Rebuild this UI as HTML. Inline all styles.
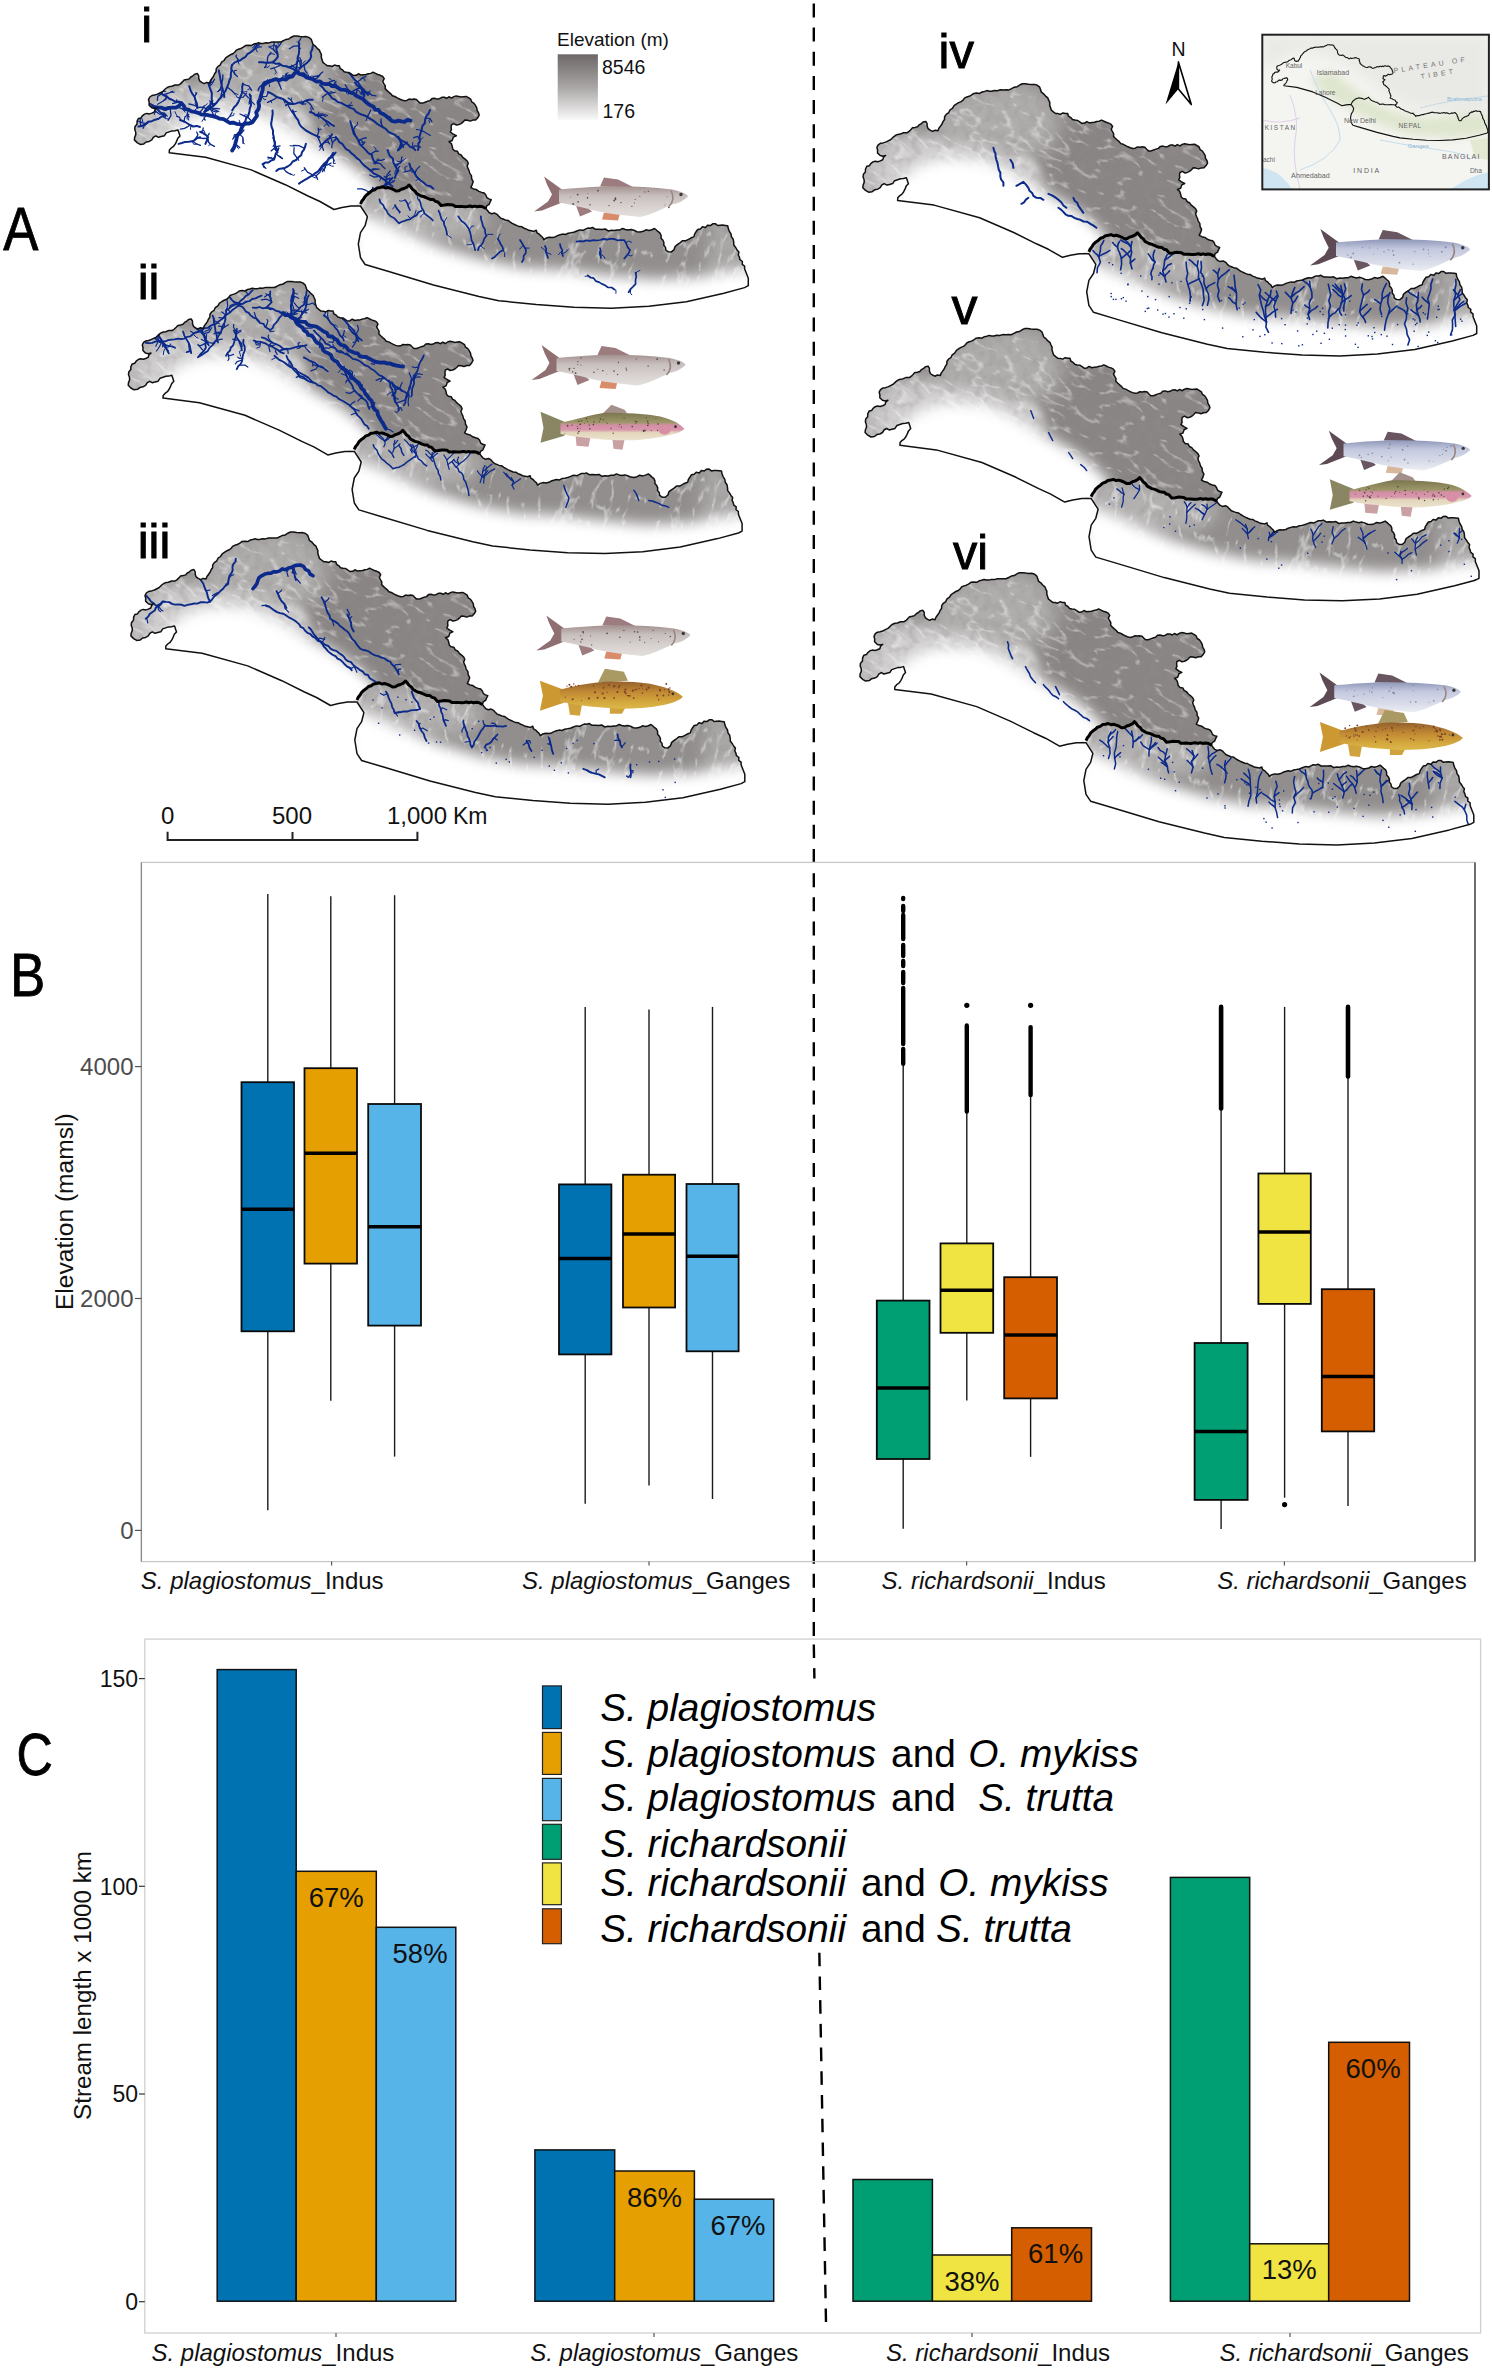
<!DOCTYPE html><html><head><meta charset="utf-8"><style>html,body{margin:0;padding:0;background:#fff;}svg{display:block;} text{font-family:"Liberation Sans",sans-serif;}</style></head><body>
<svg width="1492" height="2368" viewBox="0 0 1492 2368">
<defs>
<clipPath id="clipInd"><path d="M169.2,152.7 L169.4,150.0 L171.2,148.0 L173.6,146.3 L175.3,143.9 L176.6,141.3 L177.8,138.3 L180.0,135.9 L179.0,132.9 L178.0,129.9 L175.1,130.7 L172.1,130.9 L169.2,131.9 L166.2,132.9 L164.3,135.8 L161.2,136.6 L158.4,137.3 L155.8,135.9 L153.3,137.4 L151.8,139.9 L149.2,141.4 L146.2,142.0 L143.8,143.9 L140.2,144.4 L137.1,142.6 L134.4,139.9 L134.7,137.2 L135.8,134.6 L135.7,131.9 L134.7,129.3 L135.0,126.5 L137.0,124.2 L137.1,121.2 L138.4,118.5 L140.9,117.9 L142.4,115.8 L144.5,114.1 L146.8,113.4 L149.5,113.9 L151.8,113.1 L154.3,112.0 L155.2,109.3 L157.2,107.7 L154.5,108.4 L151.8,107.7 L149.1,105.1 L149.2,102.4 L148.5,99.6 L149.8,97.0 L152.0,95.5 L154.7,95.1 L157.2,94.3 L159.8,93.0 L162.5,91.7 L165.2,89.0 L167.2,87.5 L169.4,86.6 L171.9,86.3 L175.1,85.0 L178.6,85.0 L180.6,83.6 L182.4,81.9 L184.1,80.0 L186.7,79.6 L189.1,78.9 L190.8,77.0 L192.9,75.8 L194.7,74.2 L197.4,73.6 L198.7,75.8 L198.7,78.3 L199.7,80.9 L201.7,82.4 L204.1,83.6 L206.7,82.4 L209.5,83.0 L210.5,80.5 L212.1,78.3 L213.6,76.2 L214.6,73.8 L216.1,71.7 L216.2,68.9 L217.8,66.6 L220.3,64.9 L221.5,62.2 L224.0,60.5 L225.7,57.8 L228.2,56.1 L230.3,54.8 L232.8,53.8 L234.7,52.2 L236.3,50.1 L238.5,49.2 L240.8,48.5 L243.0,47.4 L245.4,45.6 L248.2,45.2 L251.2,45.6 L253.7,44.1 L256.1,43.6 L258.5,42.8 L261.0,43.4 L263.4,43.4 L265.8,42.7 L268.9,42.9 L272.0,42.0 L275.1,42.1 L277.8,42.0 L280.5,42.1 L283.2,40.8 L285.9,39.4 L288.8,38.9 L291.3,37.2 L293.9,36.0 L297.1,36.0 L300.2,36.4 L303.3,36.7 L306.3,36.6 L309.0,37.5 L311.3,39.4 L312.2,41.9 L313.0,44.4 L315.3,46.1 L317.2,48.3 L319.4,50.1 L320.3,52.4 L321.4,54.6 L321.3,57.2 L322.0,59.5 L322.9,62.3 L325.0,64.0 L327.2,65.7 L329.6,65.8 L332.0,66.5 L334.5,65.1 L336.9,65.7 L339.3,65.7 L340.1,68.4 L342.4,69.8 L344.1,71.7 L346.5,72.3 L349.1,72.6 L351.3,74.0 L353.5,75.6 L356.2,75.3 L358.4,73.8 L361.1,75.1 L363.6,74.7 L366.0,74.5 L368.4,73.7 L370.8,73.4 L373.1,72.3 L375.5,73.4 L377.8,74.5 L380.4,75.3 L382.7,76.5 L384.2,78.7 L382.8,81.5 L384.0,83.8 L385.3,86.0 L385.1,88.6 L386.9,90.4 L388.8,92.2 L390.8,93.8 L392.4,95.8 L394.9,96.5 L397.2,97.8 L399.5,99.0 L401.9,100.0 L404.4,100.7 L406.8,100.4 L409.1,99.1 L411.6,99.4 L414.0,99.0 L416.5,99.5 L418.2,101.4 L420.1,103.1 L422.8,103.1 L425.1,102.2 L427.6,101.3 L430.0,100.6 L432.0,98.6 L434.6,98.3 L437.0,99.1 L439.4,98.7 L441.9,97.3 L444.3,97.2 L446.7,98.3 L448.9,96.8 L451.6,98.1 L453.8,96.6 L456.2,95.9 L458.7,96.4 L461.1,97.0 L463.6,96.7 L466.1,96.4 L468.4,97.7 L470.7,99.2 L471.7,101.8 L474.0,103.3 L475.5,105.5 L476.8,107.9 L477.1,110.5 L478.5,112.7 L479.2,115.1 L477.7,117.8 L475.6,120.0 L472.9,120.1 L470.2,121.1 L467.5,120.3 L464.8,120.0 L463.1,121.9 L461.1,123.6 L458.8,124.6 L456.4,125.1 L453.8,123.6 L451.5,124.8 L451.1,127.2 L451.4,129.7 L450.3,132.0 L453.2,134.1 L456.3,135.7 L453.4,137.1 L452.2,140.5 L449.1,141.7 L451.3,143.6 L452.2,146.1 L452.7,148.9 L454.5,150.8 L457.4,151.3 L458.7,153.9 L461.1,155.0 L462.8,157.3 L465.1,159.1 L467.2,161.0 L468.3,163.3 L467.1,166.1 L468.0,168.4 L469.1,170.7 L469.6,173.1 L471.4,175.6 L471.7,178.8 L473.2,181.5 L472.2,184.6 L470.8,187.5 L473.5,188.9 L476.4,189.6 L478.9,191.4 L481.7,192.4 L484.2,193.0 L485.8,194.9 L486.8,197.6 L488.9,198.9 L491.3,199.6 L490.1,202.0 L489.1,204.4 L486.7,205.9 L486.0,208.5 L482.0,206.5 L479.6,206.3 L477.2,206.7 L474.8,206.1 L472.4,206.7 L470.0,206.0 L467.6,206.4 L465.2,206.7 L462.8,206.6 L460.4,206.4 L458.0,206.5 L455.4,206.5 L453.1,204.9 L450.6,204.7 L448.0,204.5 L444.5,205.1 L441.0,205.5 L438.0,202.0 L435.5,201.4 L433.4,199.6 L430.7,199.5 L428.3,198.7 L426.0,197.5 L423.6,196.5 L421.1,196.0 L418.8,194.7 L416.5,193.5 L415.0,191.1 L412.6,189.4 L410.9,187.1 L409.0,185.0 L406.8,187.1 L404.0,188.5 L401.3,189.3 L398.9,190.8 L396.0,191.0 L393.5,189.5 L390.8,188.4 L388.0,187.5 L385.3,188.0 L382.7,186.8 L380.0,187.5 L377.1,187.9 L374.7,189.7 L372.0,190.5 L369.8,192.6 L367.2,194.4 L365.0,196.5 L363.6,199.0 L361.7,201.3 L360.5,204.0 L351.0,206.0 L342.0,207.5 L334.0,209.5 L320.0,201.5 L308.0,196.0 L285.3,184.7 L251.2,169.9 L205.6,157.3 L169.2,152.7Z"/></clipPath>
<clipPath id="clipGan"><path d="M360.5,204.0 L361.7,201.3 L363.6,199.0 L365.0,196.5 L367.2,194.4 L369.8,192.6 L372.0,190.5 L374.7,189.7 L377.1,187.9 L380.0,187.5 L382.7,186.8 L385.3,188.0 L388.0,187.5 L390.8,188.4 L393.5,189.5 L396.0,191.0 L398.9,190.8 L401.3,189.3 L404.0,188.5 L406.8,187.1 L409.0,185.0 L410.9,187.1 L412.6,189.4 L415.0,191.1 L416.5,193.5 L418.8,194.7 L421.1,196.0 L423.6,196.5 L426.0,197.5 L428.3,198.7 L430.7,199.5 L433.4,199.6 L435.5,201.4 L438.0,202.0 L441.0,205.5 L444.5,205.1 L448.0,204.5 L450.6,204.7 L453.1,204.9 L455.4,206.5 L458.0,206.5 L460.4,206.4 L462.8,206.6 L465.2,206.7 L467.6,206.4 L470.0,206.0 L472.4,206.7 L474.8,206.1 L477.2,206.7 L479.6,206.3 L482.0,206.5 L486.0,208.5 L487.5,210.6 L489.3,212.7 L491.6,213.8 L494.7,213.1 L497.0,214.3 L498.8,216.3 L500.7,218.1 L503.0,219.0 L505.3,220.0 L508.0,220.4 L510.0,221.9 L512.2,223.3 L514.6,224.5 L517.0,225.6 L519.4,226.6 L522.0,226.8 L524.2,228.3 L526.5,229.1 L528.8,230.3 L531.3,230.8 L533.8,231.4 L536.3,230.3 L537.0,232.8 L539.2,234.1 L540.9,235.9 L542.7,237.5 L543.8,239.7 L546.4,238.0 L549.2,237.2 L552.3,237.5 L555.1,236.9 L557.5,235.6 L560.0,234.8 L562.6,234.1 L565.6,234.5 L568.2,233.2 L571.0,232.8 L573.8,232.2 L576.8,231.0 L579.8,229.9 L583.2,230.3 L585.4,229.2 L587.7,228.1 L590.3,228.2 L592.6,227.5 L595.5,229.3 L598.8,229.2 L602.0,229.4 L605.2,229.0 L608.2,230.9 L611.4,230.3 L614.3,230.5 L617.1,229.9 L619.9,229.9 L622.6,228.5 L625.3,229.5 L628.1,230.1 L631.1,229.5 L633.9,230.3 L636.9,231.7 L640.1,232.0 L643.3,231.3 L645.9,229.8 L649.0,230.5 L651.8,229.7 L654.5,228.5 L656.4,230.0 L658.2,231.7 L660.1,233.2 L661.1,235.5 L661.1,238.2 L662.9,240.2 L663.9,242.5 L663.8,245.2 L665.5,247.4 L665.8,250.0 L668.3,251.8 L671.4,251.9 L674.1,249.6 L675.2,246.3 L677.6,244.4 L680.3,242.7 L682.7,240.7 L685.8,240.7 L688.5,239.3 L691.1,237.8 L693.9,236.9 L694.6,234.1 L696.1,231.7 L697.7,229.4 L700.4,228.9 L702.4,226.8 L705.5,227.5 L707.5,225.2 L710.5,225.6 L712.7,223.8 L715.3,223.7 L717.6,225.5 L720.1,225.2 L722.7,225.1 L725.2,225.4 L727.7,225.7 L728.3,228.6 L729.4,231.4 L731.0,234.0 L731.5,236.9 L733.2,239.3 L733.7,242.2 L733.9,245.2 L735.7,247.5 L737.1,250.0 L738.9,252.0 L738.3,255.0 L739.4,257.2 L740.0,259.7 L742.4,261.5 L742.2,264.3 L744.6,266.1 L744.6,268.8 L748.3,278.2 L748.3,285.7 L744.6,287.6 L723.9,293.2 L686.4,301.7 L648.9,306.3 L611.4,308.2 L573.8,307.3 L536.3,304.5 L498.8,300.7 L479.0,296.4 L433.5,285.0 L387.9,271.3 L365.1,264.5 L360.5,257.6 L358.3,244.0 L360.5,232.6 L365.1,225.7 L367.4,216.6 L360.5,206.0Z"/></clipPath>
<linearGradient id="gInd" gradientUnits="userSpaceOnUse" x1="240" y1="150" x2="330" y2="60"><stop offset="0" stop-color="#d8d6d6"/><stop offset="0.55" stop-color="#9a9696"/><stop offset="1" stop-color="#8b8787"/></linearGradient>
<linearGradient id="gLeg" x1="0" y1="0" x2="0" y2="1"><stop offset="0" stop-color="#6d6767"/><stop offset="0.5" stop-color="#aaa6a6"/><stop offset="1" stop-color="#fafafa"/></linearGradient>
<filter id="blur5" x="-50%" y="-50%" width="200%" height="200%"><feGaussianBlur stdDeviation="4"/></filter>
<filter id="blur8" x="-50%" y="-50%" width="200%" height="200%"><feGaussianBlur stdDeviation="7"/></filter>
<filter id="blur10" x="-50%" y="-50%" width="200%" height="200%"><feGaussianBlur stdDeviation="9"/></filter>
<filter id="blur12" x="-50%" y="-50%" width="200%" height="200%"><feGaussianBlur stdDeviation="10"/></filter>
<filter id="tex" filterUnits="userSpaceOnUse" x="0" y="-200" width="900" height="700"><feTurbulence type="turbulence" baseFrequency="0.028 0.06" numOctaves="3" seed="7" result="t"/><feColorMatrix in="t" type="matrix" values="0 0 0 0 1  0 0 0 0 1  0 0 0 0 1  -6 0 0 0 1.15"/></filter>
<filter id="tex2" filterUnits="userSpaceOnUse" x="100" y="20" width="680" height="310"><feTurbulence type="fractalNoise" baseFrequency="0.12" numOctaves="2" seed="3" result="t"/><feColorMatrix in="t" type="matrix" values="0 0 0 0 0.3  0 0 0 0 0.28  0 0 0 0 0.28  1.6 0 0 0 -0.7"/></filter>
<linearGradient id="gSnow" x1="0" y1="0" x2="0" y2="1"><stop offset="0" stop-color="#a3918f"/><stop offset="0.3" stop-color="#c7bfbd"/><stop offset="0.7" stop-color="#d9d3d1"/><stop offset="1" stop-color="#e4dfdd"/></linearGradient>
<linearGradient id="gRich" x1="0" y1="0" x2="0" y2="1"><stop offset="0" stop-color="#8f97b8"/><stop offset="0.3" stop-color="#c3c8de"/><stop offset="0.7" stop-color="#d8dbe8"/><stop offset="1" stop-color="#eceef3"/></linearGradient>
<linearGradient id="gRain" x1="0" y1="0" x2="0" y2="1"><stop offset="0" stop-color="#7c7650"/><stop offset="0.35" stop-color="#9c9668"/><stop offset="0.45" stop-color="#d48ea6"/><stop offset="0.62" stop-color="#d896ab"/><stop offset="0.72" stop-color="#e2d6bc"/><stop offset="1" stop-color="#ece2cc"/></linearGradient>
<linearGradient id="gBrown" x1="0" y1="0" x2="0" y2="1"><stop offset="0" stop-color="#94602c"/><stop offset="0.4" stop-color="#c28a34"/><stop offset="0.75" stop-color="#d4a83e"/><stop offset="1" stop-color="#dcb84a"/></linearGradient>
</defs>
<rect width="1492" height="2368" fill="#fff"/>
<g transform="translate(0,0)"><g clip-path="url(#clipInd)"><rect x="120" y="30" width="380" height="200" fill="#8a8585"/><polygon points="195.0,70.0 230.0,45.0 290.0,32.0 320.0,45.0 335.0,75.0 320.0,105.0 290.0,115.0 250.0,100.0 215.0,95.0" fill="#b0adad" filter="url(#blur12)"/><polygon points="128.0,150.0 130.0,110.0 150.0,92.0 175.0,84.0 200.0,84.0 220.0,96.0 215.0,115.0 195.0,135.0 165.0,160.0" fill="#bdbbbb" filter="url(#blur8)"/><polygon points="140.0,140.0 150.0,110.0 175.0,98.0 205.0,92.0 240.0,92.0 270.0,100.0 295.0,115.0 320.0,135.0 300.0,150.0 240.0,140.0 180.0,150.0" fill="#cfcdcd" filter="url(#blur8)"/><ellipse cx="298" cy="118" rx="15" ry="8" transform="rotate(35 298 118)" fill="#d6d4d4" filter="url(#blur5)"/><rect x="100" y="20" width="680" height="310" filter="url(#tex2)" opacity="0.5"/><g transform="rotate(28 400 150)"><rect x="0" y="-200" width="900" height="700" filter="url(#tex)" opacity="0.42"/></g><polygon points="160.0,162.0 166.0,136.0 180.0,124.0 198.0,114.0 222.0,110.0 250.0,112.0 276.0,121.0 301.0,135.0 329.0,150.0 354.0,166.0 370.0,180.0 380.0,192.0 372.0,220.0 330.0,230.0 250.0,200.0 160.0,175.0" fill="#ffffff" filter="url(#blur8)"/><polyline points="153.8,107.1 157.6,107.5 161.5,107.7 165.2,109.1 168.7,107.9 172.3,107.6 175.9,107.7 179.0,105.9 181.3,103.1 183.8,105.8 185.3,109.1 188.5,109.7 191.4,111.3 194.7,111.8 198.2,112.8 201.6,114.6 205.4,114.5 209.0,115.3 212.6,116.1 216.2,117.1 219.7,118.7 223.6,119.2 226.9,121.2 229.8,123.0 233.2,122.6 236.3,123.8 239.7,124.2 243.0,125.2" fill="none" stroke="#0b2a8a" stroke-width="3.8" stroke-linecap="round" stroke-linejoin="round"/><polyline points="297.9,71.6 294.7,73.2 292.4,76.3 288.7,77.3 285.9,79.6 282.5,78.9 279.2,80.3 275.8,79.1 272.5,80.3 268.4,81.6 264.4,83.0 262.9,86.2 262.7,89.7 261.7,93.0 260.8,96.2 260.0,99.4 258.4,102.4 259.2,105.9 258.4,109.2 256.2,112.3 257.0,115.8 254.6,119.1 252.3,122.5 249.2,123.5 245.8,123.4 243.0,125.2 241.4,128.5 240.3,131.9 237.3,135.4 236.3,139.9 235.3,143.6 234.2,147.3 232.2,150.6" fill="none" stroke="#0b2a8a" stroke-width="3.8" stroke-linecap="round" stroke-linejoin="round"/><polyline points="296.6,71.6 299.5,74.2 303.7,74.2 306.3,77.3 310.0,78.3 313.3,79.6 316.3,81.5 320.0,81.4 322.6,83.6 325.9,84.2 329.4,84.0 332.0,86.2 335.4,86.0 338.1,87.9 340.9,89.6 344.1,89.8 347.6,90.4 350.2,92.6 353.6,93.4 356.2,95.8 359.4,97.4 362.7,98.7 365.1,101.3 367.8,103.6 370.7,105.5 373.5,106.7 375.1,109.7 378.5,110.0 380.3,112.7 383.7,114.3 386.7,116.5 389.5,118.9 392.4,121.2 395.4,121.7 398.4,120.6 401.5,121.4 404.5,121.8 407.5,119.8 410.5,120.6" fill="none" stroke="#0b2a8a" stroke-width="3.8" stroke-linecap="round" stroke-linejoin="round"/><polyline points="232.2,64.9 231.3,67.8 231.4,70.9 230.8,73.9 230.9,76.9 229.4,80.4 228.4,84.1 226.9,87.6 225.4,91.0 223.4,94.0 221.3,97.0 218.8,99.7 216.5,102.8 213.9,105.5 210.8,107.7 207.7,110.2 204.1,111.8" fill="none" stroke="#0b2a8a" stroke-width="2.0" stroke-linecap="round" stroke-linejoin="round"/><polyline points="259.0,62.2 262.4,62.3 265.8,62.7 269.1,62.7 272.5,62.2 275.7,63.8 279.4,63.6 282.4,65.7 285.9,66.2 289.7,67.5 293.4,69.2 296.6,71.6" fill="none" stroke="#0b2a8a" stroke-width="2.0" stroke-linecap="round" stroke-linejoin="round"/><polyline points="320.0,85.0 322.7,87.4 324.7,90.4 327.8,92.5 330.0,95.3 332.0,98.3 335.1,99.7 337.8,102.0 341.2,102.9 344.2,104.6 347.3,106.1 350.2,107.9 353.5,108.9 355.9,111.7 358.9,113.4 362.1,114.7 365.4,115.8 368.3,117.6 371.2,119.4 374.2,121.2 376.8,123.6 379.7,125.5 382.7,127.2 385.8,128.9 388.1,131.6 391.2,133.3 394.6,134.6 397.2,136.9 399.5,139.2 402.2,140.9 405.2,142.2 407.7,144.2 409.9,146.7 413.1,147.6 415.3,150.1" fill="none" stroke="#0b2a8a" stroke-width="2.0" stroke-linecap="round" stroke-linejoin="round"/><polyline points="350.2,121.2 351.5,125.4 352.6,129.6 353.7,133.6 356.2,136.9 358.4,140.3 359.8,144.1 362.8,147.1 365.8,150.1 368.4,153.1 371.9,155.0 372.5,158.1 373.8,160.8 375.5,163.4" fill="none" stroke="#0b2a8a" stroke-width="2.0" stroke-linecap="round" stroke-linejoin="round"/><polyline points="335.7,136.9 337.8,139.3 339.4,142.2 342.3,143.8 344.1,146.5 346.1,149.1 349.1,150.6 351.2,153.1 353.8,155.0 356.5,157.9 359.7,160.3 362.2,163.4 364.8,166.0 367.8,168.3 370.7,170.6 373.5,173.3 376.9,174.9 380.3,176.7 382.8,178.6 385.3,180.5 387.6,182.7 392.4,186.3" fill="none" stroke="#0b2a8a" stroke-width="2.0" stroke-linecap="round" stroke-linejoin="round"/><polyline points="409.3,163.4 410.5,167.3 412.9,170.6 414.9,173.5 416.5,176.7 418.8,178.9 421.2,181.0 423.8,182.7 426.6,185.4 430.5,186.3 433.4,188.7" fill="none" stroke="#0b2a8a" stroke-width="2.0" stroke-linecap="round" stroke-linejoin="round"/><polyline points="392.4,177.9 390.2,180.1 388.8,183.1 386.4,185.1 383.4,186.5 380.6,188.1 377.9,190.0 374.6,190.4 371.3,191.0 368.3,192.4" fill="none" stroke="#0b2a8a" stroke-width="2.0" stroke-linecap="round" stroke-linejoin="round"/><polyline points="262.6,164.2 265.3,162.6 268.5,162.5 271.1,160.5 274.0,159.6 275.0,156.7 275.6,153.7 277.4,151.1 278.5,148.2" fill="none" stroke="#0b2a8a" stroke-width="2.0" stroke-linecap="round" stroke-linejoin="round"/><polyline points="276.2,171.0 278.7,169.1 281.8,168.5 284.9,167.9 287.6,166.5 290.6,164.5 292.7,161.5 296.1,160.0 298.5,157.3 301.3,155.1 302.0,152.1 304.0,149.6 305.1,146.7 305.9,143.7" fill="none" stroke="#0b2a8a" stroke-width="2.0" stroke-linecap="round" stroke-linejoin="round"/><polyline points="299.0,183.6 301.6,181.8 304.4,180.2 307.1,178.6 309.8,176.9 312.6,175.4 315.0,173.3 318.1,171.4 320.4,168.4 323.0,165.8 326.4,164.2 327.5,161.0 329.5,158.3 331.6,155.7 333.2,152.8" fill="none" stroke="#0b2a8a" stroke-width="2.0" stroke-linecap="round" stroke-linejoin="round"/><polyline points="259.0,44.7 256.2,46.1 254.6,48.8 252.4,50.9 250.0,52.7 247.3,54.2 245.6,56.8 242.8,58.3 240.4,60.3 237.3,61.3 234.4,62.6 232.2,64.9" fill="none" stroke="#0b2a8a" stroke-width="2.0" stroke-linecap="round" stroke-linejoin="round"/><polyline points="276.5,46.1 276.4,49.7 277.5,53.2 277.8,56.8 275.5,59.9 272.5,62.2" fill="none" stroke="#0b2a8a" stroke-width="2.0" stroke-linecap="round" stroke-linejoin="round"/><polyline points="299.3,43.4 299.0,46.8 299.2,50.2 298.9,53.5 297.9,56.8 297.7,60.2 296.7,63.4 296.6,66.8 296.6,70.2" fill="none" stroke="#0b2a8a" stroke-width="2.0" stroke-linecap="round" stroke-linejoin="round"/><polyline points="312.7,46.1 312.2,49.5 310.6,52.6 311.2,56.3 310.0,59.5 307.6,62.2 304.9,64.5 301.9,66.5 299.3,68.9" fill="none" stroke="#0b2a8a" stroke-width="2.0" stroke-linecap="round" stroke-linejoin="round"/><polyline points="161.2,93.0 163.5,95.2 166.7,96.2 168.9,98.5 171.9,99.7 174.8,101.3 178.2,101.5 181.3,102.4" fill="none" stroke="#0b2a8a" stroke-width="2.0" stroke-linecap="round" stroke-linejoin="round"/><polyline points="189.3,86.3 190.5,90.2 192.3,93.7 194.7,97.0 195.6,100.6 197.0,104.0 197.4,107.7" fill="none" stroke="#0b2a8a" stroke-width="2.0" stroke-linecap="round" stroke-linejoin="round"/><polyline points="205.4,76.9 207.4,80.0 208.5,83.4 209.5,86.9 210.8,90.3 211.9,93.2 211.7,96.3 211.8,99.4 212.1,102.4 210.1,105.2 207.3,107.5 205.4,110.4" fill="none" stroke="#0b2a8a" stroke-width="2.0" stroke-linecap="round" stroke-linejoin="round"/><polyline points="218.8,70.2 219.4,73.6 220.1,76.9 220.6,80.3 221.5,83.6 222.0,87.0 223.0,90.3 224.1,93.5 224.2,97.0" fill="none" stroke="#0b2a8a" stroke-width="2.0" stroke-linecap="round" stroke-linejoin="round"/><polyline points="243.0,83.6 242.2,86.9 242.4,90.5 241.7,93.8 240.3,97.0 239.2,99.8 238.0,102.6 236.3,105.1 233.9,107.5 232.2,110.4" fill="none" stroke="#0b2a8a" stroke-width="2.0" stroke-linecap="round" stroke-linejoin="round"/><polyline points="249.7,94.3 250.7,97.8 250.7,101.5 251.0,105.1 249.8,108.6 249.3,112.3 248.3,115.8 246.1,118.2 245.3,121.5 243.0,123.8" fill="none" stroke="#0b2a8a" stroke-width="2.0" stroke-linecap="round" stroke-linejoin="round"/><polyline points="272.5,110.4 272.7,113.8 272.2,117.1 271.7,120.5 271.1,123.8 271.7,127.2 273.0,130.4 273.0,133.9 273.8,137.2 274.1,140.6 274.9,144.0 275.3,147.4 276.5,150.6" fill="none" stroke="#0b2a8a" stroke-width="2.0" stroke-linecap="round" stroke-linejoin="round"/><polyline points="285.9,105.1 289.1,103.7 292.7,104.0 296.0,103.4 299.3,102.4 302.8,102.3 305.9,100.5 309.2,99.7 312.7,99.7" fill="none" stroke="#0b2a8a" stroke-width="2.0" stroke-linecap="round" stroke-linejoin="round"/><polyline points="292.6,110.4 293.9,113.9 295.7,117.2 298.1,120.2 299.3,123.8 301.1,126.5 303.5,128.5 306.0,130.5 309.3,132.3 312.5,134.2 316.0,135.7 319.4,137.2" fill="none" stroke="#0b2a8a" stroke-width="2.0" stroke-linecap="round" stroke-linejoin="round"/><polyline points="178.6,143.9 181.9,143.0 185.2,141.9 188.6,141.7 192.0,141.3 194.8,140.1 197.2,138.1 200.1,137.2" fill="none" stroke="#0b2a8a" stroke-width="2.0" stroke-linecap="round" stroke-linejoin="round"/><polyline points="200.1,131.9 203.1,133.2 205.8,134.9 208.1,137.2 206.8,140.6 205.4,143.9" fill="none" stroke="#0b2a8a" stroke-width="2.0" stroke-linecap="round" stroke-linejoin="round"/><polyline points="138.4,126.5 142.0,125.9 145.2,124.2 148.1,121.8 151.8,121.2 155.1,119.7 158.6,118.8 161.6,116.5 165.2,115.8" fill="none" stroke="#0b2a8a" stroke-width="2.0" stroke-linecap="round" stroke-linejoin="round"/><polyline points="355.0,82.6 357.0,85.4 360.1,87.1 362.2,89.8 363.5,92.8 364.6,95.8" fill="none" stroke="#0b2a8a" stroke-width="2.0" stroke-linecap="round" stroke-linejoin="round"/><polyline points="387.6,150.1 388.7,153.3 390.1,156.3 392.9,158.6 393.3,162.1 394.7,165.0 396.3,167.9 398.4,170.6 396.2,174.0 394.8,177.9" fill="none" stroke="#0b2a8a" stroke-width="2.0" stroke-linecap="round" stroke-linejoin="round"/><polyline points="398.4,136.9 399.8,140.0 401.1,143.2 402.0,146.5 398.4,150.1" fill="none" stroke="#0b2a8a" stroke-width="2.0" stroke-linecap="round" stroke-linejoin="round"/><polyline points="332.0,134.4 329.6,138.0 326.0,140.5 323.1,143.6 320.0,146.5" fill="none" stroke="#0b2a8a" stroke-width="2.0" stroke-linecap="round" stroke-linejoin="round"/><polyline points="335.7,152.5 333.8,154.9 331.9,157.2 328.8,158.3 327.2,161.0 324.3,163.4 322.0,166.3 320.0,169.4" fill="none" stroke="#0b2a8a" stroke-width="2.0" stroke-linecap="round" stroke-linejoin="round"/><polyline points="345.0,70.0 347.7,72.3 350.5,74.5 352.6,77.4 355.0,80.0 357.7,82.0 359.5,84.8 361.4,87.6 363.9,89.8 366.0,92.3 368.0,95.0" fill="none" stroke="#0b2a8a" stroke-width="2.0" stroke-linecap="round" stroke-linejoin="round"/><polyline points="430.0,110.0 428.6,113.5 426.2,116.4 425.0,120.0 424.8,123.3 422.5,125.8 421.8,128.9 420.9,132.0 420.0,135.0 419.3,138.0 420.0,141.1 418.2,143.9 418.8,147.0 418.0,150.0" fill="none" stroke="#0b2a8a" stroke-width="2.0" stroke-linecap="round" stroke-linejoin="round"/><polyline points="268.0,92.0 271.1,93.3 274.0,95.0 276.7,97.1 280.0,98.0 283.2,99.1 286.0,101.0 288.6,103.2 292.0,104.0" fill="none" stroke="#0b2a8a" stroke-width="2.0" stroke-linecap="round" stroke-linejoin="round"/><polyline points="310.0,112.0 313.2,113.1 315.9,115.2 319.3,116.0 322.0,118.0 324.9,120.1 328.1,121.9 330.9,124.1 334.0,126.0" fill="none" stroke="#0b2a8a" stroke-width="2.0" stroke-linecap="round" stroke-linejoin="round"/><polyline points="150.0,104.0 153.1,105.4 155.6,107.6 158.0,110.0 161.1,113.1 165.0,115.0" fill="none" stroke="#0b2a8a" stroke-width="2.0" stroke-linecap="round" stroke-linejoin="round"/><polyline points="180.0,120.0 183.6,121.2 186.8,123.0 190.0,125.0 193.2,126.5 196.7,125.9 200.0,127.0" fill="none" stroke="#0b2a8a" stroke-width="2.0" stroke-linecap="round" stroke-linejoin="round"/><polyline points="225.5,120.6 228.5,118.0 230.3,115.3 232.0,112.5" fill="none" stroke="#0b2a8a" stroke-width="1.3" stroke-linecap="round" stroke-linejoin="round"/><polyline points="182.0,104.2 178.5,102.2 172.7,103.5" fill="none" stroke="#0b2a8a" stroke-width="1.3" stroke-linecap="round" stroke-linejoin="round"/><polyline points="186.6,109.5 181.7,108.5 178.7,107.7 175.7,106.8" fill="none" stroke="#0b2a8a" stroke-width="1.3" stroke-linecap="round" stroke-linejoin="round"/><polyline points="215.8,117.0 213.3,114.5 211.8,111.2 210.5,109.3" fill="none" stroke="#0b2a8a" stroke-width="1.3" stroke-linecap="round" stroke-linejoin="round"/><polyline points="227.5,121.4 230.3,122.7 233.3,123.7 238.4,123.8" fill="none" stroke="#0b2a8a" stroke-width="1.3" stroke-linecap="round" stroke-linejoin="round"/><polyline points="199.4,113.0 202.3,109.4 204.2,105.8" fill="none" stroke="#0b2a8a" stroke-width="1.3" stroke-linecap="round" stroke-linejoin="round"/><polyline points="170.1,108.5 170.6,112.1 171.0,115.7 168.0,120.3" fill="none" stroke="#0b2a8a" stroke-width="1.3" stroke-linecap="round" stroke-linejoin="round"/><polyline points="188.3,110.0 187.0,114.5 189.2,116.9" fill="none" stroke="#0b2a8a" stroke-width="1.3" stroke-linecap="round" stroke-linejoin="round"/><polyline points="206.6,114.8 203.9,118.2 205.2,120.1" fill="none" stroke="#0b2a8a" stroke-width="1.3" stroke-linecap="round" stroke-linejoin="round"/><polyline points="263.8,85.1 266.8,84.3 269.3,82.5 270.8,80.7" fill="none" stroke="#0b2a8a" stroke-width="1.3" stroke-linecap="round" stroke-linejoin="round"/><polyline points="278.3,80.0 279.2,83.9 281.4,89.2" fill="none" stroke="#0b2a8a" stroke-width="1.3" stroke-linecap="round" stroke-linejoin="round"/><polyline points="286.3,79.3 285.5,74.8 286.6,73.5" fill="none" stroke="#0b2a8a" stroke-width="1.3" stroke-linecap="round" stroke-linejoin="round"/><polyline points="292.3,75.3 289.2,74.9 286.2,75.8 282.6,76.1" fill="none" stroke="#0b2a8a" stroke-width="1.3" stroke-linecap="round" stroke-linejoin="round"/><polyline points="269.1,81.4 268.2,82.0 266.1,84.7 263.3,86.6" fill="none" stroke="#0b2a8a" stroke-width="1.3" stroke-linecap="round" stroke-linejoin="round"/><polyline points="239.1,134.3 241.1,133.6 243.9,130.0" fill="none" stroke="#0b2a8a" stroke-width="1.3" stroke-linecap="round" stroke-linejoin="round"/><polyline points="233.9,146.1 236.6,144.9 239.7,147.6" fill="none" stroke="#0b2a8a" stroke-width="1.3" stroke-linecap="round" stroke-linejoin="round"/><polyline points="239.0,134.5 236.6,137.5 237.4,139.8" fill="none" stroke="#0b2a8a" stroke-width="1.3" stroke-linecap="round" stroke-linejoin="round"/><polyline points="264.4,83.2 262.0,85.0 259.7,86.9 258.0,90.0" fill="none" stroke="#0b2a8a" stroke-width="1.3" stroke-linecap="round" stroke-linejoin="round"/><polyline points="239.8,133.0 235.5,135.0 232.7,139.1" fill="none" stroke="#0b2a8a" stroke-width="1.3" stroke-linecap="round" stroke-linejoin="round"/><polyline points="239.3,133.9 242.9,137.4 243.1,143.4" fill="none" stroke="#0b2a8a" stroke-width="1.3" stroke-linecap="round" stroke-linejoin="round"/><polyline points="252.9,121.7 250.3,119.7 248.1,117.5 246.5,116.9" fill="none" stroke="#0b2a8a" stroke-width="1.3" stroke-linecap="round" stroke-linejoin="round"/><polyline points="347.0,91.2 347.3,88.4 345.1,84.7" fill="none" stroke="#0b2a8a" stroke-width="1.3" stroke-linecap="round" stroke-linejoin="round"/><polyline points="350.4,92.9 354.2,90.3 357.5,88.6 361.1,87.8" fill="none" stroke="#0b2a8a" stroke-width="1.3" stroke-linecap="round" stroke-linejoin="round"/><polyline points="312.8,79.2 313.7,76.7 318.4,76.0" fill="none" stroke="#0b2a8a" stroke-width="1.3" stroke-linecap="round" stroke-linejoin="round"/><polyline points="383.3,114.8 386.8,117.7 390.0,116.8" fill="none" stroke="#0b2a8a" stroke-width="1.3" stroke-linecap="round" stroke-linejoin="round"/><polyline points="313.6,79.4 316.5,78.4 318.8,76.4 320.4,73.8 322.8,71.9" fill="none" stroke="#0b2a8a" stroke-width="1.3" stroke-linecap="round" stroke-linejoin="round"/><polyline points="327.1,84.2 330.2,81.6 334.5,80.4" fill="none" stroke="#0b2a8a" stroke-width="1.3" stroke-linecap="round" stroke-linejoin="round"/><polyline points="296.9,71.7 295.1,67.9 291.4,65.4" fill="none" stroke="#0b2a8a" stroke-width="1.3" stroke-linecap="round" stroke-linejoin="round"/><polyline points="310.8,78.5 307.5,78.0 304.3,76.8 301.0,75.6" fill="none" stroke="#0b2a8a" stroke-width="1.3" stroke-linecap="round" stroke-linejoin="round"/><polyline points="329.5,85.2 333.5,84.9 335.9,81.4" fill="none" stroke="#0b2a8a" stroke-width="1.3" stroke-linecap="round" stroke-linejoin="round"/><polyline points="211.2,107.3 213.5,108.7 216.5,108.4 219.6,108.9" fill="none" stroke="#0b2a8a" stroke-width="1.3" stroke-linecap="round" stroke-linejoin="round"/><polyline points="214.1,104.4 212.5,104.6 209.8,100.8" fill="none" stroke="#0b2a8a" stroke-width="1.3" stroke-linecap="round" stroke-linejoin="round"/><polyline points="213.0,105.5 209.4,108.6 205.2,112.1" fill="none" stroke="#0b2a8a" stroke-width="1.3" stroke-linecap="round" stroke-linejoin="round"/><polyline points="210.2,108.0 210.6,105.4 210.2,102.8" fill="none" stroke="#0b2a8a" stroke-width="1.3" stroke-linecap="round" stroke-linejoin="round"/><polyline points="227.1,87.1 231.7,90.5 235.0,94.0" fill="none" stroke="#0b2a8a" stroke-width="1.3" stroke-linecap="round" stroke-linejoin="round"/><polyline points="231.7,69.3 234.7,74.0 237.5,76.6" fill="none" stroke="#0b2a8a" stroke-width="1.3" stroke-linecap="round" stroke-linejoin="round"/><polyline points="281.3,64.8 278.3,66.1 275.4,67.5 270.8,68.9" fill="none" stroke="#0b2a8a" stroke-width="1.3" stroke-linecap="round" stroke-linejoin="round"/><polyline points="267.6,62.2 267.4,59.2 268.1,56.2 271.0,52.5" fill="none" stroke="#0b2a8a" stroke-width="1.3" stroke-linecap="round" stroke-linejoin="round"/><polyline points="266.9,62.2 265.7,66.3 264.5,67.6" fill="none" stroke="#0b2a8a" stroke-width="1.3" stroke-linecap="round" stroke-linejoin="round"/><polyline points="328.5,94.5 330.5,93.2 335.1,92.3" fill="none" stroke="#0b2a8a" stroke-width="1.3" stroke-linecap="round" stroke-linejoin="round"/><polyline points="367.0,116.9 368.9,114.2 370.7,110.2" fill="none" stroke="#0b2a8a" stroke-width="1.3" stroke-linecap="round" stroke-linejoin="round"/><polyline points="412.4,148.0 414.7,145.6 420.5,147.1" fill="none" stroke="#0b2a8a" stroke-width="1.3" stroke-linecap="round" stroke-linejoin="round"/><polyline points="383.3,127.6 381.4,124.4 381.0,118.9" fill="none" stroke="#0b2a8a" stroke-width="1.3" stroke-linecap="round" stroke-linejoin="round"/><polyline points="327.7,93.5 326.1,94.4 322.5,97.1" fill="none" stroke="#0b2a8a" stroke-width="1.3" stroke-linecap="round" stroke-linejoin="round"/><polyline points="346.5,105.9 347.8,105.8 352.3,105.4" fill="none" stroke="#0b2a8a" stroke-width="1.3" stroke-linecap="round" stroke-linejoin="round"/><polyline points="374.8,161.8 378.3,160.4 381.4,160.3 384.3,159.3" fill="none" stroke="#0b2a8a" stroke-width="1.3" stroke-linecap="round" stroke-linejoin="round"/><polyline points="355.2,134.8 353.5,129.3 355.4,126.1" fill="none" stroke="#0b2a8a" stroke-width="1.3" stroke-linecap="round" stroke-linejoin="round"/><polyline points="358.1,140.8 361.1,139.3 364.1,138.0 366.2,138.0" fill="none" stroke="#0b2a8a" stroke-width="1.3" stroke-linecap="round" stroke-linejoin="round"/><polyline points="375.2,162.6 378.2,163.0 381.0,164.1 382.7,166.6 385.0,168.6" fill="none" stroke="#0b2a8a" stroke-width="1.3" stroke-linecap="round" stroke-linejoin="round"/><polyline points="361.0,145.3 363.1,144.3 364.8,142.0" fill="none" stroke="#0b2a8a" stroke-width="1.3" stroke-linecap="round" stroke-linejoin="round"/><polyline points="370.7,154.0 375.1,151.4 378.4,151.2" fill="none" stroke="#0b2a8a" stroke-width="1.3" stroke-linecap="round" stroke-linejoin="round"/><polyline points="386.6,181.9 386.2,178.6 386.8,175.4 390.1,171.0" fill="none" stroke="#0b2a8a" stroke-width="1.3" stroke-linecap="round" stroke-linejoin="round"/><polyline points="370.5,170.5 376.0,169.1 379.2,169.2" fill="none" stroke="#0b2a8a" stroke-width="1.3" stroke-linecap="round" stroke-linejoin="round"/><polyline points="386.5,181.8 384.7,184.3 383.3,186.4" fill="none" stroke="#0b2a8a" stroke-width="1.3" stroke-linecap="round" stroke-linejoin="round"/><polyline points="388.9,183.7 393.2,181.8 394.6,180.5" fill="none" stroke="#0b2a8a" stroke-width="1.3" stroke-linecap="round" stroke-linejoin="round"/><polyline points="337.2,138.6 333.0,141.7 332.1,144.6 331.8,147.6" fill="none" stroke="#0b2a8a" stroke-width="1.3" stroke-linecap="round" stroke-linejoin="round"/><polyline points="379.3,176.1 374.3,177.1 369.7,175.0" fill="none" stroke="#0b2a8a" stroke-width="1.3" stroke-linecap="round" stroke-linejoin="round"/><polyline points="412.0,168.9 409.2,170.8 403.8,172.2" fill="none" stroke="#0b2a8a" stroke-width="1.3" stroke-linecap="round" stroke-linejoin="round"/><polyline points="414.8,173.8 416.5,169.6 419.7,166.4" fill="none" stroke="#0b2a8a" stroke-width="1.3" stroke-linecap="round" stroke-linejoin="round"/><polyline points="414.0,172.5 415.9,175.9 419.6,179.3" fill="none" stroke="#0b2a8a" stroke-width="1.3" stroke-linecap="round" stroke-linejoin="round"/><polyline points="381.8,187.7 378.7,188.9 375.3,189.5 372.6,187.5" fill="none" stroke="#0b2a8a" stroke-width="1.3" stroke-linecap="round" stroke-linejoin="round"/><polyline points="369.1,192.2 365.7,190.2 361.8,188.9 357.6,188.9" fill="none" stroke="#0b2a8a" stroke-width="1.3" stroke-linecap="round" stroke-linejoin="round"/><polyline points="392.0,178.4 390.0,179.1 387.0,178.1 384.3,176.5" fill="none" stroke="#0b2a8a" stroke-width="1.3" stroke-linecap="round" stroke-linejoin="round"/><polyline points="275.1,156.8 273.0,158.7 267.7,157.1" fill="none" stroke="#0b2a8a" stroke-width="1.3" stroke-linecap="round" stroke-linejoin="round"/><polyline points="276.4,153.6 277.6,155.2 279.9,157.1 282.5,158.6" fill="none" stroke="#0b2a8a" stroke-width="1.3" stroke-linecap="round" stroke-linejoin="round"/><polyline points="263.0,164.0 263.6,167.0 265.8,168.2" fill="none" stroke="#0b2a8a" stroke-width="1.3" stroke-linecap="round" stroke-linejoin="round"/><polyline points="283.3,168.2 285.8,171.4 288.4,173.1 291.3,174.4" fill="none" stroke="#0b2a8a" stroke-width="1.3" stroke-linecap="round" stroke-linejoin="round"/><polyline points="297.4,158.3 293.8,153.5 294.1,147.7" fill="none" stroke="#0b2a8a" stroke-width="1.3" stroke-linecap="round" stroke-linejoin="round"/><polyline points="304.1,148.1 298.9,145.6 293.4,145.5" fill="none" stroke="#0b2a8a" stroke-width="1.3" stroke-linecap="round" stroke-linejoin="round"/><polyline points="312.6,174.8 307.4,172.2 304.2,167.7" fill="none" stroke="#0b2a8a" stroke-width="1.3" stroke-linecap="round" stroke-linejoin="round"/><polyline points="325.3,165.1 325.5,167.3 322.4,171.7" fill="none" stroke="#0b2a8a" stroke-width="1.3" stroke-linecap="round" stroke-linejoin="round"/><polyline points="313.2,174.5 316.3,176.0 317.6,179.4" fill="none" stroke="#0b2a8a" stroke-width="1.3" stroke-linecap="round" stroke-linejoin="round"/><polyline points="253.2,50.0 258.1,47.2 261.4,46.8" fill="none" stroke="#0b2a8a" stroke-width="1.3" stroke-linecap="round" stroke-linejoin="round"/><polyline points="257.7,45.9 255.6,43.7 250.9,42.7" fill="none" stroke="#0b2a8a" stroke-width="1.3" stroke-linecap="round" stroke-linejoin="round"/><polyline points="238.9,60.9 235.9,56.4 236.4,55.1" fill="none" stroke="#0b2a8a" stroke-width="1.3" stroke-linecap="round" stroke-linejoin="round"/><polyline points="277.5,54.3 275.3,51.8 273.1,49.3 268.9,46.8" fill="none" stroke="#0b2a8a" stroke-width="1.3" stroke-linecap="round" stroke-linejoin="round"/><polyline points="276.8,48.3 279.6,45.3 281.7,41.6 283.2,38.2" fill="none" stroke="#0b2a8a" stroke-width="1.3" stroke-linecap="round" stroke-linejoin="round"/><polyline points="276.7,47.5 273.9,44.6 274.3,42.5" fill="none" stroke="#0b2a8a" stroke-width="1.3" stroke-linecap="round" stroke-linejoin="round"/><polyline points="297.2,63.7 294.1,65.0 291.1,66.5 288.9,67.6" fill="none" stroke="#0b2a8a" stroke-width="1.3" stroke-linecap="round" stroke-linejoin="round"/><polyline points="299.0,45.8 293.8,46.1 289.3,48.7" fill="none" stroke="#0b2a8a" stroke-width="1.3" stroke-linecap="round" stroke-linejoin="round"/><polyline points="299.2,44.7 298.5,42.5 301.1,37.7" fill="none" stroke="#0b2a8a" stroke-width="1.3" stroke-linecap="round" stroke-linejoin="round"/><polyline points="303.9,64.9 304.9,70.1 307.2,73.3" fill="none" stroke="#0b2a8a" stroke-width="1.3" stroke-linecap="round" stroke-linejoin="round"/><polyline points="300.2,68.1 301.3,62.5 299.9,57.6" fill="none" stroke="#0b2a8a" stroke-width="1.3" stroke-linecap="round" stroke-linejoin="round"/><polyline points="300.6,67.8 299.9,62.5 297.1,58.0" fill="none" stroke="#0b2a8a" stroke-width="1.3" stroke-linecap="round" stroke-linejoin="round"/><polyline points="162.0,93.5 157.7,96.4 157.4,100.4" fill="none" stroke="#0b2a8a" stroke-width="1.3" stroke-linecap="round" stroke-linejoin="round"/><polyline points="163.7,94.6 167.6,93.5 172.8,91.3" fill="none" stroke="#0b2a8a" stroke-width="1.3" stroke-linecap="round" stroke-linejoin="round"/><polyline points="166.9,96.6 165.2,99.1 162.9,101.2 160.3,102.7 157.7,104.2" fill="none" stroke="#0b2a8a" stroke-width="1.3" stroke-linecap="round" stroke-linejoin="round"/><polyline points="197.3,107.5 202.9,107.2 206.6,108.8" fill="none" stroke="#0b2a8a" stroke-width="1.3" stroke-linecap="round" stroke-linejoin="round"/><polyline points="196.1,102.4 194.4,96.7 196.7,92.9" fill="none" stroke="#0b2a8a" stroke-width="1.3" stroke-linecap="round" stroke-linejoin="round"/><polyline points="197.1,106.7 194.9,105.6 192.0,104.6 189.0,104.0" fill="none" stroke="#0b2a8a" stroke-width="1.3" stroke-linecap="round" stroke-linejoin="round"/><polyline points="208.8,85.4 210.2,83.9 210.9,80.3" fill="none" stroke="#0b2a8a" stroke-width="1.3" stroke-linecap="round" stroke-linejoin="round"/><polyline points="207.5,82.1 212.9,82.1 214.6,79.2" fill="none" stroke="#0b2a8a" stroke-width="1.3" stroke-linecap="round" stroke-linejoin="round"/><polyline points="208.0,107.3 213.1,109.5 216.0,110.4 218.8,111.5" fill="none" stroke="#0b2a8a" stroke-width="1.3" stroke-linecap="round" stroke-linejoin="round"/><polyline points="222.5,88.5 221.7,92.3 220.4,97.8" fill="none" stroke="#0b2a8a" stroke-width="1.3" stroke-linecap="round" stroke-linejoin="round"/><polyline points="221.6,84.0 222.7,79.1 222.9,74.9" fill="none" stroke="#0b2a8a" stroke-width="1.3" stroke-linecap="round" stroke-linejoin="round"/><polyline points="221.6,84.3 220.4,88.8 218.5,91.4" fill="none" stroke="#0b2a8a" stroke-width="1.3" stroke-linecap="round" stroke-linejoin="round"/><polyline points="240.0,97.6 243.2,97.2 246.6,93.1" fill="none" stroke="#0b2a8a" stroke-width="1.3" stroke-linecap="round" stroke-linejoin="round"/><polyline points="242.9,84.2 245.9,85.1 248.9,85.9 251.6,90.4" fill="none" stroke="#0b2a8a" stroke-width="1.3" stroke-linecap="round" stroke-linejoin="round"/><polyline points="241.4,91.7 244.7,93.6 248.4,97.9" fill="none" stroke="#0b2a8a" stroke-width="1.3" stroke-linecap="round" stroke-linejoin="round"/><polyline points="250.2,98.2 250.8,100.9 254.4,104.4" fill="none" stroke="#0b2a8a" stroke-width="1.3" stroke-linecap="round" stroke-linejoin="round"/><polyline points="246.9,117.9 244.6,116.1 240.0,114.0" fill="none" stroke="#0b2a8a" stroke-width="1.3" stroke-linecap="round" stroke-linejoin="round"/><polyline points="250.9,104.6 249.1,102.8 250.3,98.0" fill="none" stroke="#0b2a8a" stroke-width="1.3" stroke-linecap="round" stroke-linejoin="round"/><polyline points="275.5,145.6 274.0,148.5 271.1,150.9" fill="none" stroke="#0b2a8a" stroke-width="1.3" stroke-linecap="round" stroke-linejoin="round"/><polyline points="274.3,139.7 275.5,143.0 273.1,146.3" fill="none" stroke="#0b2a8a" stroke-width="1.3" stroke-linecap="round" stroke-linejoin="round"/><polyline points="276.3,149.5 276.4,146.7 280.1,145.8" fill="none" stroke="#0b2a8a" stroke-width="1.3" stroke-linecap="round" stroke-linejoin="round"/><polyline points="299.7,102.3 302.0,104.1 306.0,103.9" fill="none" stroke="#0b2a8a" stroke-width="1.3" stroke-linecap="round" stroke-linejoin="round"/><polyline points="293.3,103.6 290.6,99.7 288.1,98.0" fill="none" stroke="#0b2a8a" stroke-width="1.3" stroke-linecap="round" stroke-linejoin="round"/><polyline points="305.9,101.1 308.7,102.6 310.8,105.0 313.3,109.3" fill="none" stroke="#0b2a8a" stroke-width="1.3" stroke-linecap="round" stroke-linejoin="round"/><polyline points="317.2,136.1 318.7,131.6 318.2,128.1" fill="none" stroke="#0b2a8a" stroke-width="1.3" stroke-linecap="round" stroke-linejoin="round"/><polyline points="295.1,115.3 292.8,113.2 291.0,110.6 288.3,105.5" fill="none" stroke="#0b2a8a" stroke-width="1.3" stroke-linecap="round" stroke-linejoin="round"/><polyline points="317.1,136.0 319.3,140.3 320.9,144.8" fill="none" stroke="#0b2a8a" stroke-width="1.3" stroke-linecap="round" stroke-linejoin="round"/><polyline points="192.6,141.0 196.5,143.9 200.4,145.4" fill="none" stroke="#0b2a8a" stroke-width="1.3" stroke-linecap="round" stroke-linejoin="round"/><polyline points="198.7,137.9 203.9,138.5 205.8,138.3" fill="none" stroke="#0b2a8a" stroke-width="1.3" stroke-linecap="round" stroke-linejoin="round"/><polyline points="196.0,139.3 197.9,134.5 196.7,132.0" fill="none" stroke="#0b2a8a" stroke-width="1.3" stroke-linecap="round" stroke-linejoin="round"/><polyline points="207.1,139.7 208.8,142.4 211.1,144.7 214.5,146.4" fill="none" stroke="#0b2a8a" stroke-width="1.3" stroke-linecap="round" stroke-linejoin="round"/><polyline points="206.9,140.1 207.4,136.4 209.3,133.4" fill="none" stroke="#0b2a8a" stroke-width="1.3" stroke-linecap="round" stroke-linejoin="round"/><polyline points="200.8,132.3 202.7,130.4 203.2,127.8" fill="none" stroke="#0b2a8a" stroke-width="1.3" stroke-linecap="round" stroke-linejoin="round"/><polyline points="148.3,122.6 144.3,125.8 143.1,128.3" fill="none" stroke="#0b2a8a" stroke-width="1.3" stroke-linecap="round" stroke-linejoin="round"/><polyline points="140.8,125.6 140.3,121.8 140.2,118.1 141.4,114.4" fill="none" stroke="#0b2a8a" stroke-width="1.3" stroke-linecap="round" stroke-linejoin="round"/><polyline points="145.7,123.6 140.9,122.4 137.7,121.0 135.0,118.8" fill="none" stroke="#0b2a8a" stroke-width="1.3" stroke-linecap="round" stroke-linejoin="round"/><polyline points="359.2,86.8 357.0,90.0 356.2,95.1" fill="none" stroke="#0b2a8a" stroke-width="1.3" stroke-linecap="round" stroke-linejoin="round"/><polyline points="361.5,89.1 364.1,92.5 369.6,93.9" fill="none" stroke="#0b2a8a" stroke-width="1.3" stroke-linecap="round" stroke-linejoin="round"/><polyline points="362.8,91.3 362.9,94.4 363.8,97.4 364.7,101.5" fill="none" stroke="#0b2a8a" stroke-width="1.3" stroke-linecap="round" stroke-linejoin="round"/><polyline points="397.1,173.2 397.0,169.7 399.7,166.3" fill="none" stroke="#0b2a8a" stroke-width="1.3" stroke-linecap="round" stroke-linejoin="round"/><polyline points="395.2,164.6 399.9,163.3 402.0,160.6" fill="none" stroke="#0b2a8a" stroke-width="1.3" stroke-linecap="round" stroke-linejoin="round"/><polyline points="396.3,166.6 398.2,164.0 401.0,162.3 401.9,156.9" fill="none" stroke="#0b2a8a" stroke-width="1.3" stroke-linecap="round" stroke-linejoin="round"/><polyline points="399.4,149.1 400.4,143.9 402.0,141.5" fill="none" stroke="#0b2a8a" stroke-width="1.3" stroke-linecap="round" stroke-linejoin="round"/><polyline points="402.0,146.4 398.6,148.3 397.6,150.8" fill="none" stroke="#0b2a8a" stroke-width="1.3" stroke-linecap="round" stroke-linejoin="round"/><polyline points="401.0,147.5 405.1,144.0 407.3,142.0" fill="none" stroke="#0b2a8a" stroke-width="1.3" stroke-linecap="round" stroke-linejoin="round"/><polyline points="327.3,139.1 328.3,141.9 329.7,144.0" fill="none" stroke="#0b2a8a" stroke-width="1.3" stroke-linecap="round" stroke-linejoin="round"/><polyline points="330.1,136.3 331.7,140.3 332.6,143.4" fill="none" stroke="#0b2a8a" stroke-width="1.3" stroke-linecap="round" stroke-linejoin="round"/><polyline points="322.4,144.1 322.1,145.9 323.5,150.3" fill="none" stroke="#0b2a8a" stroke-width="1.3" stroke-linecap="round" stroke-linejoin="round"/><polyline points="322.7,166.3 328.2,164.6 331.0,163.1" fill="none" stroke="#0b2a8a" stroke-width="1.3" stroke-linecap="round" stroke-linejoin="round"/><polyline points="320.6,168.7 320.0,172.3 315.8,176.1" fill="none" stroke="#0b2a8a" stroke-width="1.3" stroke-linecap="round" stroke-linejoin="round"/><polyline points="332.3,155.9 334.1,160.7 333.5,161.7" fill="none" stroke="#0b2a8a" stroke-width="1.3" stroke-linecap="round" stroke-linejoin="round"/><polyline points="365.2,91.8 369.0,93.0 372.2,95.4 376.0,95.9" fill="none" stroke="#0b2a8a" stroke-width="1.3" stroke-linecap="round" stroke-linejoin="round"/><polyline points="360.9,86.8 362.4,90.4 361.0,94.7" fill="none" stroke="#0b2a8a" stroke-width="1.3" stroke-linecap="round" stroke-linejoin="round"/><polyline points="356.9,82.2 359.9,80.2 362.5,77.8 365.8,76.3" fill="none" stroke="#0b2a8a" stroke-width="1.3" stroke-linecap="round" stroke-linejoin="round"/><polyline points="419.5,139.0 417.6,136.4 413.6,137.7" fill="none" stroke="#0b2a8a" stroke-width="1.3" stroke-linecap="round" stroke-linejoin="round"/><polyline points="425.9,118.2 429.7,118.3 431.9,121.6" fill="none" stroke="#0b2a8a" stroke-width="1.3" stroke-linecap="round" stroke-linejoin="round"/><polyline points="421.5,130.4 426.1,133.0 430.4,135.5" fill="none" stroke="#0b2a8a" stroke-width="1.3" stroke-linecap="round" stroke-linejoin="round"/><polyline points="277.5,96.7 274.4,99.2 270.9,100.9 267.6,102.4" fill="none" stroke="#0b2a8a" stroke-width="1.3" stroke-linecap="round" stroke-linejoin="round"/><polyline points="268.4,92.2 266.6,96.3 261.2,96.6" fill="none" stroke="#0b2a8a" stroke-width="1.3" stroke-linecap="round" stroke-linejoin="round"/><polyline points="283.7,99.9 286.8,102.4 290.1,103.1" fill="none" stroke="#0b2a8a" stroke-width="1.3" stroke-linecap="round" stroke-linejoin="round"/><polyline points="322.9,118.6 325.3,120.6 326.7,123.3 329.0,126.1" fill="none" stroke="#0b2a8a" stroke-width="1.3" stroke-linecap="round" stroke-linejoin="round"/><polyline points="317.8,115.9 322.5,115.2 325.5,116.5" fill="none" stroke="#0b2a8a" stroke-width="1.3" stroke-linecap="round" stroke-linejoin="round"/><polyline points="315.5,114.7 319.0,114.1 322.7,114.0 327.4,115.5" fill="none" stroke="#0b2a8a" stroke-width="1.3" stroke-linecap="round" stroke-linejoin="round"/><polyline points="152.3,105.7 148.4,108.2 146.1,111.9" fill="none" stroke="#0b2a8a" stroke-width="1.3" stroke-linecap="round" stroke-linejoin="round"/><polyline points="161.9,112.8 164.1,112.9 167.3,116.1" fill="none" stroke="#0b2a8a" stroke-width="1.3" stroke-linecap="round" stroke-linejoin="round"/><polyline points="164.6,114.7 159.3,114.1 155.3,110.9" fill="none" stroke="#0b2a8a" stroke-width="1.3" stroke-linecap="round" stroke-linejoin="round"/><polyline points="181.0,120.5 179.4,117.2 176.7,116.4" fill="none" stroke="#0b2a8a" stroke-width="1.3" stroke-linecap="round" stroke-linejoin="round"/><polyline points="184.0,122.0 184.8,117.0 188.8,114.2" fill="none" stroke="#0b2a8a" stroke-width="1.3" stroke-linecap="round" stroke-linejoin="round"/><polyline points="189.9,124.9 187.3,126.9 184.5,128.3 180.4,129.1" fill="none" stroke="#0b2a8a" stroke-width="1.3" stroke-linecap="round" stroke-linejoin="round"/><polyline points="229.5,116.4 233.4,115.5 234.1,113.5" fill="none" stroke="#0b2a8a" stroke-width="1.0" stroke-linecap="round" stroke-linejoin="round"/><polyline points="179.0,102.5 176.1,102.5 176.7,99.7" fill="none" stroke="#0b2a8a" stroke-width="1.0" stroke-linecap="round" stroke-linejoin="round"/><polyline points="181.5,108.5 185.3,112.2 185.1,112.1" fill="none" stroke="#0b2a8a" stroke-width="1.0" stroke-linecap="round" stroke-linejoin="round"/><polyline points="215.5,116.5 215.3,113.6 217.0,111.1" fill="none" stroke="#0b2a8a" stroke-width="1.0" stroke-linecap="round" stroke-linejoin="round"/><polyline points="238.1,123.8 240.0,122.0 239.1,120.2" fill="none" stroke="#0b2a8a" stroke-width="1.0" stroke-linecap="round" stroke-linejoin="round"/><polyline points="203.6,107.0 206.1,104.8 207.3,103.8" fill="none" stroke="#0b2a8a" stroke-width="1.0" stroke-linecap="round" stroke-linejoin="round"/><polyline points="168.9,118.9 165.0,118.7 164.0,117.1" fill="none" stroke="#0b2a8a" stroke-width="1.0" stroke-linecap="round" stroke-linejoin="round"/><polyline points="188.2,115.8 187.1,117.0 187.2,119.2" fill="none" stroke="#0b2a8a" stroke-width="1.0" stroke-linecap="round" stroke-linejoin="round"/><polyline points="204.7,119.3 203.3,119.3 202.0,121.4" fill="none" stroke="#0b2a8a" stroke-width="1.0" stroke-linecap="round" stroke-linejoin="round"/><polyline points="268.6,82.8 267.9,81.7 267.6,79.5" fill="none" stroke="#0b2a8a" stroke-width="1.0" stroke-linecap="round" stroke-linejoin="round"/><polyline points="280.1,85.9 277.7,81.7 278.9,80.3" fill="none" stroke="#0b2a8a" stroke-width="1.0" stroke-linecap="round" stroke-linejoin="round"/><polyline points="286.2,74.0 288.8,77.3 288.5,77.5" fill="none" stroke="#0b2a8a" stroke-width="1.0" stroke-linecap="round" stroke-linejoin="round"/><polyline points="285.5,75.8 287.6,72.7 288.0,72.6" fill="none" stroke="#0b2a8a" stroke-width="1.0" stroke-linecap="round" stroke-linejoin="round"/><polyline points="268.4,81.9 269.3,84.6 269.6,86.6" fill="none" stroke="#0b2a8a" stroke-width="1.0" stroke-linecap="round" stroke-linejoin="round"/><polyline points="242.7,131.5 239.9,131.9 239.5,130.0" fill="none" stroke="#0b2a8a" stroke-width="1.0" stroke-linecap="round" stroke-linejoin="round"/><polyline points="236.3,145.0 237.8,148.1 238.5,148.7" fill="none" stroke="#0b2a8a" stroke-width="1.0" stroke-linecap="round" stroke-linejoin="round"/><polyline points="236.6,137.4 237.9,133.7 238.9,133.0" fill="none" stroke="#0b2a8a" stroke-width="1.0" stroke-linecap="round" stroke-linejoin="round"/><polyline points="259.5,87.3 259.3,87.4 258.3,90.9" fill="none" stroke="#0b2a8a" stroke-width="1.0" stroke-linecap="round" stroke-linejoin="round"/><polyline points="234.0,137.2 234.2,134.5 235.9,134.7" fill="none" stroke="#0b2a8a" stroke-width="1.0" stroke-linecap="round" stroke-linejoin="round"/><polyline points="243.0,138.7 243.2,142.2 244.4,143.9" fill="none" stroke="#0b2a8a" stroke-width="1.0" stroke-linecap="round" stroke-linejoin="round"/><polyline points="249.3,118.6 250.6,120.1 249.1,123.6" fill="none" stroke="#0b2a8a" stroke-width="1.0" stroke-linecap="round" stroke-linejoin="round"/><polyline points="347.1,90.2 346.0,91.5 347.2,94.1" fill="none" stroke="#0b2a8a" stroke-width="1.0" stroke-linecap="round" stroke-linejoin="round"/><polyline points="351.6,92.1 348.2,94.2 348.5,92.9" fill="none" stroke="#0b2a8a" stroke-width="1.0" stroke-linecap="round" stroke-linejoin="round"/><polyline points="314.6,76.5 311.6,76.0 309.9,77.1" fill="none" stroke="#0b2a8a" stroke-width="1.0" stroke-linecap="round" stroke-linejoin="round"/><polyline points="389.8,116.9 390.3,116.8 391.7,119.4" fill="none" stroke="#0b2a8a" stroke-width="1.0" stroke-linecap="round" stroke-linejoin="round"/><polyline points="320.0,75.1 317.4,75.5 317.7,77.1" fill="none" stroke="#0b2a8a" stroke-width="1.0" stroke-linecap="round" stroke-linejoin="round"/><polyline points="332.7,80.9 330.2,79.0 329.0,78.7" fill="none" stroke="#0b2a8a" stroke-width="1.0" stroke-linecap="round" stroke-linejoin="round"/><polyline points="296.3,70.5 296.6,67.1 299.9,67.6" fill="none" stroke="#0b2a8a" stroke-width="1.0" stroke-linecap="round" stroke-linejoin="round"/><polyline points="307.8,78.1 308.8,74.9 306.4,75.1" fill="none" stroke="#0b2a8a" stroke-width="1.0" stroke-linecap="round" stroke-linejoin="round"/><polyline points="335.5,82.1 336.7,86.4 336.6,87.1" fill="none" stroke="#0b2a8a" stroke-width="1.0" stroke-linecap="round" stroke-linejoin="round"/><polyline points="214.7,108.7 213.6,107.9 212.2,110.7" fill="none" stroke="#0b2a8a" stroke-width="1.0" stroke-linecap="round" stroke-linejoin="round"/><polyline points="212.6,104.6 212.3,101.1 212.9,100.5" fill="none" stroke="#0b2a8a" stroke-width="1.0" stroke-linecap="round" stroke-linejoin="round"/><polyline points="208.3,109.5 205.0,109.6 204.3,113.6" fill="none" stroke="#0b2a8a" stroke-width="1.0" stroke-linecap="round" stroke-linejoin="round"/><polyline points="210.3,103.2 212.7,103.7 215.7,103.2" fill="none" stroke="#0b2a8a" stroke-width="1.0" stroke-linecap="round" stroke-linejoin="round"/><polyline points="234.7,93.7 235.9,93.6 237.9,94.5" fill="none" stroke="#0b2a8a" stroke-width="1.0" stroke-linecap="round" stroke-linejoin="round"/><polyline points="235.4,74.7 233.9,70.7 236.4,70.4" fill="none" stroke="#0b2a8a" stroke-width="1.0" stroke-linecap="round" stroke-linejoin="round"/><polyline points="274.1,67.9 276.4,72.6 275.0,73.8" fill="none" stroke="#0b2a8a" stroke-width="1.0" stroke-linecap="round" stroke-linejoin="round"/><polyline points="269.3,54.7 271.8,53.6 274.6,54.4" fill="none" stroke="#0b2a8a" stroke-width="1.0" stroke-linecap="round" stroke-linejoin="round"/><polyline points="265.0,67.1 268.1,67.3 269.2,65.9" fill="none" stroke="#0b2a8a" stroke-width="1.0" stroke-linecap="round" stroke-linejoin="round"/><polyline points="328.6,94.4 330.4,91.7 332.3,91.9" fill="none" stroke="#0b2a8a" stroke-width="1.0" stroke-linecap="round" stroke-linejoin="round"/><polyline points="368.1,115.3 367.1,118.0 366.1,120.6" fill="none" stroke="#0b2a8a" stroke-width="1.0" stroke-linecap="round" stroke-linejoin="round"/><polyline points="412.9,147.5 412.5,146.8 412.7,142.5" fill="none" stroke="#0b2a8a" stroke-width="1.0" stroke-linecap="round" stroke-linejoin="round"/><polyline points="381.8,125.1 381.5,124.0 380.2,121.6" fill="none" stroke="#0b2a8a" stroke-width="1.0" stroke-linecap="round" stroke-linejoin="round"/><polyline points="322.7,96.9 323.1,98.1 322.5,101.3" fill="none" stroke="#0b2a8a" stroke-width="1.0" stroke-linecap="round" stroke-linejoin="round"/><polyline points="347.3,105.9 350.1,104.5 351.7,102.3" fill="none" stroke="#0b2a8a" stroke-width="1.0" stroke-linecap="round" stroke-linejoin="round"/><polyline points="379.7,160.1 377.7,158.6 376.7,160.0" fill="none" stroke="#0b2a8a" stroke-width="1.0" stroke-linecap="round" stroke-linejoin="round"/><polyline points="355.1,126.7 357.2,125.1 357.5,122.3" fill="none" stroke="#0b2a8a" stroke-width="1.0" stroke-linecap="round" stroke-linejoin="round"/><polyline points="359.7,140.1 361.8,140.2 363.1,143.9" fill="none" stroke="#0b2a8a" stroke-width="1.0" stroke-linecap="round" stroke-linejoin="round"/><polyline points="378.7,163.5 377.6,162.9 373.4,163.2" fill="none" stroke="#0b2a8a" stroke-width="1.0" stroke-linecap="round" stroke-linejoin="round"/><polyline points="364.5,142.4 364.3,142.4 361.3,142.2" fill="none" stroke="#0b2a8a" stroke-width="1.0" stroke-linecap="round" stroke-linejoin="round"/><polyline points="376.2,151.3 375.6,148.3 373.6,146.3" fill="none" stroke="#0b2a8a" stroke-width="1.0" stroke-linecap="round" stroke-linejoin="round"/><polyline points="386.8,176.9 390.3,174.2 390.3,175.3" fill="none" stroke="#0b2a8a" stroke-width="1.0" stroke-linecap="round" stroke-linejoin="round"/><polyline points="377.3,169.2 372.7,168.5 371.6,169.8" fill="none" stroke="#0b2a8a" stroke-width="1.0" stroke-linecap="round" stroke-linejoin="round"/><polyline points="386.3,182.2 387.3,182.8 384.5,185.7" fill="none" stroke="#0b2a8a" stroke-width="1.0" stroke-linecap="round" stroke-linejoin="round"/><polyline points="393.3,181.8 392.3,180.4 389.4,177.7" fill="none" stroke="#0b2a8a" stroke-width="1.0" stroke-linecap="round" stroke-linejoin="round"/><polyline points="334.9,140.3 335.5,137.5 332.1,137.5" fill="none" stroke="#0b2a8a" stroke-width="1.0" stroke-linecap="round" stroke-linejoin="round"/><polyline points="379.1,176.1 380.9,179.1 379.6,180.8" fill="none" stroke="#0b2a8a" stroke-width="1.0" stroke-linecap="round" stroke-linejoin="round"/><polyline points="405.4,171.7 404.8,167.3 407.0,166.4" fill="none" stroke="#0b2a8a" stroke-width="1.0" stroke-linecap="round" stroke-linejoin="round"/><polyline points="415.7,171.6 411.7,172.1 410.4,170.9" fill="none" stroke="#0b2a8a" stroke-width="1.0" stroke-linecap="round" stroke-linejoin="round"/><polyline points="417.0,176.9 417.7,179.6 415.9,180.5" fill="none" stroke="#0b2a8a" stroke-width="1.0" stroke-linecap="round" stroke-linejoin="round"/><polyline points="372.9,187.7 370.8,190.9 371.9,192.8" fill="none" stroke="#0b2a8a" stroke-width="1.0" stroke-linecap="round" stroke-linejoin="round"/><polyline points="368.8,192.0 369.3,195.8 372.6,195.6" fill="none" stroke="#0b2a8a" stroke-width="1.0" stroke-linecap="round" stroke-linejoin="round"/><polyline points="389.4,178.9 385.2,180.5 384.6,179.1" fill="none" stroke="#0b2a8a" stroke-width="1.0" stroke-linecap="round" stroke-linejoin="round"/><polyline points="272.3,158.5 271.5,157.3 267.9,159.1" fill="none" stroke="#0b2a8a" stroke-width="1.0" stroke-linecap="round" stroke-linejoin="round"/><polyline points="278.0,155.5 281.4,156.9 282.3,158.7" fill="none" stroke="#0b2a8a" stroke-width="1.0" stroke-linecap="round" stroke-linejoin="round"/><polyline points="265.7,168.2 263.6,165.2 264.3,163.4" fill="none" stroke="#0b2a8a" stroke-width="1.0" stroke-linecap="round" stroke-linejoin="round"/><polyline points="290.7,174.1 293.8,175.4 294.8,174.6" fill="none" stroke="#0b2a8a" stroke-width="1.0" stroke-linecap="round" stroke-linejoin="round"/><polyline points="296.9,157.6 297.6,157.3 298.8,160.6" fill="none" stroke="#0b2a8a" stroke-width="1.0" stroke-linecap="round" stroke-linejoin="round"/><polyline points="294.7,145.5 293.6,146.1 290.0,145.7" fill="none" stroke="#0b2a8a" stroke-width="1.0" stroke-linecap="round" stroke-linejoin="round"/><polyline points="304.8,168.6 304.8,169.5 301.5,171.1" fill="none" stroke="#0b2a8a" stroke-width="1.0" stroke-linecap="round" stroke-linejoin="round"/><polyline points="325.4,166.3 323.6,168.1 321.0,169.5" fill="none" stroke="#0b2a8a" stroke-width="1.0" stroke-linecap="round" stroke-linejoin="round"/><polyline points="316.9,177.5 315.2,177.9 311.8,176.3" fill="none" stroke="#0b2a8a" stroke-width="1.0" stroke-linecap="round" stroke-linejoin="round"/><polyline points="255.9,48.4 256.3,50.1 257.3,51.9" fill="none" stroke="#0b2a8a" stroke-width="1.0" stroke-linecap="round" stroke-linejoin="round"/><polyline points="255.4,43.7 253.7,47.2 252.3,47.9" fill="none" stroke="#0b2a8a" stroke-width="1.0" stroke-linecap="round" stroke-linejoin="round"/><polyline points="237.6,58.9 237.9,61.0 239.0,64.0" fill="none" stroke="#0b2a8a" stroke-width="1.0" stroke-linecap="round" stroke-linejoin="round"/><polyline points="274.0,50.3 273.5,46.1 273.5,45.6" fill="none" stroke="#0b2a8a" stroke-width="1.0" stroke-linecap="round" stroke-linejoin="round"/><polyline points="279.0,45.3 278.2,44.4 278.2,40.5" fill="none" stroke="#0b2a8a" stroke-width="1.0" stroke-linecap="round" stroke-linejoin="round"/><polyline points="274.3,45.0 272.1,46.1 270.0,46.3" fill="none" stroke="#0b2a8a" stroke-width="1.0" stroke-linecap="round" stroke-linejoin="round"/><polyline points="291.5,66.3 287.5,67.3 287.0,65.9" fill="none" stroke="#0b2a8a" stroke-width="1.0" stroke-linecap="round" stroke-linejoin="round"/><polyline points="297.8,45.9 301.1,48.8 301.0,48.7" fill="none" stroke="#0b2a8a" stroke-width="1.0" stroke-linecap="round" stroke-linejoin="round"/><polyline points="299.7,40.2 297.5,42.2 297.0,41.8" fill="none" stroke="#0b2a8a" stroke-width="1.0" stroke-linecap="round" stroke-linejoin="round"/><polyline points="304.1,65.6 302.8,63.4 305.5,60.7" fill="none" stroke="#0b2a8a" stroke-width="1.0" stroke-linecap="round" stroke-linejoin="round"/><polyline points="301.1,61.7 301.3,59.9 297.5,62.2" fill="none" stroke="#0b2a8a" stroke-width="1.0" stroke-linecap="round" stroke-linejoin="round"/><polyline points="300.5,67.4 301.2,65.4 301.1,64.3" fill="none" stroke="#0b2a8a" stroke-width="1.0" stroke-linecap="round" stroke-linejoin="round"/><polyline points="161.1,94.0 162.9,91.5 165.6,91.4" fill="none" stroke="#0b2a8a" stroke-width="1.0" stroke-linecap="round" stroke-linejoin="round"/><polyline points="171.1,92.0 173.3,92.5 174.5,91.9" fill="none" stroke="#0b2a8a" stroke-width="1.0" stroke-linecap="round" stroke-linejoin="round"/><polyline points="163.3,100.7 166.3,99.5 165.9,96.7" fill="none" stroke="#0b2a8a" stroke-width="1.0" stroke-linecap="round" stroke-linejoin="round"/><polyline points="200.1,107.3 197.3,108.1 195.2,109.7" fill="none" stroke="#0b2a8a" stroke-width="1.0" stroke-linecap="round" stroke-linejoin="round"/><polyline points="195.1,95.6 196.4,93.9 195.5,92.6" fill="none" stroke="#0b2a8a" stroke-width="1.0" stroke-linecap="round" stroke-linejoin="round"/><polyline points="196.6,106.4 195.0,103.4 195.7,102.1" fill="none" stroke="#0b2a8a" stroke-width="1.0" stroke-linecap="round" stroke-linejoin="round"/><polyline points="209.8,84.4 210.6,85.6 212.7,82.8" fill="none" stroke="#0b2a8a" stroke-width="1.0" stroke-linecap="round" stroke-linejoin="round"/><polyline points="211.3,82.1 212.5,83.5 210.8,85.4" fill="none" stroke="#0b2a8a" stroke-width="1.0" stroke-linecap="round" stroke-linejoin="round"/><polyline points="212.3,109.1 213.2,111.5 217.5,111.8" fill="none" stroke="#0b2a8a" stroke-width="1.0" stroke-linecap="round" stroke-linejoin="round"/><polyline points="221.9,91.3 219.8,89.5 217.2,91.8" fill="none" stroke="#0b2a8a" stroke-width="1.0" stroke-linecap="round" stroke-linejoin="round"/><polyline points="222.7,79.3 220.7,83.0 219.9,83.7" fill="none" stroke="#0b2a8a" stroke-width="1.0" stroke-linecap="round" stroke-linejoin="round"/><polyline points="218.8,91.1 222.3,88.0 222.2,87.7" fill="none" stroke="#0b2a8a" stroke-width="1.0" stroke-linecap="round" stroke-linejoin="round"/><polyline points="240.2,97.6 237.2,97.6 235.9,95.0" fill="none" stroke="#0b2a8a" stroke-width="1.0" stroke-linecap="round" stroke-linejoin="round"/><polyline points="251.1,89.6 249.6,88.8 247.8,89.6" fill="none" stroke="#0b2a8a" stroke-width="1.0" stroke-linecap="round" stroke-linejoin="round"/><polyline points="242.4,92.3 245.3,91.6 246.8,91.6" fill="none" stroke="#0b2a8a" stroke-width="1.0" stroke-linecap="round" stroke-linejoin="round"/><polyline points="250.5,99.5 250.1,102.5 248.8,104.1" fill="none" stroke="#0b2a8a" stroke-width="1.0" stroke-linecap="round" stroke-linejoin="round"/><polyline points="244.5,116.0 244.6,114.8 247.4,115.0" fill="none" stroke="#0b2a8a" stroke-width="1.0" stroke-linecap="round" stroke-linejoin="round"/><polyline points="250.0,99.2 251.5,95.6 249.8,94.9" fill="none" stroke="#0b2a8a" stroke-width="1.0" stroke-linecap="round" stroke-linejoin="round"/><polyline points="273.9,148.6 276.5,151.5 276.9,152.9" fill="none" stroke="#0b2a8a" stroke-width="1.0" stroke-linecap="round" stroke-linejoin="round"/><polyline points="274.7,140.7 272.4,137.8 273.9,136.4" fill="none" stroke="#0b2a8a" stroke-width="1.0" stroke-linecap="round" stroke-linejoin="round"/><polyline points="276.3,149.3 278.2,152.6 277.0,153.3" fill="none" stroke="#0b2a8a" stroke-width="1.0" stroke-linecap="round" stroke-linejoin="round"/><polyline points="302.0,104.1 303.7,104.2 301.7,100.6" fill="none" stroke="#0b2a8a" stroke-width="1.0" stroke-linecap="round" stroke-linejoin="round"/><polyline points="291.8,101.4 291.3,99.3 291.4,98.0" fill="none" stroke="#0b2a8a" stroke-width="1.0" stroke-linecap="round" stroke-linejoin="round"/><polyline points="311.6,106.3 310.7,107.8 311.5,111.4" fill="none" stroke="#0b2a8a" stroke-width="1.0" stroke-linecap="round" stroke-linejoin="round"/><polyline points="318.6,131.2 318.8,129.5 321.2,129.2" fill="none" stroke="#0b2a8a" stroke-width="1.0" stroke-linecap="round" stroke-linejoin="round"/><polyline points="292.3,112.2 293.3,112.1 296.3,111.4" fill="none" stroke="#0b2a8a" stroke-width="1.0" stroke-linecap="round" stroke-linejoin="round"/><polyline points="319.5,140.8 318.2,137.8 317.1,135.5" fill="none" stroke="#0b2a8a" stroke-width="1.0" stroke-linecap="round" stroke-linejoin="round"/><polyline points="196.8,144.1 193.7,144.3 192.6,142.2" fill="none" stroke="#0b2a8a" stroke-width="1.0" stroke-linecap="round" stroke-linejoin="round"/><polyline points="204.8,138.4 207.7,138.6 207.9,139.9" fill="none" stroke="#0b2a8a" stroke-width="1.0" stroke-linecap="round" stroke-linejoin="round"/><polyline points="197.2,136.3 195.4,138.2 194.2,140.0" fill="none" stroke="#0b2a8a" stroke-width="1.0" stroke-linecap="round" stroke-linejoin="round"/><polyline points="207.5,140.2 209.9,144.2 208.8,145.8" fill="none" stroke="#0b2a8a" stroke-width="1.0" stroke-linecap="round" stroke-linejoin="round"/><polyline points="207.2,137.8 208.4,139.9 208.5,142.7" fill="none" stroke="#0b2a8a" stroke-width="1.0" stroke-linecap="round" stroke-linejoin="round"/><polyline points="201.6,131.6 204.0,130.4 205.0,133.2" fill="none" stroke="#0b2a8a" stroke-width="1.0" stroke-linecap="round" stroke-linejoin="round"/><polyline points="145.0,125.2 141.8,126.0 141.2,125.3" fill="none" stroke="#0b2a8a" stroke-width="1.0" stroke-linecap="round" stroke-linejoin="round"/><polyline points="141.2,114.9 139.8,113.9 141.9,109.5" fill="none" stroke="#0b2a8a" stroke-width="1.0" stroke-linecap="round" stroke-linejoin="round"/><polyline points="141.1,122.5 142.8,121.3 141.3,116.9" fill="none" stroke="#0b2a8a" stroke-width="1.0" stroke-linecap="round" stroke-linejoin="round"/><polyline points="357.0,90.2 358.9,90.8 361.0,92.7" fill="none" stroke="#0b2a8a" stroke-width="1.0" stroke-linecap="round" stroke-linejoin="round"/><polyline points="364.7,92.6 369.4,92.8 370.2,90.7" fill="none" stroke="#0b2a8a" stroke-width="1.0" stroke-linecap="round" stroke-linejoin="round"/><polyline points="362.8,91.4 360.1,93.3 359.8,93.2" fill="none" stroke="#0b2a8a" stroke-width="1.0" stroke-linecap="round" stroke-linejoin="round"/><polyline points="397.0,169.8 395.6,170.1 394.7,173.8" fill="none" stroke="#0b2a8a" stroke-width="1.0" stroke-linecap="round" stroke-linejoin="round"/><polyline points="401.2,161.7 401.6,161.8 405.6,158.4" fill="none" stroke="#0b2a8a" stroke-width="1.0" stroke-linecap="round" stroke-linejoin="round"/><polyline points="400.5,162.8 400.4,161.9 397.1,161.2" fill="none" stroke="#0b2a8a" stroke-width="1.0" stroke-linecap="round" stroke-linejoin="round"/><polyline points="399.9,146.6 401.3,144.1 403.2,142.6" fill="none" stroke="#0b2a8a" stroke-width="1.0" stroke-linecap="round" stroke-linejoin="round"/><polyline points="399.9,147.5 401.2,145.2 403.1,144.3" fill="none" stroke="#0b2a8a" stroke-width="1.0" stroke-linecap="round" stroke-linejoin="round"/><polyline points="405.9,143.3 403.0,145.4 403.7,147.7" fill="none" stroke="#0b2a8a" stroke-width="1.0" stroke-linecap="round" stroke-linejoin="round"/><polyline points="329.4,143.7 328.1,142.4 324.1,142.4" fill="none" stroke="#0b2a8a" stroke-width="1.0" stroke-linecap="round" stroke-linejoin="round"/><polyline points="330.7,137.8 329.7,136.6 328.9,135.3" fill="none" stroke="#0b2a8a" stroke-width="1.0" stroke-linecap="round" stroke-linejoin="round"/><polyline points="322.2,145.4 322.4,146.2 319.4,150.3" fill="none" stroke="#0b2a8a" stroke-width="1.0" stroke-linecap="round" stroke-linejoin="round"/><polyline points="328.5,164.5 331.6,166.1 333.4,166.2" fill="none" stroke="#0b2a8a" stroke-width="1.0" stroke-linecap="round" stroke-linejoin="round"/><polyline points="320.3,170.7 324.3,169.0 324.6,171.2" fill="none" stroke="#0b2a8a" stroke-width="1.0" stroke-linecap="round" stroke-linejoin="round"/><polyline points="334.0,160.5 333.2,163.4 335.3,163.4" fill="none" stroke="#0b2a8a" stroke-width="1.0" stroke-linecap="round" stroke-linejoin="round"/><polyline points="370.3,94.4 369.2,91.8 366.5,92.3" fill="none" stroke="#0b2a8a" stroke-width="1.0" stroke-linecap="round" stroke-linejoin="round"/><polyline points="362.1,91.4 362.7,92.3 365.1,92.1" fill="none" stroke="#0b2a8a" stroke-width="1.0" stroke-linecap="round" stroke-linejoin="round"/><polyline points="363.0,78.2 364.7,78.9 365.0,80.8" fill="none" stroke="#0b2a8a" stroke-width="1.0" stroke-linecap="round" stroke-linejoin="round"/><polyline points="419.4,138.9 421.7,138.8 423.0,137.6" fill="none" stroke="#0b2a8a" stroke-width="1.0" stroke-linecap="round" stroke-linejoin="round"/><polyline points="430.2,119.1 429.1,120.4 429.5,122.7" fill="none" stroke="#0b2a8a" stroke-width="1.0" stroke-linecap="round" stroke-linejoin="round"/><polyline points="422.1,130.7 419.9,130.0 416.4,129.5" fill="none" stroke="#0b2a8a" stroke-width="1.0" stroke-linecap="round" stroke-linejoin="round"/><polyline points="268.7,101.9 270.9,100.7 271.7,102.8" fill="none" stroke="#0b2a8a" stroke-width="1.0" stroke-linecap="round" stroke-linejoin="round"/><polyline points="261.7,96.6 264.5,99.8 265.7,99.4" fill="none" stroke="#0b2a8a" stroke-width="1.0" stroke-linecap="round" stroke-linejoin="round"/><polyline points="288.3,102.7 284.6,102.9 283.8,99.9" fill="none" stroke="#0b2a8a" stroke-width="1.0" stroke-linecap="round" stroke-linejoin="round"/><polyline points="327.1,123.8 325.4,124.8 324.0,126.5" fill="none" stroke="#0b2a8a" stroke-width="1.0" stroke-linecap="round" stroke-linejoin="round"/><polyline points="318.1,115.9 318.5,113.7 318.7,112.2" fill="none" stroke="#0b2a8a" stroke-width="1.0" stroke-linecap="round" stroke-linejoin="round"/><polyline points="315.8,114.7 318.6,117.4 318.9,118.5" fill="none" stroke="#0b2a8a" stroke-width="1.0" stroke-linecap="round" stroke-linejoin="round"/><polyline points="146.2,111.7 143.0,111.9 142.1,111.4" fill="none" stroke="#0b2a8a" stroke-width="1.0" stroke-linecap="round" stroke-linejoin="round"/><polyline points="165.7,114.5 165.6,117.6 162.8,116.9" fill="none" stroke="#0b2a8a" stroke-width="1.0" stroke-linecap="round" stroke-linejoin="round"/><polyline points="156.5,111.8 153.9,113.8 154.9,114.9" fill="none" stroke="#0b2a8a" stroke-width="1.0" stroke-linecap="round" stroke-linejoin="round"/><polyline points="177.6,116.6 175.9,113.9 175.0,111.7" fill="none" stroke="#0b2a8a" stroke-width="1.0" stroke-linecap="round" stroke-linejoin="round"/><polyline points="187.6,115.0 188.3,118.2 188.8,120.1" fill="none" stroke="#0b2a8a" stroke-width="1.0" stroke-linecap="round" stroke-linejoin="round"/><polyline points="189.6,125.1 190.9,126.2 190.5,129.4" fill="none" stroke="#0b2a8a" stroke-width="1.0" stroke-linecap="round" stroke-linejoin="round"/></g><g clip-path="url(#clipGan)"><rect x="350" y="180" width="410" height="140" fill="#928e8e"/><polygon points="350.0,185.0 430.0,190.0 480.0,205.0 490.0,220.0 470.0,238.0 400.0,240.0 350.0,235.0" fill="#b3b0b0" filter="url(#blur8)"/><polygon points="712.0,215.0 760.0,215.0 765.0,295.0 715.0,290.0 705.0,260.0" fill="#a9a6a6" filter="url(#blur8)"/><rect x="100" y="20" width="680" height="310" filter="url(#tex2)" opacity="0.5"/><g transform="rotate(-75 550 250)"><rect x="0" y="-200" width="900" height="700" filter="url(#tex)" opacity="0.5"/></g><polygon points="350.0,212.0 369.0,216.0 403.0,231.0 443.0,248.0 483.0,260.0 524.0,268.0 553.0,269.0 610.0,275.0 652.0,279.0 694.0,277.0 729.0,271.0 760.0,268.0 760.0,330.0 350.0,330.0" fill="#ffffff" filter="url(#blur8)"/><polyline points="379.4,199.4 380.5,202.6 383.1,204.8 384.4,207.9 386.5,210.5 387.9,213.5 390.5,216.2 393.9,217.9 396.5,220.7 399.1,223.3 401.7,221.7 404.6,220.9 407.4,219.8 410.4,219.1 413.2,216.9 416.4,215.5 418.4,212.2 421.6,210.7" fill="none" stroke="#0b2a8a" stroke-width="1.7" stroke-linecap="round" stroke-linejoin="round"/><polyline points="418.8,199.4 420.3,202.1 420.9,205.1 421.7,208.1 423.5,210.6 424.5,213.5 427.4,215.7 430.3,217.9 432.9,220.5" fill="none" stroke="#0b2a8a" stroke-width="1.7" stroke-linecap="round" stroke-linejoin="round"/><polyline points="438.5,210.7 439.8,213.4 440.7,216.4 441.5,219.3 443.7,221.7 444.2,224.8 445.6,227.9 446.5,231.2 447.0,234.6" fill="none" stroke="#0b2a8a" stroke-width="1.7" stroke-linecap="round" stroke-linejoin="round"/><polyline points="458.2,216.3 459.9,218.8 461.7,221.3 464.4,222.9 466.3,225.2 468.1,227.7 469.5,230.4 470.5,233.7 471.1,237.0 471.6,240.5 473.4,243.5 474.3,246.8 475.1,250.1" fill="none" stroke="#0b2a8a" stroke-width="1.7" stroke-linecap="round" stroke-linejoin="round"/><polyline points="480.8,216.3 481.2,219.7 482.3,223.0 483.0,226.3 484.9,229.3 485.2,232.8 486.4,236.0 484.3,238.6 483.3,241.8 481.7,244.7 479.1,246.9 478.0,250.1" fill="none" stroke="#0b2a8a" stroke-width="1.7" stroke-linecap="round" stroke-linejoin="round"/><polyline points="497.7,238.8 499.5,241.4 500.7,244.3 502.5,247.0 503.3,250.1 500.1,251.7 497.5,254.1 495.1,256.7 492.0,258.5" fill="none" stroke="#0b2a8a" stroke-width="1.7" stroke-linecap="round" stroke-linejoin="round"/><polyline points="520.0,240.0 522.1,243.3 524.1,246.6 526.0,250.0 525.7,253.2 523.6,255.9 523.6,259.2 522.0,262.0" fill="none" stroke="#0b2a8a" stroke-width="1.7" stroke-linecap="round" stroke-linejoin="round"/><polyline points="576.5,241.6 579.9,241.1 583.3,241.4 586.6,240.4 590.1,240.9 593.4,240.2 596.8,240.5 600.2,240.0 603.5,239.2 607.0,239.7 610.3,238.8 613.8,238.9 617.2,240.3 620.8,240.0 624.3,240.2 626.2,243.5 627.6,247.1 630.0,250.1 628.6,253.2 626.5,255.9 624.3,258.5" fill="none" stroke="#0b2a8a" stroke-width="1.7" stroke-linecap="round" stroke-linejoin="round"/><polyline points="587.7,275.4 590.3,277.5 593.7,278.2 595.8,281.1 599.0,282.1 601.8,283.9 605.0,285.3 607.8,287.4 611.6,287.5 614.5,289.5" fill="none" stroke="#0b2a8a" stroke-width="1.7" stroke-linecap="round" stroke-linejoin="round"/><polyline points="635.6,272.6 636.3,276.4 635.5,280.1 635.6,283.9 633.1,286.6 630.5,289.1 628.6,292.3" fill="none" stroke="#0b2a8a" stroke-width="1.7" stroke-linecap="round" stroke-linejoin="round"/><polyline points="545.0,246.0 546.2,248.9 545.9,252.1 547.0,255.1 548.0,258.0" fill="none" stroke="#0b2a8a" stroke-width="1.7" stroke-linecap="round" stroke-linejoin="round"/><polyline points="560.0,244.0 560.6,247.0 562.2,249.8 561.8,253.1 563.0,256.0" fill="none" stroke="#0b2a8a" stroke-width="1.7" stroke-linecap="round" stroke-linejoin="round"/><polyline points="600.0,248.0 600.8,251.3 600.4,254.7 601.0,258.0" fill="none" stroke="#0b2a8a" stroke-width="1.7" stroke-linecap="round" stroke-linejoin="round"/><polyline points="395.0,205.0 396.9,208.9 400.0,212.0" fill="none" stroke="#0b2a8a" stroke-width="1.7" stroke-linecap="round" stroke-linejoin="round"/><polyline points="405.0,200.0 407.3,203.0 408.4,206.6 410.0,210.0" fill="none" stroke="#0b2a8a" stroke-width="1.7" stroke-linecap="round" stroke-linejoin="round"/><polyline points="413.4,216.8 410.3,218.3 408.1,215.9" fill="none" stroke="#0b2a8a" stroke-width="1.0" stroke-linecap="round" stroke-linejoin="round"/><polyline points="413.5,216.8 415.1,213.9 416.0,210.5" fill="none" stroke="#0b2a8a" stroke-width="1.0" stroke-linecap="round" stroke-linejoin="round"/><polyline points="424.4,213.2 421.4,215.5 420.8,217.2" fill="none" stroke="#0b2a8a" stroke-width="1.0" stroke-linecap="round" stroke-linejoin="round"/><polyline points="419.2,200.5 417.8,199.4 417.2,195.5" fill="none" stroke="#0b2a8a" stroke-width="1.0" stroke-linecap="round" stroke-linejoin="round"/><polyline points="443.7,223.7 444.0,222.6 446.6,217.6" fill="none" stroke="#0b2a8a" stroke-width="1.0" stroke-linecap="round" stroke-linejoin="round"/><polyline points="446.9,234.1 447.6,235.2 451.2,237.8" fill="none" stroke="#0b2a8a" stroke-width="1.0" stroke-linecap="round" stroke-linejoin="round"/><polyline points="469.2,230.1 471.6,226.3 473.9,226.0" fill="none" stroke="#0b2a8a" stroke-width="1.0" stroke-linecap="round" stroke-linejoin="round"/><polyline points="473.2,243.6 470.2,244.7 466.9,244.8" fill="none" stroke="#0b2a8a" stroke-width="1.0" stroke-linecap="round" stroke-linejoin="round"/><polyline points="486.2,235.4 488.9,234.3 492.8,234.4" fill="none" stroke="#0b2a8a" stroke-width="1.0" stroke-linecap="round" stroke-linejoin="round"/><polyline points="480.7,245.5 482.1,247.2 484.5,248.7" fill="none" stroke="#0b2a8a" stroke-width="1.0" stroke-linecap="round" stroke-linejoin="round"/><polyline points="497.9,239.1 499.2,235.4 500.4,234.0" fill="none" stroke="#0b2a8a" stroke-width="1.0" stroke-linecap="round" stroke-linejoin="round"/><polyline points="502.8,250.5 504.7,252.4 504.6,256.6" fill="none" stroke="#0b2a8a" stroke-width="1.0" stroke-linecap="round" stroke-linejoin="round"/><polyline points="524.2,247.0 526.0,248.1 529.1,248.1" fill="none" stroke="#0b2a8a" stroke-width="1.0" stroke-linecap="round" stroke-linejoin="round"/><polyline points="523.1,245.1 521.1,247.9 519.5,249.1" fill="none" stroke="#0b2a8a" stroke-width="1.0" stroke-linecap="round" stroke-linejoin="round"/><polyline points="625.7,242.6 628.8,241.1 631.5,242.2" fill="none" stroke="#0b2a8a" stroke-width="1.0" stroke-linecap="round" stroke-linejoin="round"/><polyline points="608.8,238.9 612.4,238.4 613.9,239.1" fill="none" stroke="#0b2a8a" stroke-width="1.0" stroke-linecap="round" stroke-linejoin="round"/><polyline points="606.8,239.1 602.8,238.5 601.8,239.0" fill="none" stroke="#0b2a8a" stroke-width="1.0" stroke-linecap="round" stroke-linejoin="round"/><polyline points="627.1,254.3 630.9,256.1 632.4,255.1" fill="none" stroke="#0b2a8a" stroke-width="1.0" stroke-linecap="round" stroke-linejoin="round"/><polyline points="590.9,277.4 588.5,275.9 585.1,276.3" fill="none" stroke="#0b2a8a" stroke-width="1.0" stroke-linecap="round" stroke-linejoin="round"/><polyline points="613.2,288.9 616.0,290.2 615.9,293.3" fill="none" stroke="#0b2a8a" stroke-width="1.0" stroke-linecap="round" stroke-linejoin="round"/><polyline points="630.7,289.8 630.3,293.1 631.8,294.8" fill="none" stroke="#0b2a8a" stroke-width="1.0" stroke-linecap="round" stroke-linejoin="round"/><polyline points="635.6,274.1 636.7,272.0 639.9,270.4" fill="none" stroke="#0b2a8a" stroke-width="1.0" stroke-linecap="round" stroke-linejoin="round"/><polyline points="546.7,252.7 545.8,251.1 541.2,247.3" fill="none" stroke="#0b2a8a" stroke-width="1.0" stroke-linecap="round" stroke-linejoin="round"/><polyline points="546.3,251.2 547.4,252.9 551.0,254.3" fill="none" stroke="#0b2a8a" stroke-width="1.0" stroke-linecap="round" stroke-linejoin="round"/><polyline points="561.9,251.7 560.9,251.8 558.4,254.7" fill="none" stroke="#0b2a8a" stroke-width="1.0" stroke-linecap="round" stroke-linejoin="round"/><polyline points="562.4,253.6 565.6,252.4 568.5,249.0" fill="none" stroke="#0b2a8a" stroke-width="1.0" stroke-linecap="round" stroke-linejoin="round"/><polyline points="600.8,255.9 599.3,254.8 599.6,251.3" fill="none" stroke="#0b2a8a" stroke-width="1.0" stroke-linecap="round" stroke-linejoin="round"/><polyline points="600.6,254.2 603.6,256.0 605.0,258.6" fill="none" stroke="#0b2a8a" stroke-width="1.0" stroke-linecap="round" stroke-linejoin="round"/><polyline points="395.4,205.5 393.4,208.0 392.7,208.9" fill="none" stroke="#0b2a8a" stroke-width="1.0" stroke-linecap="round" stroke-linejoin="round"/><polyline points="396.6,207.2 398.5,210.0 399.4,213.2" fill="none" stroke="#0b2a8a" stroke-width="1.0" stroke-linecap="round" stroke-linejoin="round"/><polyline points="405.1,200.3 401.0,201.2 399.4,200.7" fill="none" stroke="#0b2a8a" stroke-width="1.0" stroke-linecap="round" stroke-linejoin="round"/><polyline points="407.3,204.6 407.8,205.0 410.6,201.7" fill="none" stroke="#0b2a8a" stroke-width="1.0" stroke-linecap="round" stroke-linejoin="round"/></g><path d="M169.2,152.7 L169.4,150.0 L171.2,148.0 L173.6,146.3 L175.3,143.9 L176.6,141.3 L177.8,138.3 L180.0,135.9 L179.0,132.9 L178.0,129.9 L175.1,130.7 L172.1,130.9 L169.2,131.9 L166.2,132.9 L164.3,135.8 L161.2,136.6 L158.4,137.3 L155.8,135.9 L153.3,137.4 L151.8,139.9 L149.2,141.4 L146.2,142.0 L143.8,143.9 L140.2,144.4 L137.1,142.6 L134.4,139.9 L134.7,137.2 L135.8,134.6 L135.7,131.9 L134.7,129.3 L135.0,126.5 L137.0,124.2 L137.1,121.2 L138.4,118.5 L140.9,117.9 L142.4,115.8 L144.5,114.1 L146.8,113.4 L149.5,113.9 L151.8,113.1 L154.3,112.0 L155.2,109.3 L157.2,107.7 L154.5,108.4 L151.8,107.7 L149.1,105.1 L149.2,102.4 L148.5,99.6 L149.8,97.0 L152.0,95.5 L154.7,95.1 L157.2,94.3 L159.8,93.0 L162.5,91.7 L165.2,89.0 L167.2,87.5 L169.4,86.6 L171.9,86.3 L175.1,85.0 L178.6,85.0 L180.6,83.6 L182.4,81.9 L184.1,80.0 L186.7,79.6 L189.1,78.9 L190.8,77.0 L192.9,75.8 L194.7,74.2 L197.4,73.6 L198.7,75.8 L198.7,78.3 L199.7,80.9 L201.7,82.4 L204.1,83.6 L206.7,82.4 L209.5,83.0 L210.5,80.5 L212.1,78.3 L213.6,76.2 L214.6,73.8 L216.1,71.7 L216.2,68.9 L217.8,66.6 L220.3,64.9 L221.5,62.2 L224.0,60.5 L225.7,57.8 L228.2,56.1 L230.3,54.8 L232.8,53.8 L234.7,52.2 L236.3,50.1 L238.5,49.2 L240.8,48.5 L243.0,47.4 L245.4,45.6 L248.2,45.2 L251.2,45.6 L253.7,44.1 L256.1,43.6 L258.5,42.8 L261.0,43.4 L263.4,43.4 L265.8,42.7 L268.9,42.9 L272.0,42.0 L275.1,42.1 L277.8,42.0 L280.5,42.1 L283.2,40.8 L285.9,39.4 L288.8,38.9 L291.3,37.2 L293.9,36.0 L297.1,36.0 L300.2,36.4 L303.3,36.7 L306.3,36.6 L309.0,37.5 L311.3,39.4 L312.2,41.9 L313.0,44.4 L315.3,46.1 L317.2,48.3 L319.4,50.1 L320.3,52.4 L321.4,54.6 L321.3,57.2 L322.0,59.5 L322.9,62.3 L325.0,64.0 L327.2,65.7 L329.6,65.8 L332.0,66.5 L334.5,65.1 L336.9,65.7 L339.3,65.7 L340.1,68.4 L342.4,69.8 L344.1,71.7 L346.5,72.3 L349.1,72.6 L351.3,74.0 L353.5,75.6 L356.2,75.3 L358.4,73.8 L361.1,75.1 L363.6,74.7 L366.0,74.5 L368.4,73.7 L370.8,73.4 L373.1,72.3 L375.5,73.4 L377.8,74.5 L380.4,75.3 L382.7,76.5 L384.2,78.7 L382.8,81.5 L384.0,83.8 L385.3,86.0 L385.1,88.6 L386.9,90.4 L388.8,92.2 L390.8,93.8 L392.4,95.8 L394.9,96.5 L397.2,97.8 L399.5,99.0 L401.9,100.0 L404.4,100.7 L406.8,100.4 L409.1,99.1 L411.6,99.4 L414.0,99.0 L416.5,99.5 L418.2,101.4 L420.1,103.1 L422.8,103.1 L425.1,102.2 L427.6,101.3 L430.0,100.6 L432.0,98.6 L434.6,98.3 L437.0,99.1 L439.4,98.7 L441.9,97.3 L444.3,97.2 L446.7,98.3 L448.9,96.8 L451.6,98.1 L453.8,96.6 L456.2,95.9 L458.7,96.4 L461.1,97.0 L463.6,96.7 L466.1,96.4 L468.4,97.7 L470.7,99.2 L471.7,101.8 L474.0,103.3 L475.5,105.5 L476.8,107.9 L477.1,110.5 L478.5,112.7 L479.2,115.1 L477.7,117.8 L475.6,120.0 L472.9,120.1 L470.2,121.1 L467.5,120.3 L464.8,120.0 L463.1,121.9 L461.1,123.6 L458.8,124.6 L456.4,125.1 L453.8,123.6 L451.5,124.8 L451.1,127.2 L451.4,129.7 L450.3,132.0 L453.2,134.1 L456.3,135.7 L453.4,137.1 L452.2,140.5 L449.1,141.7 L451.3,143.6 L452.2,146.1 L452.7,148.9 L454.5,150.8 L457.4,151.3 L458.7,153.9 L461.1,155.0 L462.8,157.3 L465.1,159.1 L467.2,161.0 L468.3,163.3 L467.1,166.1 L468.0,168.4 L469.1,170.7 L469.6,173.1 L471.4,175.6 L471.7,178.8 L473.2,181.5 L472.2,184.6 L470.8,187.5 L473.5,188.9 L476.4,189.6 L478.9,191.4 L481.7,192.4 L484.2,193.0 L485.8,194.9 L486.8,197.6 L488.9,198.9 L491.3,199.6 L490.1,202.0 L489.1,204.4 L486.7,205.9 L486.0,208.5 L487.5,210.6 L489.3,212.7 L491.6,213.8 L494.7,213.1 L497.0,214.3 L498.8,216.3 L500.7,218.1 L503.0,219.0 L505.3,220.0 L508.0,220.4 L510.0,221.9 L512.2,223.3 L514.6,224.5 L517.0,225.6 L519.4,226.6 L522.0,226.8 L524.2,228.3 L526.5,229.1 L528.8,230.3 L531.3,230.8 L533.8,231.4 L536.3,230.3 L537.0,232.8 L539.2,234.1 L540.9,235.9 L542.7,237.5 L543.8,239.7 L546.4,238.0 L549.2,237.2 L552.3,237.5 L555.1,236.9 L557.5,235.6 L560.0,234.8 L562.6,234.1 L565.6,234.5 L568.2,233.2 L571.0,232.8 L573.8,232.2 L576.8,231.0 L579.8,229.9 L583.2,230.3 L585.4,229.2 L587.7,228.1 L590.3,228.2 L592.6,227.5 L595.5,229.3 L598.8,229.2 L602.0,229.4 L605.2,229.0 L608.2,230.9 L611.4,230.3 L614.3,230.5 L617.1,229.9 L619.9,229.9 L622.6,228.5 L625.3,229.5 L628.1,230.1 L631.1,229.5 L633.9,230.3 L636.9,231.7 L640.1,232.0 L643.3,231.3 L645.9,229.8 L649.0,230.5 L651.8,229.7 L654.5,228.5 L656.4,230.0 L658.2,231.7 L660.1,233.2 L661.1,235.5 L661.1,238.2 L662.9,240.2 L663.9,242.5 L663.8,245.2 L665.5,247.4 L665.8,250.0 L668.3,251.8 L671.4,251.9 L674.1,249.6 L675.2,246.3 L677.6,244.4 L680.3,242.7 L682.7,240.7 L685.8,240.7 L688.5,239.3 L691.1,237.8 L693.9,236.9 L694.6,234.1 L696.1,231.7 L697.7,229.4 L700.4,228.9 L702.4,226.8 L705.5,227.5 L707.5,225.2 L710.5,225.6 L712.7,223.8 L715.3,223.7 L717.6,225.5 L720.1,225.2 L722.7,225.1 L725.2,225.4 L727.7,225.7 L728.3,228.6 L729.4,231.4 L731.0,234.0 L731.5,236.9 L733.2,239.3 L733.7,242.2 L733.9,245.2 L735.7,247.5 L737.1,250.0 L738.9,252.0 L738.3,255.0 L739.4,257.2 L740.0,259.7 L742.4,261.5 L742.2,264.3 L744.6,266.1 L744.6,268.8 L748.3,278.2 L748.3,285.7 L744.6,287.6 L723.9,293.2 L686.4,301.7 L648.9,306.3 L611.4,308.2 L573.8,307.3 L536.3,304.5 L498.8,300.7 L479.0,296.4 L433.5,285.0 L387.9,271.3 L365.1,264.5 L360.5,257.6 L358.3,244.0 L360.5,232.6 L365.1,225.7 L367.4,216.6 L360.5,206.0 L351.0,206.0 L342.0,207.5 L334.0,209.5 L320.0,201.5 L308.0,196.0 L285.3,184.7 L251.2,169.9 L205.6,157.3 L169.2,152.7Z" fill="none" stroke="#111" stroke-width="1.5" stroke-linejoin="round"/><polyline points="360.5,204.0 361.7,201.3 363.6,199.0 365.0,196.5 367.2,194.4 369.8,192.6 372.0,190.5 374.7,189.7 377.1,187.9 380.0,187.5 382.7,186.8 385.3,188.0 388.0,187.5 390.8,188.4 393.5,189.5 396.0,191.0 398.9,190.8 401.3,189.3 404.0,188.5 406.8,187.1 409.0,185.0 410.9,187.1 412.6,189.4 415.0,191.1 416.5,193.5 418.8,194.7 421.1,196.0 423.6,196.5 426.0,197.5 428.3,198.7 430.7,199.5 433.4,199.6 435.5,201.4 438.0,202.0 441.0,205.5 444.5,205.1 448.0,204.5 450.6,204.7 453.1,204.9 455.4,206.5 458.0,206.5 460.4,206.4 462.8,206.6 465.2,206.7 467.6,206.4 470.0,206.0 472.4,206.7 474.8,206.1 477.2,206.7 479.6,206.3 482.0,206.5 486.0,208.5" fill="none" stroke="#000" stroke-width="3" stroke-linejoin="round"/></g>
<g transform="translate(-6.2,245.4)"><g clip-path="url(#clipInd)"><rect x="120" y="30" width="380" height="200" fill="#8a8585"/><polygon points="195.0,70.0 230.0,45.0 290.0,32.0 320.0,45.0 335.0,75.0 320.0,105.0 290.0,115.0 250.0,100.0 215.0,95.0" fill="#b0adad" filter="url(#blur12)"/><polygon points="128.0,150.0 130.0,110.0 150.0,92.0 175.0,84.0 200.0,84.0 220.0,96.0 215.0,115.0 195.0,135.0 165.0,160.0" fill="#bdbbbb" filter="url(#blur8)"/><polygon points="140.0,140.0 150.0,110.0 175.0,98.0 205.0,92.0 240.0,92.0 270.0,100.0 295.0,115.0 320.0,135.0 300.0,150.0 240.0,140.0 180.0,150.0" fill="#cfcdcd" filter="url(#blur8)"/><ellipse cx="298" cy="118" rx="15" ry="8" transform="rotate(35 298 118)" fill="#d6d4d4" filter="url(#blur5)"/><rect x="100" y="20" width="680" height="310" filter="url(#tex2)" opacity="0.5"/><g transform="rotate(28 400 150)"><rect x="0" y="-200" width="900" height="700" filter="url(#tex)" opacity="0.42"/></g><polygon points="160.0,162.0 166.0,136.0 180.0,124.0 198.0,114.0 222.0,110.0 250.0,112.0 276.0,121.0 301.0,135.0 329.0,150.0 354.0,166.0 370.0,180.0 380.0,192.0 372.0,220.0 330.0,230.0 250.0,200.0 160.0,175.0" fill="#ffffff" filter="url(#blur8)"/><polyline points="289.2,67.5 291.5,69.7 294.9,69.5 297.1,71.9 299.9,73.1 302.8,74.0 305.3,75.9 308.3,76.5 311.6,76.4 313.7,79.2 316.5,80.3 319.6,80.7 322.7,81.3 325.3,82.9 327.8,84.6 330.3,86.4 333.2,87.7 334.6,90.9 338.3,91.1 340.7,93.1 343.4,94.6 345.0,97.6 347.4,99.6 350.7,100.2 353.0,102.3 354.8,105.1 357.9,106.1 360.7,107.5 363.9,107.9 366.0,110.8 369.1,111.5 372.4,111.6 375.1,113.1 377.9,114.4 380.6,115.9 383.6,116.8 386.8,117.2 390.2,117.0 393.3,118.0 396.6,118.1 399.7,119.5 402.8,120.3 406.0,120.8 409.3,121.1" fill="none" stroke="#0b2a8a" stroke-width="3.8" stroke-linecap="round" stroke-linejoin="round"/><polyline points="297.8,71.8 300.7,73.2 302.0,76.2 303.7,78.7 306.2,80.5 308.8,82.2 310.2,85.1 313.0,86.6 314.4,89.4 317.9,90.2 319.9,92.5 321.4,95.3 323.5,97.5 326.4,98.9 328.3,101.3 329.2,104.7 331.6,106.6 334.6,107.9 337.1,109.7 338.2,112.9 340.3,115.1 343.4,116.3 344.9,119.1 346.9,121.4 349.3,123.3 352.1,124.7 354.2,126.9 356.5,128.9 357.3,132.4 360.3,133.6 362.4,135.8 365.0,137.5 366.4,140.4 367.8,143.2 370.3,145.2 371.5,148.2 373.6,150.5 375.3,153.1 377.6,155.3 378.8,158.2 379.3,161.6 381.0,164.2 383.6,166.2 384.1,169.5 385.7,172.3 387.2,175.1 389.1,177.7 390.5,180.6 392.2,183.3" fill="none" stroke="#0b2a8a" stroke-width="3.8" stroke-linecap="round" stroke-linejoin="round"/><polyline points="280.6,110.4 283.0,112.4 285.4,114.5 288.2,115.7 290.9,117.4 293.3,119.3 295.8,121.2 298.6,122.5 301.7,123.5 303.7,126.0 306.4,127.6 309.1,129.1 311.9,130.5 314.5,132.1 316.6,134.5 318.8,136.8 321.8,137.9 324.1,140.0 327.2,140.8 329.7,142.8 332.1,144.7 334.3,147.0 337.1,148.4 339.6,150.2 342.6,151.3 344.9,153.5 347.7,154.8 350.4,156.3 353.0,158.0 355.6,159.7 357.9,161.9 360.3,163.9 361.8,166.5 363.1,169.4 365.4,171.5 367.6,173.7 369.1,176.3 370.7,179.0 373.4,180.7 375.0,183.3" fill="none" stroke="#0b2a8a" stroke-width="1.8" stroke-linecap="round" stroke-linejoin="round"/><polyline points="151.9,97.5 155.2,97.8 158.4,97.5 161.5,96.2 164.7,95.4 168.0,96.0 171.3,96.0 174.4,94.8 177.6,94.3 180.8,93.9 184.0,93.3 187.3,93.8 190.5,93.2 193.2,91.5 196.5,91.0 199.0,88.8 201.7,87.0 205.0,86.3 208.0,85.3 210.3,82.7 213.8,82.5 216.4,80.6 219.4,79.3 222.4,78.2 224.9,76.1 227.3,74.2 229.7,72.3 231.7,69.9 234.3,68.3 236.8,66.6 238.9,64.3 241.5,62.6 243.8,60.7 246.3,58.9 249.6,58.2 252.4,56.2 255.7,55.8 258.4,53.6 261.7,53.0 264.7,51.5 267.8,50.3" fill="none" stroke="#0b2a8a" stroke-width="1.8" stroke-linecap="round" stroke-linejoin="round"/><polyline points="233.5,50.3 236.1,52.0 238.0,54.5 240.1,56.6 243.4,57.5 245.1,60.2 248.2,61.2 250.3,63.5 252.1,66.2 254.9,67.5 256.8,70.0 259.3,71.9 262.2,73.1 264.2,75.4 266.4,77.7 269.7,78.4 271.3,81.3 273.8,83.1 276.4,84.7 278.8,82.7 280.0,79.7 282.1,77.5 284.1,75.1 285.5,72.4 287.7,70.2 289.2,67.5" fill="none" stroke="#0b2a8a" stroke-width="1.8" stroke-linecap="round" stroke-linejoin="round"/><polyline points="300.0,45.0 299.9,48.3 299.7,51.6 298.9,54.8 298.0,58.0 297.2,61.4 298.0,64.9 297.2,68.3 297.8,71.8" fill="none" stroke="#0b2a8a" stroke-width="1.8" stroke-linecap="round" stroke-linejoin="round"/><polyline points="315.0,50.0 313.5,52.8 312.9,55.8 312.7,59.0 312.0,62.0 310.5,65.4 308.3,68.4 306.4,71.5 305.0,75.0" fill="none" stroke="#0b2a8a" stroke-width="1.8" stroke-linecap="round" stroke-linejoin="round"/><polyline points="260.0,95.0 262.9,96.3 266.2,96.3 269.2,97.3 272.2,98.3 275.0,100.0 278.2,101.2 281.1,103.0 284.1,104.6 286.8,106.8 290.0,108.0" fill="none" stroke="#0b2a8a" stroke-width="1.8" stroke-linecap="round" stroke-linejoin="round"/><polyline points="200.0,80.0 202.2,82.8 205.2,84.8 207.7,87.3 210.0,90.0 211.1,93.6 213.1,96.8 215.0,100.0" fill="none" stroke="#0b2a8a" stroke-width="1.8" stroke-linecap="round" stroke-linejoin="round"/><polyline points="330.0,70.0 333.0,72.0 335.2,74.8 337.1,77.9 340.0,80.0 341.6,82.5 343.7,84.7 345.1,87.4 346.4,90.2 348.8,92.2 350.0,95.0" fill="none" stroke="#0b2a8a" stroke-width="1.8" stroke-linecap="round" stroke-linejoin="round"/><polyline points="395.0,135.0 396.4,137.9 396.5,141.2 398.2,143.9 399.1,147.0 400.0,150.0 400.3,153.2 401.3,156.2 403.3,158.9 404.8,161.7 405.0,165.0" fill="none" stroke="#0b2a8a" stroke-width="1.8" stroke-linecap="round" stroke-linejoin="round"/><polyline points="420.0,130.0 419.5,133.2 417.3,135.8 416.7,138.9 416.4,142.1 415.0,145.0 413.4,147.8 412.4,150.8 411.7,153.9 411.7,157.2 410.0,160.0" fill="none" stroke="#0b2a8a" stroke-width="1.8" stroke-linecap="round" stroke-linejoin="round"/><polyline points="165.0,90.0 166.6,93.4 168.7,96.5 170.0,100.0 172.0,102.5 173.5,105.2 175.0,108.0" fill="none" stroke="#0b2a8a" stroke-width="1.8" stroke-linecap="round" stroke-linejoin="round"/><polyline points="240.0,85.0 241.8,88.3 242.8,91.9 245.0,95.0 246.2,98.3 247.5,101.5 248.0,105.0" fill="none" stroke="#0b2a8a" stroke-width="1.8" stroke-linecap="round" stroke-linejoin="round"/><polyline points="232.2,64.9 232.4,68.0 231.6,70.9 231.6,73.9 230.9,76.9 229.1,80.3 228.0,84.0 226.9,87.6 224.6,90.4 223.3,93.9 220.7,96.6 218.8,99.7 215.9,102.2 214.0,105.5 210.8,107.7 207.5,109.9 204.1,111.8" fill="none" stroke="#0b2a8a" stroke-width="1.8" stroke-linecap="round" stroke-linejoin="round"/><polyline points="259.0,62.2 262.4,62.5 265.8,61.6 269.1,62.9 272.5,62.2 276.0,62.8 279.4,63.6 282.5,65.5 285.9,66.2 289.1,68.7 292.8,70.2 296.6,71.6" fill="none" stroke="#0b2a8a" stroke-width="1.8" stroke-linecap="round" stroke-linejoin="round"/><polyline points="320.0,85.0 322.4,87.7 325.0,90.1 327.5,92.7 330.1,95.2 332.0,98.3 335.2,99.5 338.0,101.7 341.3,102.7 343.8,105.4 347.4,105.8 350.2,107.9 353.4,109.2 356.3,111.0 358.9,113.4 362.4,114.1 365.5,115.5 368.3,117.6 371.0,119.8 374.4,120.9 377.0,123.3 380.1,124.9 382.7,127.2 385.2,129.8 388.6,131.0 391.4,133.0 393.9,135.6 397.2,136.9 399.6,139.0 401.9,141.3 405.0,142.5 407.2,144.9 410.2,146.2 412.9,147.9 415.3,150.1" fill="none" stroke="#0b2a8a" stroke-width="1.8" stroke-linecap="round" stroke-linejoin="round"/><polyline points="350.2,121.2 350.7,125.6 352.6,129.6 354.2,133.3 356.2,136.9 358.5,140.2 359.8,144.1 362.7,147.2 365.8,150.1 368.7,152.8 371.9,155.0 373.6,157.6 374.3,160.6 375.5,163.4" fill="none" stroke="#0b2a8a" stroke-width="1.8" stroke-linecap="round" stroke-linejoin="round"/><polyline points="259.0,44.7 256.8,46.8 254.9,49.1 252.1,50.5 250.1,52.8 247.7,54.7 245.6,56.8 242.9,58.4 240.1,59.9 237.3,61.3 234.9,63.3 232.2,64.9" fill="none" stroke="#0b2a8a" stroke-width="1.8" stroke-linecap="round" stroke-linejoin="round"/><polyline points="276.5,46.1 276.2,49.8 276.7,53.3 277.8,56.8 275.2,59.6 272.5,62.2" fill="none" stroke="#0b2a8a" stroke-width="1.8" stroke-linecap="round" stroke-linejoin="round"/><polyline points="299.3,43.4 299.6,46.8 298.6,50.1 298.4,53.5 297.9,56.8 297.0,60.1 297.5,63.5 297.6,66.9 296.6,70.2" fill="none" stroke="#0b2a8a" stroke-width="1.8" stroke-linecap="round" stroke-linejoin="round"/><polyline points="312.7,46.1 312.5,49.5 310.8,52.7 311.3,56.3 310.0,59.5 306.9,61.4 304.7,64.3 301.9,66.5 299.3,68.9" fill="none" stroke="#0b2a8a" stroke-width="1.8" stroke-linecap="round" stroke-linejoin="round"/><polyline points="161.2,93.0 163.7,95.0 166.2,96.8 169.6,97.5 171.9,99.7 175.0,100.7 178.3,101.0 181.3,102.4" fill="none" stroke="#0b2a8a" stroke-width="1.8" stroke-linecap="round" stroke-linejoin="round"/><polyline points="189.3,86.3 190.5,90.2 192.5,93.6 194.7,97.0 196.0,100.5 196.7,104.1 197.4,107.7" fill="none" stroke="#0b2a8a" stroke-width="1.8" stroke-linecap="round" stroke-linejoin="round"/><polyline points="205.4,76.9 206.0,80.5 207.4,83.9 209.1,87.1 210.8,90.3 211.9,93.2 211.9,96.3 211.6,99.4 212.1,102.4 210.2,105.4 207.6,107.7 205.4,110.4" fill="none" stroke="#0b2a8a" stroke-width="1.8" stroke-linecap="round" stroke-linejoin="round"/><polyline points="218.8,70.2 220.2,73.4 220.2,76.9 220.9,80.2 221.5,83.6 221.7,87.1 223.1,90.3 222.9,93.8 224.2,97.0" fill="none" stroke="#0b2a8a" stroke-width="1.8" stroke-linecap="round" stroke-linejoin="round"/><polyline points="243.0,83.6 242.7,87.0 242.4,90.5 241.1,93.7 240.3,97.0 239.4,99.9 237.0,102.1 236.3,105.1 233.8,107.4 232.2,110.4" fill="none" stroke="#0b2a8a" stroke-width="1.8" stroke-linecap="round" stroke-linejoin="round"/><polyline points="249.7,94.3 249.4,98.0 251.0,101.4 251.0,105.1 249.5,108.5 248.6,112.1 248.3,115.8 246.8,118.7 244.3,120.9 243.0,123.8" fill="none" stroke="#0b2a8a" stroke-width="1.8" stroke-linecap="round" stroke-linejoin="round"/><polyline points="285.9,105.1 289.2,104.2 292.5,103.3 296.0,103.4 299.3,102.4 302.6,101.5 305.9,100.7 309.4,100.6 312.7,99.7" fill="none" stroke="#0b2a8a" stroke-width="1.8" stroke-linecap="round" stroke-linejoin="round"/><polyline points="292.6,110.4 294.1,113.9 296.6,116.8 298.3,120.1 299.3,123.8 301.5,126.1 304.2,127.8 306.0,130.5 309.6,131.6 312.4,134.5 315.7,136.2 319.4,137.2" fill="none" stroke="#0b2a8a" stroke-width="1.8" stroke-linecap="round" stroke-linejoin="round"/><polyline points="355.0,82.6 357.2,85.2 359.3,87.9 362.2,89.8 363.1,92.9 364.6,95.8" fill="none" stroke="#0b2a8a" stroke-width="1.8" stroke-linecap="round" stroke-linejoin="round"/><polyline points="398.4,136.9 399.0,140.3 401.5,143.0 402.0,146.5 398.4,150.1" fill="none" stroke="#0b2a8a" stroke-width="1.8" stroke-linecap="round" stroke-linejoin="round"/><polyline points="345.0,70.0 347.6,72.4 350.2,74.8 352.7,77.3 355.0,80.0 357.4,82.3 359.6,84.8 361.2,87.8 363.1,90.5 365.3,92.9 368.0,95.0" fill="none" stroke="#0b2a8a" stroke-width="1.8" stroke-linecap="round" stroke-linejoin="round"/><polyline points="430.0,110.0 428.5,113.4 426.5,116.6 425.0,120.0 424.4,123.1 423.3,126.1 421.4,128.8 420.9,132.0 420.0,135.0 420.3,138.1 419.2,141.0 418.3,143.9 418.1,147.0 418.0,150.0" fill="none" stroke="#0b2a8a" stroke-width="1.8" stroke-linecap="round" stroke-linejoin="round"/><polyline points="268.0,92.0 271.3,92.9 274.1,94.8 277.1,96.2 280.0,98.0 283.2,99.1 286.2,100.6 288.8,103.0 292.0,104.0" fill="none" stroke="#0b2a8a" stroke-width="1.8" stroke-linecap="round" stroke-linejoin="round"/><polyline points="310.0,112.0 313.0,113.6 315.8,115.4 319.1,116.4 322.0,118.0 324.7,120.5 328.4,121.3 331.1,123.8 334.0,126.0" fill="none" stroke="#0b2a8a" stroke-width="1.8" stroke-linecap="round" stroke-linejoin="round"/><polyline points="340.4,93.6 339.2,97.0 335.2,96.5" fill="none" stroke="#0b2a8a" stroke-width="1.2" stroke-linecap="round" stroke-linejoin="round"/><polyline points="404.4,120.3 399.5,118.0 396.8,119.7" fill="none" stroke="#0b2a8a" stroke-width="1.2" stroke-linecap="round" stroke-linejoin="round"/><polyline points="381.9,116.1 380.6,118.9 377.4,118.3" fill="none" stroke="#0b2a8a" stroke-width="1.2" stroke-linecap="round" stroke-linejoin="round"/><polyline points="309.0,83.0 313.3,82.7 318.4,82.8" fill="none" stroke="#0b2a8a" stroke-width="1.2" stroke-linecap="round" stroke-linejoin="round"/><polyline points="358.5,132.5 358.8,126.6 355.6,124.5" fill="none" stroke="#0b2a8a" stroke-width="1.2" stroke-linecap="round" stroke-linejoin="round"/><polyline points="301.0,75.0 304.4,72.8 307.5,71.9" fill="none" stroke="#0b2a8a" stroke-width="1.2" stroke-linecap="round" stroke-linejoin="round"/><polyline points="369.0,144.3 368.4,139.5 365.3,138.0" fill="none" stroke="#0b2a8a" stroke-width="1.2" stroke-linecap="round" stroke-linejoin="round"/><polyline points="328.9,102.9 331.9,102.5 334.9,102.9 338.9,100.9" fill="none" stroke="#0b2a8a" stroke-width="1.2" stroke-linecap="round" stroke-linejoin="round"/><polyline points="392.1,183.1 395.9,184.4 399.3,186.5" fill="none" stroke="#0b2a8a" stroke-width="1.2" stroke-linecap="round" stroke-linejoin="round"/><polyline points="355.9,160.6 358.0,158.2 361.1,156.1" fill="none" stroke="#0b2a8a" stroke-width="1.2" stroke-linecap="round" stroke-linejoin="round"/><polyline points="363.3,168.7 361.8,167.6 357.5,169.3" fill="none" stroke="#0b2a8a" stroke-width="1.2" stroke-linecap="round" stroke-linejoin="round"/><polyline points="357.9,162.0 361.7,164.0 365.4,165.5" fill="none" stroke="#0b2a8a" stroke-width="1.2" stroke-linecap="round" stroke-linejoin="round"/><polyline points="236.8,66.5 233.6,64.1 233.0,62.9" fill="none" stroke="#0b2a8a" stroke-width="1.2" stroke-linecap="round" stroke-linejoin="round"/><polyline points="232.3,70.1 228.2,66.6 227.3,66.6" fill="none" stroke="#0b2a8a" stroke-width="1.2" stroke-linecap="round" stroke-linejoin="round"/><polyline points="217.2,79.9 214.8,84.6 211.0,86.1" fill="none" stroke="#0b2a8a" stroke-width="1.2" stroke-linecap="round" stroke-linejoin="round"/><polyline points="242.2,57.3 247.9,58.5 252.9,56.6" fill="none" stroke="#0b2a8a" stroke-width="1.2" stroke-linecap="round" stroke-linejoin="round"/><polyline points="265.8,76.2 262.1,71.9 260.5,67.1" fill="none" stroke="#0b2a8a" stroke-width="1.2" stroke-linecap="round" stroke-linejoin="round"/><polyline points="272.2,81.4 274.1,75.9 273.3,74.1" fill="none" stroke="#0b2a8a" stroke-width="1.2" stroke-linecap="round" stroke-linejoin="round"/><polyline points="297.9,67.1 300.2,69.2 303.5,68.3" fill="none" stroke="#0b2a8a" stroke-width="1.2" stroke-linecap="round" stroke-linejoin="round"/><polyline points="298.0,57.8 296.9,55.9 297.8,50.4" fill="none" stroke="#0b2a8a" stroke-width="1.2" stroke-linecap="round" stroke-linejoin="round"/><polyline points="298.0,58.4 299.4,61.4 300.3,64.7 300.3,68.0" fill="none" stroke="#0b2a8a" stroke-width="1.2" stroke-linecap="round" stroke-linejoin="round"/><polyline points="308.6,68.3 310.2,66.5 314.6,64.1" fill="none" stroke="#0b2a8a" stroke-width="1.2" stroke-linecap="round" stroke-linejoin="round"/><polyline points="312.7,59.2 315.9,58.7 318.9,57.6 321.5,59.8" fill="none" stroke="#0b2a8a" stroke-width="1.2" stroke-linecap="round" stroke-linejoin="round"/><polyline points="307.5,70.4 308.9,66.7 312.3,63.9" fill="none" stroke="#0b2a8a" stroke-width="1.2" stroke-linecap="round" stroke-linejoin="round"/><polyline points="262.0,95.7 262.0,96.8 265.9,98.3" fill="none" stroke="#0b2a8a" stroke-width="1.2" stroke-linecap="round" stroke-linejoin="round"/><polyline points="261.1,95.4 262.5,99.2 265.5,99.4" fill="none" stroke="#0b2a8a" stroke-width="1.2" stroke-linecap="round" stroke-linejoin="round"/><polyline points="282.4,104.0 281.6,106.0 283.4,109.0" fill="none" stroke="#0b2a8a" stroke-width="1.2" stroke-linecap="round" stroke-linejoin="round"/><polyline points="206.0,86.0 202.9,87.2 199.7,87.6 196.8,85.8" fill="none" stroke="#0b2a8a" stroke-width="1.2" stroke-linecap="round" stroke-linejoin="round"/><polyline points="212.3,94.6 215.3,97.3 220.9,98.3" fill="none" stroke="#0b2a8a" stroke-width="1.2" stroke-linecap="round" stroke-linejoin="round"/><polyline points="214.8,99.6 212.8,97.2 210.2,95.4 207.5,94.0" fill="none" stroke="#0b2a8a" stroke-width="1.2" stroke-linecap="round" stroke-linejoin="round"/><polyline points="348.2,92.3 349.7,88.9 350.6,85.2" fill="none" stroke="#0b2a8a" stroke-width="1.2" stroke-linecap="round" stroke-linejoin="round"/><polyline points="335.1,75.1 333.8,70.5 334.0,67.4 334.0,64.4" fill="none" stroke="#0b2a8a" stroke-width="1.2" stroke-linecap="round" stroke-linejoin="round"/><polyline points="330.6,70.6 332.2,64.9 334.9,60.7" fill="none" stroke="#0b2a8a" stroke-width="1.2" stroke-linecap="round" stroke-linejoin="round"/><polyline points="400.5,151.6 403.8,153.7 404.5,153.7" fill="none" stroke="#0b2a8a" stroke-width="1.2" stroke-linecap="round" stroke-linejoin="round"/><polyline points="402.5,157.6 407.5,156.0 410.8,154.7" fill="none" stroke="#0b2a8a" stroke-width="1.2" stroke-linecap="round" stroke-linejoin="round"/><polyline points="404.4,163.1 406.9,162.2 408.2,164.9" fill="none" stroke="#0b2a8a" stroke-width="1.2" stroke-linecap="round" stroke-linejoin="round"/><polyline points="411.5,155.6 413.2,150.4 415.2,147.3" fill="none" stroke="#0b2a8a" stroke-width="1.2" stroke-linecap="round" stroke-linejoin="round"/><polyline points="413.4,149.9 414.7,153.2 414.3,156.7 414.8,160.2" fill="none" stroke="#0b2a8a" stroke-width="1.2" stroke-linecap="round" stroke-linejoin="round"/><polyline points="417.5,137.4 417.6,132.9 415.4,127.4" fill="none" stroke="#0b2a8a" stroke-width="1.2" stroke-linecap="round" stroke-linejoin="round"/><polyline points="171.2,102.0 174.6,101.6 177.0,98.6" fill="none" stroke="#0b2a8a" stroke-width="1.2" stroke-linecap="round" stroke-linejoin="round"/><polyline points="165.8,91.6 168.2,94.8 169.1,98.0 168.8,101.3" fill="none" stroke="#0b2a8a" stroke-width="1.2" stroke-linecap="round" stroke-linejoin="round"/><polyline points="165.4,90.8 164.6,95.7 162.0,100.8" fill="none" stroke="#0b2a8a" stroke-width="1.2" stroke-linecap="round" stroke-linejoin="round"/><polyline points="245.0,94.9 247.4,97.4 248.5,101.0" fill="none" stroke="#0b2a8a" stroke-width="1.2" stroke-linecap="round" stroke-linejoin="round"/><polyline points="241.3,87.6 243.3,88.0 247.3,85.7" fill="none" stroke="#0b2a8a" stroke-width="1.2" stroke-linecap="round" stroke-linejoin="round"/><polyline points="244.5,94.0 242.4,94.7 238.8,93.7" fill="none" stroke="#0b2a8a" stroke-width="1.2" stroke-linecap="round" stroke-linejoin="round"/><polyline points="227.1,87.0 224.2,86.8 220.2,88.4" fill="none" stroke="#0b2a8a" stroke-width="1.2" stroke-linecap="round" stroke-linejoin="round"/><polyline points="228.2,84.0 228.4,81.3 224.8,80.8" fill="none" stroke="#0b2a8a" stroke-width="1.2" stroke-linecap="round" stroke-linejoin="round"/><polyline points="220.3,97.4 222.5,95.6 225.4,94.2 228.5,93.8" fill="none" stroke="#0b2a8a" stroke-width="1.2" stroke-linecap="round" stroke-linejoin="round"/><polyline points="231.7,69.7 230.3,72.7 225.0,72.3" fill="none" stroke="#0b2a8a" stroke-width="1.2" stroke-linecap="round" stroke-linejoin="round"/><polyline points="230.5,77.9 230.8,80.7 227.9,84.6" fill="none" stroke="#0b2a8a" stroke-width="1.2" stroke-linecap="round" stroke-linejoin="round"/><polyline points="228.6,83.0 233.0,80.4 234.6,79.3" fill="none" stroke="#0b2a8a" stroke-width="1.2" stroke-linecap="round" stroke-linejoin="round"/><polyline points="277.9,63.8 276.5,64.3 272.6,62.0" fill="none" stroke="#0b2a8a" stroke-width="1.2" stroke-linecap="round" stroke-linejoin="round"/><polyline points="284.3,65.7 286.7,67.8 292.4,66.6" fill="none" stroke="#0b2a8a" stroke-width="1.2" stroke-linecap="round" stroke-linejoin="round"/><polyline points="296.5,71.5 295.1,69.5 293.7,67.3" fill="none" stroke="#0b2a8a" stroke-width="1.2" stroke-linecap="round" stroke-linejoin="round"/><polyline points="391.7,133.2 386.3,133.2 382.3,135.0" fill="none" stroke="#0b2a8a" stroke-width="1.2" stroke-linecap="round" stroke-linejoin="round"/><polyline points="355.4,110.7 355.3,109.8 352.8,107.6" fill="none" stroke="#0b2a8a" stroke-width="1.2" stroke-linecap="round" stroke-linejoin="round"/><polyline points="341.3,103.2 339.2,99.1 339.0,98.4" fill="none" stroke="#0b2a8a" stroke-width="1.2" stroke-linecap="round" stroke-linejoin="round"/><polyline points="327.0,92.8 325.9,95.6 326.3,98.9 325.5,102.2" fill="none" stroke="#0b2a8a" stroke-width="1.2" stroke-linecap="round" stroke-linejoin="round"/><polyline points="348.9,107.2 346.4,107.3 342.3,105.6" fill="none" stroke="#0b2a8a" stroke-width="1.2" stroke-linecap="round" stroke-linejoin="round"/><polyline points="388.8,131.3 387.6,134.7 386.3,136.2" fill="none" stroke="#0b2a8a" stroke-width="1.2" stroke-linecap="round" stroke-linejoin="round"/><polyline points="369.0,152.7 368.1,150.8 365.4,148.9" fill="none" stroke="#0b2a8a" stroke-width="1.2" stroke-linecap="round" stroke-linejoin="round"/><polyline points="355.7,135.9 352.9,134.9 351.9,137.4" fill="none" stroke="#0b2a8a" stroke-width="1.2" stroke-linecap="round" stroke-linejoin="round"/><polyline points="374.7,161.5 379.5,161.2 381.0,157.1" fill="none" stroke="#0b2a8a" stroke-width="1.2" stroke-linecap="round" stroke-linejoin="round"/><polyline points="361.1,145.4 356.2,148.0 352.4,147.3" fill="none" stroke="#0b2a8a" stroke-width="1.2" stroke-linecap="round" stroke-linejoin="round"/><polyline points="354.8,134.1 351.8,129.8 347.5,128.3" fill="none" stroke="#0b2a8a" stroke-width="1.2" stroke-linecap="round" stroke-linejoin="round"/><polyline points="368.9,152.6 366.5,153.2 364.1,155.5" fill="none" stroke="#0b2a8a" stroke-width="1.2" stroke-linecap="round" stroke-linejoin="round"/><polyline points="235.7,62.8 236.4,60.2 240.5,58.4" fill="none" stroke="#0b2a8a" stroke-width="1.2" stroke-linecap="round" stroke-linejoin="round"/><polyline points="254.3,49.0 252.2,46.5 251.5,43.0 249.5,40.1" fill="none" stroke="#0b2a8a" stroke-width="1.2" stroke-linecap="round" stroke-linejoin="round"/><polyline points="232.8,64.5 233.9,60.1 233.5,56.9 233.2,53.6" fill="none" stroke="#0b2a8a" stroke-width="1.2" stroke-linecap="round" stroke-linejoin="round"/><polyline points="277.7,56.0 272.7,53.8 267.5,54.5" fill="none" stroke="#0b2a8a" stroke-width="1.2" stroke-linecap="round" stroke-linejoin="round"/><polyline points="277.4,53.2 274.6,49.6 271.9,48.4" fill="none" stroke="#0b2a8a" stroke-width="1.2" stroke-linecap="round" stroke-linejoin="round"/><polyline points="276.8,48.8 273.8,49.3 270.8,51.6" fill="none" stroke="#0b2a8a" stroke-width="1.2" stroke-linecap="round" stroke-linejoin="round"/><polyline points="297.6,59.6 298.2,55.7 299.2,53.4" fill="none" stroke="#0b2a8a" stroke-width="1.2" stroke-linecap="round" stroke-linejoin="round"/><polyline points="298.3,53.2 301.2,51.1 304.9,52.9" fill="none" stroke="#0b2a8a" stroke-width="1.2" stroke-linecap="round" stroke-linejoin="round"/><polyline points="297.2,64.5 298.7,65.4 302.5,64.4" fill="none" stroke="#0b2a8a" stroke-width="1.2" stroke-linecap="round" stroke-linejoin="round"/><polyline points="302.8,65.8 306.5,66.0 309.9,66.3 313.1,67.6" fill="none" stroke="#0b2a8a" stroke-width="1.2" stroke-linecap="round" stroke-linejoin="round"/><polyline points="305.8,63.2 303.8,61.7 300.2,57.2" fill="none" stroke="#0b2a8a" stroke-width="1.2" stroke-linecap="round" stroke-linejoin="round"/><polyline points="311.7,51.1 312.5,54.3 312.8,57.6 311.7,60.6" fill="none" stroke="#0b2a8a" stroke-width="1.2" stroke-linecap="round" stroke-linejoin="round"/><polyline points="167.6,97.0 166.1,100.3 164.5,103.1 162.6,105.6" fill="none" stroke="#0b2a8a" stroke-width="1.2" stroke-linecap="round" stroke-linejoin="round"/><polyline points="162.8,94.0 164.9,90.6 165.6,88.9" fill="none" stroke="#0b2a8a" stroke-width="1.2" stroke-linecap="round" stroke-linejoin="round"/><polyline points="166.7,96.4 169.8,98.1 171.7,100.6 173.0,103.5" fill="none" stroke="#0b2a8a" stroke-width="1.2" stroke-linecap="round" stroke-linejoin="round"/><polyline points="197.2,106.9 196.5,105.7 193.2,106.3" fill="none" stroke="#0b2a8a" stroke-width="1.2" stroke-linecap="round" stroke-linejoin="round"/><polyline points="196.6,104.5 196.0,106.3 192.4,107.0" fill="none" stroke="#0b2a8a" stroke-width="1.2" stroke-linecap="round" stroke-linejoin="round"/><polyline points="194.7,97.0 195.1,101.5 195.7,105.8" fill="none" stroke="#0b2a8a" stroke-width="1.2" stroke-linecap="round" stroke-linejoin="round"/><polyline points="209.6,105.4 206.3,101.6 204.1,99.0" fill="none" stroke="#0b2a8a" stroke-width="1.2" stroke-linecap="round" stroke-linejoin="round"/><polyline points="211.6,98.0 206.9,100.2 204.3,100.0" fill="none" stroke="#0b2a8a" stroke-width="1.2" stroke-linecap="round" stroke-linejoin="round"/><polyline points="210.0,88.3 215.1,87.0 217.9,82.4" fill="none" stroke="#0b2a8a" stroke-width="1.2" stroke-linecap="round" stroke-linejoin="round"/><polyline points="219.7,74.8 220.0,77.3 222.0,78.2" fill="none" stroke="#0b2a8a" stroke-width="1.2" stroke-linecap="round" stroke-linejoin="round"/><polyline points="222.1,86.5 223.2,87.8 227.1,88.1" fill="none" stroke="#0b2a8a" stroke-width="1.2" stroke-linecap="round" stroke-linejoin="round"/><polyline points="219.4,73.2 220.8,75.3 225.3,78.2" fill="none" stroke="#0b2a8a" stroke-width="1.2" stroke-linecap="round" stroke-linejoin="round"/><polyline points="242.5,86.3 239.6,81.6 240.0,78.9" fill="none" stroke="#0b2a8a" stroke-width="1.2" stroke-linecap="round" stroke-linejoin="round"/><polyline points="234.0,108.1 235.2,113.3 234.2,115.1" fill="none" stroke="#0b2a8a" stroke-width="1.2" stroke-linecap="round" stroke-linejoin="round"/><polyline points="233.6,108.6 235.9,110.4 239.7,109.0" fill="none" stroke="#0b2a8a" stroke-width="1.2" stroke-linecap="round" stroke-linejoin="round"/><polyline points="248.6,114.6 243.3,116.2 241.6,118.5" fill="none" stroke="#0b2a8a" stroke-width="1.2" stroke-linecap="round" stroke-linejoin="round"/><polyline points="245.7,119.7 251.0,119.7 254.0,121.7" fill="none" stroke="#0b2a8a" stroke-width="1.2" stroke-linecap="round" stroke-linejoin="round"/><polyline points="249.1,112.8 245.9,113.0 244.0,111.8" fill="none" stroke="#0b2a8a" stroke-width="1.2" stroke-linecap="round" stroke-linejoin="round"/><polyline points="304.5,101.3 304.4,97.6 305.9,97.2" fill="none" stroke="#0b2a8a" stroke-width="1.2" stroke-linecap="round" stroke-linejoin="round"/><polyline points="310.3,100.2 312.5,103.2 316.2,107.1" fill="none" stroke="#0b2a8a" stroke-width="1.2" stroke-linecap="round" stroke-linejoin="round"/><polyline points="308.2,100.6 305.0,103.1 302.9,102.6" fill="none" stroke="#0b2a8a" stroke-width="1.2" stroke-linecap="round" stroke-linejoin="round"/><polyline points="302.7,127.2 305.8,132.1 311.2,133.9" fill="none" stroke="#0b2a8a" stroke-width="1.2" stroke-linecap="round" stroke-linejoin="round"/><polyline points="308.7,131.8 304.9,130.7 302.5,132.0" fill="none" stroke="#0b2a8a" stroke-width="1.2" stroke-linecap="round" stroke-linejoin="round"/><polyline points="295.5,116.1 295.0,119.6 296.7,120.1" fill="none" stroke="#0b2a8a" stroke-width="1.2" stroke-linecap="round" stroke-linejoin="round"/><polyline points="362.2,89.9 363.3,86.8 364.8,84.0 363.7,80.0" fill="none" stroke="#0b2a8a" stroke-width="1.2" stroke-linecap="round" stroke-linejoin="round"/><polyline points="363.5,93.0 361.7,96.4 359.2,97.2" fill="none" stroke="#0b2a8a" stroke-width="1.2" stroke-linecap="round" stroke-linejoin="round"/><polyline points="363.4,92.7 362.3,95.8 360.7,98.9 358.5,101.7" fill="none" stroke="#0b2a8a" stroke-width="1.2" stroke-linecap="round" stroke-linejoin="round"/><polyline points="401.6,145.3 401.0,150.3 401.7,153.3 401.8,156.3" fill="none" stroke="#0b2a8a" stroke-width="1.2" stroke-linecap="round" stroke-linejoin="round"/><polyline points="401.0,143.8 406.6,143.4 408.9,145.2" fill="none" stroke="#0b2a8a" stroke-width="1.2" stroke-linecap="round" stroke-linejoin="round"/><polyline points="401.2,144.5 406.1,142.7 407.1,139.9 408.4,137.1" fill="none" stroke="#0b2a8a" stroke-width="1.2" stroke-linecap="round" stroke-linejoin="round"/><polyline points="363.5,89.8 360.7,89.0 360.7,85.0" fill="none" stroke="#0b2a8a" stroke-width="1.2" stroke-linecap="round" stroke-linejoin="round"/><polyline points="363.6,90.0 362.5,90.9 362.3,94.7" fill="none" stroke="#0b2a8a" stroke-width="1.2" stroke-linecap="round" stroke-linejoin="round"/><polyline points="352.5,77.5 353.6,77.9 355.0,81.7" fill="none" stroke="#0b2a8a" stroke-width="1.2" stroke-linecap="round" stroke-linejoin="round"/><polyline points="424.4,121.7 421.2,122.3 418.4,121.3" fill="none" stroke="#0b2a8a" stroke-width="1.2" stroke-linecap="round" stroke-linejoin="round"/><polyline points="421.2,131.5 424.0,128.3 428.7,129.1" fill="none" stroke="#0b2a8a" stroke-width="1.2" stroke-linecap="round" stroke-linejoin="round"/><polyline points="420.8,132.5 424.2,131.4 426.6,131.8" fill="none" stroke="#0b2a8a" stroke-width="1.2" stroke-linecap="round" stroke-linejoin="round"/><polyline points="290.2,103.1 294.0,104.9 294.4,107.9" fill="none" stroke="#0b2a8a" stroke-width="1.2" stroke-linecap="round" stroke-linejoin="round"/><polyline points="277.8,96.9 275.0,100.9 276.1,106.2" fill="none" stroke="#0b2a8a" stroke-width="1.2" stroke-linecap="round" stroke-linejoin="round"/><polyline points="277.5,96.7 275.5,94.3 274.3,91.3 274.8,89.7" fill="none" stroke="#0b2a8a" stroke-width="1.2" stroke-linecap="round" stroke-linejoin="round"/><polyline points="328.9,122.6 325.6,121.4 322.6,120.2 319.5,119.3" fill="none" stroke="#0b2a8a" stroke-width="1.2" stroke-linecap="round" stroke-linejoin="round"/><polyline points="317.3,115.6 319.0,117.8 318.9,120.6" fill="none" stroke="#0b2a8a" stroke-width="1.2" stroke-linecap="round" stroke-linejoin="round"/><polyline points="324.6,119.7 322.2,123.6 317.0,125.5" fill="none" stroke="#0b2a8a" stroke-width="1.2" stroke-linecap="round" stroke-linejoin="round"/><polyline points="380.8,115.6 382.9,117.1 385.5,118.3" fill="none" stroke="#0b2a8a" stroke-width="1.0" stroke-linecap="round" stroke-linejoin="round"/><polyline points="349.7,100.2 350.0,103.3 349.3,103.2" fill="none" stroke="#0b2a8a" stroke-width="1.0" stroke-linecap="round" stroke-linejoin="round"/><polyline points="300.0,74.0 299.5,72.7 298.8,69.5" fill="none" stroke="#0b2a8a" stroke-width="1.0" stroke-linecap="round" stroke-linejoin="round"/><polyline points="362.5,136.5 362.4,136.7 363.3,139.5" fill="none" stroke="#0b2a8a" stroke-width="1.0" stroke-linecap="round" stroke-linejoin="round"/><polyline points="348.5,122.5 346.1,125.1 344.6,127.1" fill="none" stroke="#0b2a8a" stroke-width="1.0" stroke-linecap="round" stroke-linejoin="round"/><polyline points="359.1,133.1 359.8,132.6 360.6,129.7" fill="none" stroke="#0b2a8a" stroke-width="1.0" stroke-linecap="round" stroke-linejoin="round"/><polyline points="311.1,130.7 313.3,131.4 312.9,134.6" fill="none" stroke="#0b2a8a" stroke-width="1.0" stroke-linecap="round" stroke-linejoin="round"/><polyline points="282.7,111.8 282.1,112.1 278.0,114.2" fill="none" stroke="#0b2a8a" stroke-width="1.0" stroke-linecap="round" stroke-linejoin="round"/><polyline points="227.2,74.2 230.9,72.5 231.4,71.2" fill="none" stroke="#0b2a8a" stroke-width="1.0" stroke-linecap="round" stroke-linejoin="round"/><polyline points="199.4,88.8 202.6,92.0 204.2,92.6" fill="none" stroke="#0b2a8a" stroke-width="1.0" stroke-linecap="round" stroke-linejoin="round"/><polyline points="240.5,55.9 240.8,57.8 244.3,60.6" fill="none" stroke="#0b2a8a" stroke-width="1.0" stroke-linecap="round" stroke-linejoin="round"/><polyline points="275.9,84.3 276.1,86.3 280.2,85.9" fill="none" stroke="#0b2a8a" stroke-width="1.0" stroke-linecap="round" stroke-linejoin="round"/><polyline points="298.1,57.7 299.4,56.4 300.4,51.3" fill="none" stroke="#0b2a8a" stroke-width="1.0" stroke-linecap="round" stroke-linejoin="round"/><polyline points="299.3,49.5 300.3,47.4 303.8,48.8" fill="none" stroke="#0b2a8a" stroke-width="1.0" stroke-linecap="round" stroke-linejoin="round"/><polyline points="308.2,69.1 307.4,65.1 308.3,64.3" fill="none" stroke="#0b2a8a" stroke-width="1.0" stroke-linecap="round" stroke-linejoin="round"/><polyline points="312.9,58.3 309.5,56.2 309.2,56.9" fill="none" stroke="#0b2a8a" stroke-width="1.0" stroke-linecap="round" stroke-linejoin="round"/><polyline points="266.7,97.2 266.1,101.5 263.1,102.7" fill="none" stroke="#0b2a8a" stroke-width="1.0" stroke-linecap="round" stroke-linejoin="round"/><polyline points="276.0,100.6 280.2,99.9 282.4,98.9" fill="none" stroke="#0b2a8a" stroke-width="1.0" stroke-linecap="round" stroke-linejoin="round"/><polyline points="212.0,94.1 212.6,92.8 212.8,88.9" fill="none" stroke="#0b2a8a" stroke-width="1.0" stroke-linecap="round" stroke-linejoin="round"/><polyline points="200.3,80.3 203.4,82.6 204.7,85.5" fill="none" stroke="#0b2a8a" stroke-width="1.0" stroke-linecap="round" stroke-linejoin="round"/><polyline points="339.5,79.5 342.0,79.7 344.1,82.0" fill="none" stroke="#0b2a8a" stroke-width="1.0" stroke-linecap="round" stroke-linejoin="round"/><polyline points="348.0,92.0 349.4,89.9 352.1,91.7" fill="none" stroke="#0b2a8a" stroke-width="1.0" stroke-linecap="round" stroke-linejoin="round"/><polyline points="398.7,146.2 394.3,148.6 393.7,149.8" fill="none" stroke="#0b2a8a" stroke-width="1.0" stroke-linecap="round" stroke-linejoin="round"/><polyline points="404.8,164.3 403.4,167.3 401.2,166.3" fill="none" stroke="#0b2a8a" stroke-width="1.0" stroke-linecap="round" stroke-linejoin="round"/><polyline points="417.4,137.9 414.7,142.5 415.4,144.2" fill="none" stroke="#0b2a8a" stroke-width="1.0" stroke-linecap="round" stroke-linejoin="round"/><polyline points="413.1,150.7 415.2,151.7 417.9,151.2" fill="none" stroke="#0b2a8a" stroke-width="1.0" stroke-linecap="round" stroke-linejoin="round"/><polyline points="171.7,102.8 170.0,105.6 169.5,109.3" fill="none" stroke="#0b2a8a" stroke-width="1.0" stroke-linecap="round" stroke-linejoin="round"/><polyline points="174.4,107.1 174.5,104.6 171.5,101.9" fill="none" stroke="#0b2a8a" stroke-width="1.0" stroke-linecap="round" stroke-linejoin="round"/><polyline points="241.9,88.8 243.2,86.2 247.4,84.5" fill="none" stroke="#0b2a8a" stroke-width="1.0" stroke-linecap="round" stroke-linejoin="round"/><polyline points="248.0,104.9 245.5,106.0 246.9,110.9" fill="none" stroke="#0b2a8a" stroke-width="1.0" stroke-linecap="round" stroke-linejoin="round"/></g><g clip-path="url(#clipGan)"><rect x="350" y="180" width="410" height="140" fill="#928e8e"/><polygon points="350.0,185.0 430.0,190.0 480.0,205.0 490.0,220.0 470.0,238.0 400.0,240.0 350.0,235.0" fill="#b3b0b0" filter="url(#blur8)"/><polygon points="712.0,215.0 760.0,215.0 765.0,295.0 715.0,290.0 705.0,260.0" fill="#a9a6a6" filter="url(#blur8)"/><rect x="100" y="20" width="680" height="310" filter="url(#tex2)" opacity="0.5"/><g transform="rotate(-75 550 250)"><rect x="0" y="-200" width="900" height="700" filter="url(#tex)" opacity="0.5"/></g><polygon points="350.0,212.0 369.0,216.0 403.0,231.0 443.0,248.0 483.0,260.0 524.0,268.0 553.0,269.0 610.0,275.0 652.0,279.0 694.0,277.0 729.0,271.0 760.0,268.0 760.0,330.0 350.0,330.0" fill="#ffffff" filter="url(#blur8)"/><polyline points="379.4,199.4 380.7,202.4 383.2,204.8 384.3,208.0 386.0,210.8 387.9,213.5 390.9,215.7 393.6,218.3 396.6,220.5 399.1,223.3 402.0,222.4 405.0,221.8 407.7,220.5 410.4,219.1 413.0,216.7 415.9,214.8 418.8,212.8 421.6,210.7" fill="none" stroke="#0b2a8a" stroke-width="1.5" stroke-linecap="round" stroke-linejoin="round"/><polyline points="418.8,199.4 420.2,202.1 420.5,205.3 421.7,208.1 423.4,210.7 424.5,213.5 427.6,215.5 429.9,218.4 432.9,220.5" fill="none" stroke="#0b2a8a" stroke-width="1.5" stroke-linecap="round" stroke-linejoin="round"/><polyline points="438.5,210.7 439.6,213.5 440.5,216.5 441.4,219.4 442.4,222.2 444.2,224.8 444.7,228.2 446.5,231.2 447.0,234.6" fill="none" stroke="#0b2a8a" stroke-width="1.5" stroke-linecap="round" stroke-linejoin="round"/><polyline points="458.2,216.3 460.0,218.7 461.7,221.2 464.2,223.1 465.2,226.1 467.9,227.8 469.5,230.4 469.9,233.8 472.0,236.8 472.9,240.1 473.9,243.3 474.7,246.7 475.1,250.1" fill="none" stroke="#0b2a8a" stroke-width="1.5" stroke-linecap="round" stroke-linejoin="round"/><polyline points="395.0,205.0 398.0,208.1 400.0,212.0" fill="none" stroke="#0b2a8a" stroke-width="1.5" stroke-linecap="round" stroke-linejoin="round"/><polyline points="405.0,200.0 407.2,203.1 408.0,206.8 410.0,210.0" fill="none" stroke="#0b2a8a" stroke-width="1.5" stroke-linecap="round" stroke-linejoin="round"/><polyline points="393.4,193.2 391.0,195.9 391.3,198.7 390.0,201.4" fill="none" stroke="#0b2a8a" stroke-width="1.2" stroke-linecap="round" stroke-linejoin="round"/><polyline points="391.0,195.9 389.6,193.4 387.9,191.5 385.6,189.8" fill="none" stroke="#0b2a8a" stroke-width="1.2" stroke-linecap="round" stroke-linejoin="round"/><polyline points="391.0,195.9 388.6,194.0 385.2,191.5 381.7,188.5" fill="none" stroke="#0b2a8a" stroke-width="1.2" stroke-linecap="round" stroke-linejoin="round"/><polyline points="391.0,195.9 393.3,192.6 395.8,189.6 399.4,186.8" fill="none" stroke="#0b2a8a" stroke-width="1.2" stroke-linecap="round" stroke-linejoin="round"/><polyline points="391.0,195.9 394.6,193.7 396.9,190.8 399.1,187.0" fill="none" stroke="#0b2a8a" stroke-width="1.2" stroke-linecap="round" stroke-linejoin="round"/><polyline points="401.1,195.0 400.1,199.1 400.3,203.1 398.9,207.1" fill="none" stroke="#0b2a8a" stroke-width="1.2" stroke-linecap="round" stroke-linejoin="round"/><polyline points="400.3,203.1 402.5,201.7 404.1,200.4 406.3,198.4" fill="none" stroke="#0b2a8a" stroke-width="1.2" stroke-linecap="round" stroke-linejoin="round"/><polyline points="400.1,199.1 401.6,198.0 402.7,196.8 403.9,195.0" fill="none" stroke="#0b2a8a" stroke-width="1.2" stroke-linecap="round" stroke-linejoin="round"/><polyline points="416.8,198.9 418.0,201.8 417.0,204.6 418.4,207.5" fill="none" stroke="#0b2a8a" stroke-width="1.2" stroke-linecap="round" stroke-linejoin="round"/><polyline points="418.0,201.8 415.1,199.0 412.8,196.3 410.5,194.2" fill="none" stroke="#0b2a8a" stroke-width="1.2" stroke-linecap="round" stroke-linejoin="round"/><polyline points="417.0,204.6 418.8,202.1 422.0,200.5 425.1,198.7" fill="none" stroke="#0b2a8a" stroke-width="1.2" stroke-linecap="round" stroke-linejoin="round"/><polyline points="423.7,200.5 421.8,204.3 422.5,208.1 421.9,212.0" fill="none" stroke="#0b2a8a" stroke-width="1.2" stroke-linecap="round" stroke-linejoin="round"/><polyline points="422.5,208.1 420.4,206.9 419.2,205.8 417.9,204.0" fill="none" stroke="#0b2a8a" stroke-width="1.2" stroke-linecap="round" stroke-linejoin="round"/><polyline points="438.5,207.0 438.2,210.0 436.5,213.0 438.7,216.0" fill="none" stroke="#0b2a8a" stroke-width="1.2" stroke-linecap="round" stroke-linejoin="round"/><polyline points="438.2,210.0 435.8,208.0 434.2,205.9 432.0,204.8" fill="none" stroke="#0b2a8a" stroke-width="1.2" stroke-linecap="round" stroke-linejoin="round"/><polyline points="436.5,213.0 439.1,211.7 441.7,209.3 443.8,207.9" fill="none" stroke="#0b2a8a" stroke-width="1.2" stroke-linecap="round" stroke-linejoin="round"/><polyline points="436.5,213.0 435.3,211.8 433.4,210.2 432.0,208.6" fill="none" stroke="#0b2a8a" stroke-width="1.2" stroke-linecap="round" stroke-linejoin="round"/><polyline points="438.2,210.0 440.9,207.0 443.4,204.4 447.5,200.8" fill="none" stroke="#0b2a8a" stroke-width="1.2" stroke-linecap="round" stroke-linejoin="round"/><polyline points="450.1,209.6 453.0,214.4 454.1,219.2 455.4,224.0" fill="none" stroke="#0b2a8a" stroke-width="1.2" stroke-linecap="round" stroke-linejoin="round"/><polyline points="454.1,219.2 455.7,217.9 458.1,216.2 460.2,214.1" fill="none" stroke="#0b2a8a" stroke-width="1.2" stroke-linecap="round" stroke-linejoin="round"/><polyline points="453.0,214.4 455.9,211.9 458.1,209.5 459.9,208.0" fill="none" stroke="#0b2a8a" stroke-width="1.2" stroke-linecap="round" stroke-linejoin="round"/><polyline points="464.7,211.6 463.5,215.0 465.3,218.5 462.3,221.9" fill="none" stroke="#0b2a8a" stroke-width="1.2" stroke-linecap="round" stroke-linejoin="round"/><polyline points="465.3,218.5 463.6,217.5 461.7,216.4 459.9,214.4" fill="none" stroke="#0b2a8a" stroke-width="1.2" stroke-linecap="round" stroke-linejoin="round"/><polyline points="465.3,218.5 469.7,215.6 473.5,212.0 476.6,207.8" fill="none" stroke="#0b2a8a" stroke-width="1.2" stroke-linecap="round" stroke-linejoin="round"/><polyline points="491.2,220.2 489.6,222.9 489.0,225.9 488.0,231.6 486.4,237.3" fill="none" stroke="#0b2a8a" stroke-width="1.2" stroke-linecap="round" stroke-linejoin="round"/><polyline points="488.0,231.6 492.3,229.5 496.6,225.7 500.9,223.5" fill="none" stroke="#0b2a8a" stroke-width="1.2" stroke-linecap="round" stroke-linejoin="round"/><polyline points="488.0,231.6 489.8,229.7 491.7,228.0 494.2,225.3" fill="none" stroke="#0b2a8a" stroke-width="1.2" stroke-linecap="round" stroke-linejoin="round"/><polyline points="489.0,225.9 492.5,223.5 495.1,221.0 498.2,218.7" fill="none" stroke="#0b2a8a" stroke-width="1.2" stroke-linecap="round" stroke-linejoin="round"/><polyline points="492.7,221.5 491.9,226.9 490.3,232.3 489.8,237.7" fill="none" stroke="#0b2a8a" stroke-width="1.2" stroke-linecap="round" stroke-linejoin="round"/><polyline points="490.3,232.3 487.4,230.2 485.2,227.9 483.6,225.6" fill="none" stroke="#0b2a8a" stroke-width="1.2" stroke-linecap="round" stroke-linejoin="round"/><polyline points="517.3,232.1 519.8,236.0 518.2,239.8 520.2,243.7" fill="none" stroke="#0b2a8a" stroke-width="1.2" stroke-linecap="round" stroke-linejoin="round"/><polyline points="519.8,236.0 516.6,234.0 514.6,231.1 512.5,228.2" fill="none" stroke="#0b2a8a" stroke-width="1.2" stroke-linecap="round" stroke-linejoin="round"/><polyline points="519.8,236.0 516.7,233.1 513.1,230.8 509.9,226.8" fill="none" stroke="#0b2a8a" stroke-width="1.2" stroke-linecap="round" stroke-linejoin="round"/><polyline points="518.2,239.8 520.7,237.6 524.1,235.3 526.8,233.4" fill="none" stroke="#0b2a8a" stroke-width="1.2" stroke-linecap="round" stroke-linejoin="round"/><polyline points="570.0,240.0 570.9,243.2 572.1,246.2 573.4,249.2 575.0,252.0 574.5,255.5 573.2,258.7 572.0,262.0" fill="none" stroke="#0b2a8a" stroke-width="1.5" stroke-linecap="round" stroke-linejoin="round"/><polyline points="640.0,245.0 642.3,248.0 643.7,251.5 645.0,255.0" fill="none" stroke="#0b2a8a" stroke-width="1.5" stroke-linecap="round" stroke-linejoin="round"/><polyline points="655.0,255.0 658.5,255.6 661.7,256.9 665.0,258.0 668.1,259.9 671.7,260.5 675.0,262.0" fill="none" stroke="#0b2a8a" stroke-width="1.5" stroke-linecap="round" stroke-linejoin="round"/></g><path d="M169.2,152.7 L169.4,150.0 L171.2,148.0 L173.6,146.3 L175.3,143.9 L176.6,141.3 L177.8,138.3 L180.0,135.9 L179.0,132.9 L178.0,129.9 L175.1,130.7 L172.1,130.9 L169.2,131.9 L166.2,132.9 L164.3,135.8 L161.2,136.6 L158.4,137.3 L155.8,135.9 L153.3,137.4 L151.8,139.9 L149.2,141.4 L146.2,142.0 L143.8,143.9 L140.2,144.4 L137.1,142.6 L134.4,139.9 L134.7,137.2 L135.8,134.6 L135.7,131.9 L134.7,129.3 L135.0,126.5 L137.0,124.2 L137.1,121.2 L138.4,118.5 L140.9,117.9 L142.4,115.8 L144.5,114.1 L146.8,113.4 L149.5,113.9 L151.8,113.1 L154.3,112.0 L155.2,109.3 L157.2,107.7 L154.5,108.4 L151.8,107.7 L149.1,105.1 L149.2,102.4 L148.5,99.6 L149.8,97.0 L152.0,95.5 L154.7,95.1 L157.2,94.3 L159.8,93.0 L162.5,91.7 L165.2,89.0 L167.2,87.5 L169.4,86.6 L171.9,86.3 L175.1,85.0 L178.6,85.0 L180.6,83.6 L182.4,81.9 L184.1,80.0 L186.7,79.6 L189.1,78.9 L190.8,77.0 L192.9,75.8 L194.7,74.2 L197.4,73.6 L198.7,75.8 L198.7,78.3 L199.7,80.9 L201.7,82.4 L204.1,83.6 L206.7,82.4 L209.5,83.0 L210.5,80.5 L212.1,78.3 L213.6,76.2 L214.6,73.8 L216.1,71.7 L216.2,68.9 L217.8,66.6 L220.3,64.9 L221.5,62.2 L224.0,60.5 L225.7,57.8 L228.2,56.1 L230.3,54.8 L232.8,53.8 L234.7,52.2 L236.3,50.1 L238.5,49.2 L240.8,48.5 L243.0,47.4 L245.4,45.6 L248.2,45.2 L251.2,45.6 L253.7,44.1 L256.1,43.6 L258.5,42.8 L261.0,43.4 L263.4,43.4 L265.8,42.7 L268.9,42.9 L272.0,42.0 L275.1,42.1 L277.8,42.0 L280.5,42.1 L283.2,40.8 L285.9,39.4 L288.8,38.9 L291.3,37.2 L293.9,36.0 L297.1,36.0 L300.2,36.4 L303.3,36.7 L306.3,36.6 L309.0,37.5 L311.3,39.4 L312.2,41.9 L313.0,44.4 L315.3,46.1 L317.2,48.3 L319.4,50.1 L320.3,52.4 L321.4,54.6 L321.3,57.2 L322.0,59.5 L322.9,62.3 L325.0,64.0 L327.2,65.7 L329.6,65.8 L332.0,66.5 L334.5,65.1 L336.9,65.7 L339.3,65.7 L340.1,68.4 L342.4,69.8 L344.1,71.7 L346.5,72.3 L349.1,72.6 L351.3,74.0 L353.5,75.6 L356.2,75.3 L358.4,73.8 L361.1,75.1 L363.6,74.7 L366.0,74.5 L368.4,73.7 L370.8,73.4 L373.1,72.3 L375.5,73.4 L377.8,74.5 L380.4,75.3 L382.7,76.5 L384.2,78.7 L382.8,81.5 L384.0,83.8 L385.3,86.0 L385.1,88.6 L386.9,90.4 L388.8,92.2 L390.8,93.8 L392.4,95.8 L394.9,96.5 L397.2,97.8 L399.5,99.0 L401.9,100.0 L404.4,100.7 L406.8,100.4 L409.1,99.1 L411.6,99.4 L414.0,99.0 L416.5,99.5 L418.2,101.4 L420.1,103.1 L422.8,103.1 L425.1,102.2 L427.6,101.3 L430.0,100.6 L432.0,98.6 L434.6,98.3 L437.0,99.1 L439.4,98.7 L441.9,97.3 L444.3,97.2 L446.7,98.3 L448.9,96.8 L451.6,98.1 L453.8,96.6 L456.2,95.9 L458.7,96.4 L461.1,97.0 L463.6,96.7 L466.1,96.4 L468.4,97.7 L470.7,99.2 L471.7,101.8 L474.0,103.3 L475.5,105.5 L476.8,107.9 L477.1,110.5 L478.5,112.7 L479.2,115.1 L477.7,117.8 L475.6,120.0 L472.9,120.1 L470.2,121.1 L467.5,120.3 L464.8,120.0 L463.1,121.9 L461.1,123.6 L458.8,124.6 L456.4,125.1 L453.8,123.6 L451.5,124.8 L451.1,127.2 L451.4,129.7 L450.3,132.0 L453.2,134.1 L456.3,135.7 L453.4,137.1 L452.2,140.5 L449.1,141.7 L451.3,143.6 L452.2,146.1 L452.7,148.9 L454.5,150.8 L457.4,151.3 L458.7,153.9 L461.1,155.0 L462.8,157.3 L465.1,159.1 L467.2,161.0 L468.3,163.3 L467.1,166.1 L468.0,168.4 L469.1,170.7 L469.6,173.1 L471.4,175.6 L471.7,178.8 L473.2,181.5 L472.2,184.6 L470.8,187.5 L473.5,188.9 L476.4,189.6 L478.9,191.4 L481.7,192.4 L484.2,193.0 L485.8,194.9 L486.8,197.6 L488.9,198.9 L491.3,199.6 L490.1,202.0 L489.1,204.4 L486.7,205.9 L486.0,208.5 L487.5,210.6 L489.3,212.7 L491.6,213.8 L494.7,213.1 L497.0,214.3 L498.8,216.3 L500.7,218.1 L503.0,219.0 L505.3,220.0 L508.0,220.4 L510.0,221.9 L512.2,223.3 L514.6,224.5 L517.0,225.6 L519.4,226.6 L522.0,226.8 L524.2,228.3 L526.5,229.1 L528.8,230.3 L531.3,230.8 L533.8,231.4 L536.3,230.3 L537.0,232.8 L539.2,234.1 L540.9,235.9 L542.7,237.5 L543.8,239.7 L546.4,238.0 L549.2,237.2 L552.3,237.5 L555.1,236.9 L557.5,235.6 L560.0,234.8 L562.6,234.1 L565.6,234.5 L568.2,233.2 L571.0,232.8 L573.8,232.2 L576.8,231.0 L579.8,229.9 L583.2,230.3 L585.4,229.2 L587.7,228.1 L590.3,228.2 L592.6,227.5 L595.5,229.3 L598.8,229.2 L602.0,229.4 L605.2,229.0 L608.2,230.9 L611.4,230.3 L614.3,230.5 L617.1,229.9 L619.9,229.9 L622.6,228.5 L625.3,229.5 L628.1,230.1 L631.1,229.5 L633.9,230.3 L636.9,231.7 L640.1,232.0 L643.3,231.3 L645.9,229.8 L649.0,230.5 L651.8,229.7 L654.5,228.5 L656.4,230.0 L658.2,231.7 L660.1,233.2 L661.1,235.5 L661.1,238.2 L662.9,240.2 L663.9,242.5 L663.8,245.2 L665.5,247.4 L665.8,250.0 L668.3,251.8 L671.4,251.9 L674.1,249.6 L675.2,246.3 L677.6,244.4 L680.3,242.7 L682.7,240.7 L685.8,240.7 L688.5,239.3 L691.1,237.8 L693.9,236.9 L694.6,234.1 L696.1,231.7 L697.7,229.4 L700.4,228.9 L702.4,226.8 L705.5,227.5 L707.5,225.2 L710.5,225.6 L712.7,223.8 L715.3,223.7 L717.6,225.5 L720.1,225.2 L722.7,225.1 L725.2,225.4 L727.7,225.7 L728.3,228.6 L729.4,231.4 L731.0,234.0 L731.5,236.9 L733.2,239.3 L733.7,242.2 L733.9,245.2 L735.7,247.5 L737.1,250.0 L738.9,252.0 L738.3,255.0 L739.4,257.2 L740.0,259.7 L742.4,261.5 L742.2,264.3 L744.6,266.1 L744.6,268.8 L748.3,278.2 L748.3,285.7 L744.6,287.6 L723.9,293.2 L686.4,301.7 L648.9,306.3 L611.4,308.2 L573.8,307.3 L536.3,304.5 L498.8,300.7 L479.0,296.4 L433.5,285.0 L387.9,271.3 L365.1,264.5 L360.5,257.6 L358.3,244.0 L360.5,232.6 L365.1,225.7 L367.4,216.6 L360.5,206.0 L351.0,206.0 L342.0,207.5 L334.0,209.5 L320.0,201.5 L308.0,196.0 L285.3,184.7 L251.2,169.9 L205.6,157.3 L169.2,152.7Z" fill="none" stroke="#111" stroke-width="1.5" stroke-linejoin="round"/><polyline points="360.5,204.0 361.7,201.3 363.6,199.0 365.0,196.5 367.2,194.4 369.8,192.6 372.0,190.5 374.7,189.7 377.1,187.9 380.0,187.5 382.7,186.8 385.3,188.0 388.0,187.5 390.8,188.4 393.5,189.5 396.0,191.0 398.9,190.8 401.3,189.3 404.0,188.5 406.8,187.1 409.0,185.0 410.9,187.1 412.6,189.4 415.0,191.1 416.5,193.5 418.8,194.7 421.1,196.0 423.6,196.5 426.0,197.5 428.3,198.7 430.7,199.5 433.4,199.6 435.5,201.4 438.0,202.0 441.0,205.5 444.5,205.1 448.0,204.5 450.6,204.7 453.1,204.9 455.4,206.5 458.0,206.5 460.4,206.4 462.8,206.6 465.2,206.7 467.6,206.4 470.0,206.0 472.4,206.7 474.8,206.1 477.2,206.7 479.6,206.3 482.0,206.5 486.0,208.5" fill="none" stroke="#000" stroke-width="3" stroke-linejoin="round"/></g>
<g transform="translate(-3.5,496)"><g clip-path="url(#clipInd)"><rect x="120" y="30" width="380" height="200" fill="#8a8585"/><polygon points="195.0,70.0 230.0,45.0 290.0,32.0 320.0,45.0 335.0,75.0 320.0,105.0 290.0,115.0 250.0,100.0 215.0,95.0" fill="#b0adad" filter="url(#blur12)"/><polygon points="128.0,150.0 130.0,110.0 150.0,92.0 175.0,84.0 200.0,84.0 220.0,96.0 215.0,115.0 195.0,135.0 165.0,160.0" fill="#bdbbbb" filter="url(#blur8)"/><polygon points="140.0,140.0 150.0,110.0 175.0,98.0 205.0,92.0 240.0,92.0 270.0,100.0 295.0,115.0 320.0,135.0 300.0,150.0 240.0,140.0 180.0,150.0" fill="#cfcdcd" filter="url(#blur8)"/><ellipse cx="298" cy="118" rx="15" ry="8" transform="rotate(35 298 118)" fill="#d6d4d4" filter="url(#blur5)"/><rect x="100" y="20" width="680" height="310" filter="url(#tex2)" opacity="0.5"/><g transform="rotate(28 400 150)"><rect x="0" y="-200" width="900" height="700" filter="url(#tex)" opacity="0.42"/></g><polygon points="160.0,162.0 166.0,136.0 180.0,124.0 198.0,114.0 222.0,110.0 250.0,112.0 276.0,121.0 301.0,135.0 329.0,150.0 354.0,166.0 370.0,180.0 380.0,192.0 372.0,220.0 330.0,230.0 250.0,200.0 160.0,175.0" fill="#ffffff" filter="url(#blur8)"/><polyline points="256.5,92.6 258.6,90.3 260.3,87.7 261.3,84.7 262.5,81.7 265.1,79.8 267.9,78.3 270.9,77.4 274.1,77.3 277.0,75.9 280.2,75.9 283.2,74.9 285.8,72.9 289.3,73.8 292.0,71.9 295.1,71.2 299.2,69.4 303.7,69.0 307.0,70.3 308.9,73.3 312.0,74.8 313.5,78.1 316.5,79.8" fill="none" stroke="#0b2a8a" stroke-width="3.6" stroke-linecap="round" stroke-linejoin="round"/><polyline points="295.1,71.2 296.6,74.2 297.8,77.4 298.4,80.8 299.4,84.0" fill="none" stroke="#0b2a8a" stroke-width="1.9" stroke-linecap="round" stroke-linejoin="round"/><polyline points="239.3,62.6 239.0,65.7 236.8,68.1 235.9,71.0 236.2,74.3 235.0,77.1 233.1,79.6 232.3,82.5 231.7,85.5 230.8,88.4 228.4,90.3 226.6,92.7 224.2,94.7 222.1,96.8 219.8,98.8 217.4,100.7 215.7,103.3 213.6,105.5 210.5,106.6 207.1,106.1 203.8,106.3 200.7,107.6 197.4,107.5 194.3,108.3 191.0,108.9 187.9,109.8 184.9,108.7 181.8,108.4 178.6,108.6 175.5,107.9 172.7,106.1 169.5,105.9 166.4,105.5 164.6,108.0 162.4,110.1 159.5,111.5 158.2,114.5 155.6,116.2 153.2,118.1 151.6,120.8 149.2,122.7" fill="none" stroke="#0b2a8a" stroke-width="1.9" stroke-linecap="round" stroke-linejoin="round"/><polyline points="269.4,109.8 272.6,110.5 275.2,112.5 277.8,114.4 280.5,116.1 283.6,117.1 286.9,117.8 289.6,119.4 292.2,121.3 295.1,122.7 297.7,124.3 300.2,126.1 302.5,128.1 304.1,130.8 306.9,132.2 308.7,134.8 311.0,136.9 314.0,138.1 315.9,140.4 318.8,141.8 320.8,144.1 323.7,145.4 326.4,146.9 328.9,148.9 331.9,150.0 334.0,152.6 336.8,154.1 339.9,154.9 342.3,157.0 344.9,158.6 347.3,160.5 349.0,163.3 351.4,165.2 354.5,166.2 356.4,168.6 358.7,170.7 361.3,172.3 363.7,174.2 366.4,175.7 368.3,178.3 371.5,179.0 373.1,182.1 375.7,183.7 378.3,185.3 380.9,187.0" fill="none" stroke="#0b2a8a" stroke-width="1.9" stroke-linecap="round" stroke-linejoin="round"/><polyline points="325.1,101.2 326.7,104.1 328.2,107.1 329.0,110.3 330.0,113.5 331.1,116.6 333.0,119.4 333.7,122.7 336.3,124.4 339.0,125.9 341.5,127.6 343.5,130.0 346.0,131.8 348.3,133.8 350.9,135.5 352.8,137.9 354.3,140.6 355.8,143.3 358.3,145.2 359.9,147.9 361.8,150.3 363.7,152.7 366.7,154.0 370.0,154.5 373.0,155.9 375.7,158.0 378.7,159.3 381.8,160.2 384.9,161.5 388.0,162.4 390.7,164.6 393.8,165.6 395.3,168.3 397.7,170.4 399.4,173.0 401.0,175.6 402.3,178.4" fill="none" stroke="#0b2a8a" stroke-width="1.9" stroke-linecap="round" stroke-linejoin="round"/><polyline points="312.3,131.3 314.5,133.5 316.0,136.1 317.6,138.7 319.8,140.9 321.4,143.5 323.9,145.4 325.8,147.8 327.3,150.5 329.4,152.7 331.4,155.1 333.7,157.1 336.2,158.8 339.1,160.1 341.0,162.6 343.9,163.9 346.2,166.0 348.2,168.3 350.4,170.4 353.2,171.9 355.2,174.2" fill="none" stroke="#0b2a8a" stroke-width="1.9" stroke-linecap="round" stroke-linejoin="round"/><polyline points="350.9,118.4 352.1,121.2 353.3,124.0 354.7,126.7 354.6,130.0 355.7,132.8 357.3,135.5" fill="none" stroke="#0b2a8a" stroke-width="1.9" stroke-linecap="round" stroke-linejoin="round"/><polyline points="200.0,70.0 200.6,73.1 202.6,75.8 202.5,79.2 203.3,82.2 205.0,85.0 206.9,87.7 207.8,90.7 209.0,93.7 210.4,96.5 211.1,99.7 212.0,102.7 213.6,105.5" fill="none" stroke="#0b2a8a" stroke-width="1.9" stroke-linecap="round" stroke-linejoin="round"/><polyline points="150.0,100.0 152.4,102.6 154.5,105.5 157.4,107.6 160.0,110.0 163.4,108.1 166.4,105.5" fill="none" stroke="#0b2a8a" stroke-width="1.9" stroke-linecap="round" stroke-linejoin="round"/><polyline points="280.0,95.0 281.7,98.3 283.0,101.8 285.0,105.0 288.0,108.2 290.0,112.0" fill="none" stroke="#0b2a8a" stroke-width="1.9" stroke-linecap="round" stroke-linejoin="round"/><polyline points="297.1,77.2 295.5,76.7 297.5,72.5" fill="none" stroke="#0b2a8a" stroke-width="1.2" stroke-linecap="round" stroke-linejoin="round"/><polyline points="298.2,80.3 299.1,82.0 301.5,84.5 303.9,87.2" fill="none" stroke="#0b2a8a" stroke-width="1.2" stroke-linecap="round" stroke-linejoin="round"/><polyline points="221.6,97.6 220.7,96.9 215.8,99.5" fill="none" stroke="#0b2a8a" stroke-width="1.2" stroke-linecap="round" stroke-linejoin="round"/><polyline points="232.8,82.5 233.7,80.2 237.1,78.8" fill="none" stroke="#0b2a8a" stroke-width="1.2" stroke-linecap="round" stroke-linejoin="round"/><polyline points="150.0,121.9 150.9,124.6 151.2,126.9" fill="none" stroke="#0b2a8a" stroke-width="1.2" stroke-linecap="round" stroke-linejoin="round"/><polyline points="232.2,84.2 232.0,88.2 229.1,88.2" fill="none" stroke="#0b2a8a" stroke-width="1.2" stroke-linecap="round" stroke-linejoin="round"/><polyline points="271.6,110.9 269.8,109.1 265.5,109.7" fill="none" stroke="#0b2a8a" stroke-width="1.2" stroke-linecap="round" stroke-linejoin="round"/><polyline points="357.9,169.6 358.0,171.1 360.4,176.3" fill="none" stroke="#0b2a8a" stroke-width="1.2" stroke-linecap="round" stroke-linejoin="round"/><polyline points="327.1,147.9 324.8,145.8 321.3,145.1" fill="none" stroke="#0b2a8a" stroke-width="1.2" stroke-linecap="round" stroke-linejoin="round"/><polyline points="320.2,143.6 323.4,142.1 328.1,143.3" fill="none" stroke="#0b2a8a" stroke-width="1.2" stroke-linecap="round" stroke-linejoin="round"/><polyline points="401.8,177.6 401.9,173.4 404.6,172.9" fill="none" stroke="#0b2a8a" stroke-width="1.2" stroke-linecap="round" stroke-linejoin="round"/><polyline points="397.0,170.4 399.7,168.6 404.1,168.4" fill="none" stroke="#0b2a8a" stroke-width="1.2" stroke-linecap="round" stroke-linejoin="round"/><polyline points="335.7,124.2 336.1,125.1 337.3,129.6" fill="none" stroke="#0b2a8a" stroke-width="1.2" stroke-linecap="round" stroke-linejoin="round"/><polyline points="327.4,107.0 331.8,103.2 332.4,101.8" fill="none" stroke="#0b2a8a" stroke-width="1.2" stroke-linecap="round" stroke-linejoin="round"/><polyline points="324.5,146.6 326.4,145.2 328.4,141.5" fill="none" stroke="#0b2a8a" stroke-width="1.2" stroke-linecap="round" stroke-linejoin="round"/><polyline points="351.6,171.2 355.2,172.2 358.0,170.4" fill="none" stroke="#0b2a8a" stroke-width="1.2" stroke-linecap="round" stroke-linejoin="round"/><polyline points="351.8,120.8 353.1,118.1 350.6,113.4" fill="none" stroke="#0b2a8a" stroke-width="1.2" stroke-linecap="round" stroke-linejoin="round"/><polyline points="354.0,126.8 353.6,122.0 355.3,120.6" fill="none" stroke="#0b2a8a" stroke-width="1.2" stroke-linecap="round" stroke-linejoin="round"/><polyline points="208.8,94.1 211.4,94.5 213.5,93.9" fill="none" stroke="#0b2a8a" stroke-width="1.2" stroke-linecap="round" stroke-linejoin="round"/><polyline points="203.9,81.8 208.6,80.7 211.8,79.1" fill="none" stroke="#0b2a8a" stroke-width="1.2" stroke-linecap="round" stroke-linejoin="round"/><polyline points="161.5,109.0 161.9,113.6 163.9,115.6" fill="none" stroke="#0b2a8a" stroke-width="1.2" stroke-linecap="round" stroke-linejoin="round"/><polyline points="160.9,109.4 164.7,113.9 166.5,114.9" fill="none" stroke="#0b2a8a" stroke-width="1.2" stroke-linecap="round" stroke-linejoin="round"/><polyline points="287.9,109.1 288.5,112.3 292.1,116.2" fill="none" stroke="#0b2a8a" stroke-width="1.2" stroke-linecap="round" stroke-linejoin="round"/><polyline points="281.2,97.5 284.6,95.0 284.9,94.1" fill="none" stroke="#0b2a8a" stroke-width="1.2" stroke-linecap="round" stroke-linejoin="round"/><polyline points="292.7,71.9 290.3,76.1 291.6,80.5" fill="none" stroke="#0b2a8a" stroke-width="1.2" stroke-linecap="round" stroke-linejoin="round"/><polyline points="297.3,70.6 298.0,74.1 299.7,78.3" fill="none" stroke="#0b2a8a" stroke-width="1.2" stroke-linecap="round" stroke-linejoin="round"/></g><g clip-path="url(#clipGan)"><rect x="350" y="180" width="410" height="140" fill="#928e8e"/><polygon points="350.0,185.0 430.0,190.0 480.0,205.0 490.0,220.0 470.0,238.0 400.0,240.0 350.0,235.0" fill="#b3b0b0" filter="url(#blur8)"/><polygon points="712.0,215.0 760.0,215.0 765.0,295.0 715.0,290.0 705.0,260.0" fill="#a9a6a6" filter="url(#blur8)"/><rect x="100" y="20" width="680" height="310" filter="url(#tex2)" opacity="0.5"/><g transform="rotate(-75 550 250)"><rect x="0" y="-200" width="900" height="700" filter="url(#tex)" opacity="0.5"/></g><polygon points="350.0,212.0 369.0,216.0 403.0,231.0 443.0,248.0 483.0,260.0 524.0,268.0 553.0,269.0 610.0,275.0 652.0,279.0 694.0,277.0 729.0,271.0 760.0,268.0 760.0,330.0 350.0,330.0" fill="#ffffff" filter="url(#blur8)"/><polyline points="389.5,195.6 391.1,198.5 392.1,201.6 393.4,204.7 395.0,207.6 395.6,210.9 397.3,213.8 398.1,217.0 401.3,216.5 404.5,216.0 407.7,215.3 411.0,215.5 414.2,214.4 417.4,214.1 420.7,214.0 423.8,212.8 422.3,210.0 421.5,206.8 419.4,204.3 417.4,201.7 416.2,198.7 415.2,195.6" fill="none" stroke="#0b2a8a" stroke-width="1.8" stroke-linecap="round" stroke-linejoin="round"/><polyline points="441.0,204.2 442.3,206.9 442.7,210.0 444.3,212.6 444.6,215.7 446.0,218.4 446.4,221.4 447.0,224.4 448.3,227.1 449.5,229.9" fill="none" stroke="#0b2a8a" stroke-width="1.8" stroke-linecap="round" stroke-linejoin="round"/><polyline points="466.7,225.6 467.4,228.6 468.5,231.4 469.5,234.2 470.6,237.1 471.1,240.1 472.6,242.8 473.5,245.6 473.9,248.7 475.3,251.4" fill="none" stroke="#0b2a8a" stroke-width="1.8" stroke-linecap="round" stroke-linejoin="round"/><polyline points="475.3,251.4 477.2,248.9 477.8,245.6 479.8,243.2 481.5,240.5 483.0,237.8 484.4,235.0 486.5,232.6 488.1,229.9 491.2,229.8 494.2,230.1 497.3,229.7 500.4,230.4 503.5,230.3 506.5,230.6 509.6,229.9" fill="none" stroke="#0b2a8a" stroke-width="1.8" stroke-linecap="round" stroke-linejoin="round"/><polyline points="488.1,251.4 489.7,248.7 492.8,247.5 495.1,245.5 496.7,242.8 498.9,240.7 501.0,238.5" fill="none" stroke="#0b2a8a" stroke-width="1.8" stroke-linecap="round" stroke-linejoin="round"/><polyline points="621.1,238.5 621.6,241.9 623.5,244.9 623.8,248.3 625.4,251.4" fill="none" stroke="#0b2a8a" stroke-width="1.8" stroke-linecap="round" stroke-linejoin="round"/><polyline points="586.8,272.8 589.9,274.0 592.7,275.8 595.9,276.8 599.1,277.7 602.4,278.4 605.4,279.9 608.3,281.4" fill="none" stroke="#0b2a8a" stroke-width="1.8" stroke-linecap="round" stroke-linejoin="round"/><polyline points="634.0,268.5 633.8,271.7 634.3,274.9 634.5,278.2 634.0,281.4" fill="none" stroke="#0b2a8a" stroke-width="1.8" stroke-linecap="round" stroke-linejoin="round"/><polyline points="552.5,242.8 553.7,245.7 554.3,248.8 555.0,251.8 555.6,254.9 556.8,257.8" fill="none" stroke="#0b2a8a" stroke-width="1.8" stroke-linecap="round" stroke-linejoin="round"/><polyline points="420.0,225.0 422.3,228.0 423.2,231.7 425.0,235.0 427.3,238.0 428.3,241.7 430.0,245.0" fill="none" stroke="#0b2a8a" stroke-width="1.8" stroke-linecap="round" stroke-linejoin="round"/><polyline points="530.0,245.0 532.1,248.1 533.0,251.8 535.0,255.0" fill="none" stroke="#0b2a8a" stroke-width="1.8" stroke-linecap="round" stroke-linejoin="round"/><polyline points="397.5,215.4 398.2,215.8 401.0,220.0" fill="none" stroke="#0b2a8a" stroke-width="1.2" stroke-linecap="round" stroke-linejoin="round"/><polyline points="390.4,197.7 387.3,199.3 384.0,197.4" fill="none" stroke="#0b2a8a" stroke-width="1.2" stroke-linecap="round" stroke-linejoin="round"/><polyline points="444.2,213.7 445.7,211.8 450.2,213.8" fill="none" stroke="#0b2a8a" stroke-width="1.2" stroke-linecap="round" stroke-linejoin="round"/><polyline points="448.1,225.7 448.3,223.6 451.8,224.6" fill="none" stroke="#0b2a8a" stroke-width="1.2" stroke-linecap="round" stroke-linejoin="round"/><polyline points="473.0,244.4 472.5,245.5 468.6,246.1" fill="none" stroke="#0b2a8a" stroke-width="1.2" stroke-linecap="round" stroke-linejoin="round"/><polyline points="468.1,229.8 465.5,234.2 465.6,236.1" fill="none" stroke="#0b2a8a" stroke-width="1.2" stroke-linecap="round" stroke-linejoin="round"/><polyline points="500.3,229.9 498.0,227.4 494.9,227.1" fill="none" stroke="#0b2a8a" stroke-width="1.2" stroke-linecap="round" stroke-linejoin="round"/><polyline points="489.8,229.9 487.3,228.0 486.5,224.5" fill="none" stroke="#0b2a8a" stroke-width="1.2" stroke-linecap="round" stroke-linejoin="round"/><polyline points="488.2,251.3 491.0,254.4 489.8,254.6" fill="none" stroke="#0b2a8a" stroke-width="1.2" stroke-linecap="round" stroke-linejoin="round"/><polyline points="496.6,242.9 498.2,242.3 500.7,244.1" fill="none" stroke="#0b2a8a" stroke-width="1.2" stroke-linecap="round" stroke-linejoin="round"/><polyline points="623.2,244.8 620.0,244.2 618.1,244.7" fill="none" stroke="#0b2a8a" stroke-width="1.2" stroke-linecap="round" stroke-linejoin="round"/><polyline points="625.2,250.8 627.1,248.8 628.8,246.7" fill="none" stroke="#0b2a8a" stroke-width="1.2" stroke-linecap="round" stroke-linejoin="round"/><polyline points="595.0,276.1 594.4,276.8 591.1,273.9" fill="none" stroke="#0b2a8a" stroke-width="1.2" stroke-linecap="round" stroke-linejoin="round"/><polyline points="599.8,278.0 599.6,274.5 602.2,273.0" fill="none" stroke="#0b2a8a" stroke-width="1.2" stroke-linecap="round" stroke-linejoin="round"/><polyline points="634.0,274.9 636.6,274.5 636.3,276.8" fill="none" stroke="#0b2a8a" stroke-width="1.2" stroke-linecap="round" stroke-linejoin="round"/><polyline points="634.0,278.5 631.9,281.4 630.6,280.5" fill="none" stroke="#0b2a8a" stroke-width="1.2" stroke-linecap="round" stroke-linejoin="round"/><polyline points="553.2,245.3 553.0,248.5 551.0,247.8" fill="none" stroke="#0b2a8a" stroke-width="1.2" stroke-linecap="round" stroke-linejoin="round"/><polyline points="553.1,244.7 553.1,242.3 551.6,241.0" fill="none" stroke="#0b2a8a" stroke-width="1.2" stroke-linecap="round" stroke-linejoin="round"/><polyline points="424.1,233.2 426.2,232.0 430.8,234.7" fill="none" stroke="#0b2a8a" stroke-width="1.2" stroke-linecap="round" stroke-linejoin="round"/><polyline points="423.4,231.7 422.1,228.8 423.8,227.3" fill="none" stroke="#0b2a8a" stroke-width="1.2" stroke-linecap="round" stroke-linejoin="round"/><polyline points="531.2,247.3 530.5,246.2 526.7,249.0" fill="none" stroke="#0b2a8a" stroke-width="1.2" stroke-linecap="round" stroke-linejoin="round"/><polyline points="530.1,245.2 533.0,244.6 534.1,247.0" fill="none" stroke="#0b2a8a" stroke-width="1.2" stroke-linecap="round" stroke-linejoin="round"/><rect x="375.8" y="203.4" width="1.4" height="1.4" fill="#0b2a8a"/><rect x="493.0" y="250.8" width="1.4" height="1.4" fill="#0b2a8a"/><rect x="414.7" y="205.4" width="1.4" height="1.4" fill="#0b2a8a"/><rect x="443.4" y="245.5" width="1.4" height="1.4" fill="#0b2a8a"/><rect x="417.4" y="233.6" width="1.4" height="1.4" fill="#0b2a8a"/><rect x="575.9" y="246.8" width="1.4" height="1.4" fill="#0b2a8a"/><rect x="537.0" y="260.7" width="1.4" height="1.4" fill="#0b2a8a"/><rect x="499.1" y="266.4" width="1.4" height="1.4" fill="#0b2a8a"/><rect x="400.7" y="200.5" width="1.4" height="1.4" fill="#0b2a8a"/><rect x="661.5" y="264.7" width="1.4" height="1.4" fill="#0b2a8a"/><rect x="433.1" y="222.8" width="1.4" height="1.4" fill="#0b2a8a"/><rect x="484.4" y="255.9" width="1.4" height="1.4" fill="#0b2a8a"/><rect x="436.8" y="220.4" width="1.4" height="1.4" fill="#0b2a8a"/><rect x="552.1" y="269.4" width="1.4" height="1.4" fill="#0b2a8a"/><rect x="665.8" y="293.1" width="1.4" height="1.4" fill="#0b2a8a"/><rect x="481.5" y="224.6" width="1.4" height="1.4" fill="#0b2a8a"/><rect x="629.6" y="279.4" width="1.4" height="1.4" fill="#0b2a8a"/><rect x="381.4" y="226.6" width="1.4" height="1.4" fill="#0b2a8a"/><rect x="639.5" y="268.0" width="1.4" height="1.4" fill="#0b2a8a"/><rect x="439.3" y="245.3" width="1.4" height="1.4" fill="#0b2a8a"/><rect x="596.8" y="247.0" width="1.4" height="1.4" fill="#0b2a8a"/><rect x="569.4" y="251.8" width="1.4" height="1.4" fill="#0b2a8a"/><rect x="384.8" y="211.2" width="1.4" height="1.4" fill="#0b2a8a"/><rect x="475.0" y="232.0" width="1.4" height="1.4" fill="#0b2a8a"/><rect x="571.2" y="276.2" width="1.4" height="1.4" fill="#0b2a8a"/><rect x="668.1" y="300.7" width="1.4" height="1.4" fill="#0b2a8a"/><rect x="678.0" y="285.7" width="1.4" height="1.4" fill="#0b2a8a"/><rect x="466.3" y="223.6" width="1.4" height="1.4" fill="#0b2a8a"/><rect x="564.1" y="266.1" width="1.4" height="1.4" fill="#0b2a8a"/><rect x="579.8" y="243.7" width="1.4" height="1.4" fill="#0b2a8a"/><rect x="431.4" y="246.4" width="1.4" height="1.4" fill="#0b2a8a"/><rect x="557.2" y="273.6" width="1.4" height="1.4" fill="#0b2a8a"/><rect x="401.5" y="215.2" width="1.4" height="1.4" fill="#0b2a8a"/><rect x="652.3" y="265.4" width="1.4" height="1.4" fill="#0b2a8a"/><rect x="677.4" y="262.4" width="1.4" height="1.4" fill="#0b2a8a"/><rect x="512.1" y="265.2" width="1.4" height="1.4" fill="#0b2a8a"/><rect x="509.0" y="262.7" width="1.4" height="1.4" fill="#0b2a8a"/><rect x="545.0" y="253.6" width="1.4" height="1.4" fill="#0b2a8a"/><rect x="402.5" y="238.3" width="1.4" height="1.4" fill="#0b2a8a"/><rect x="408.8" y="203.0" width="1.4" height="1.4" fill="#0b2a8a"/></g><path d="M169.2,152.7 L169.4,150.0 L171.2,148.0 L173.6,146.3 L175.3,143.9 L176.6,141.3 L177.8,138.3 L180.0,135.9 L179.0,132.9 L178.0,129.9 L175.1,130.7 L172.1,130.9 L169.2,131.9 L166.2,132.9 L164.3,135.8 L161.2,136.6 L158.4,137.3 L155.8,135.9 L153.3,137.4 L151.8,139.9 L149.2,141.4 L146.2,142.0 L143.8,143.9 L140.2,144.4 L137.1,142.6 L134.4,139.9 L134.7,137.2 L135.8,134.6 L135.7,131.9 L134.7,129.3 L135.0,126.5 L137.0,124.2 L137.1,121.2 L138.4,118.5 L140.9,117.9 L142.4,115.8 L144.5,114.1 L146.8,113.4 L149.5,113.9 L151.8,113.1 L154.3,112.0 L155.2,109.3 L157.2,107.7 L154.5,108.4 L151.8,107.7 L149.1,105.1 L149.2,102.4 L148.5,99.6 L149.8,97.0 L152.0,95.5 L154.7,95.1 L157.2,94.3 L159.8,93.0 L162.5,91.7 L165.2,89.0 L167.2,87.5 L169.4,86.6 L171.9,86.3 L175.1,85.0 L178.6,85.0 L180.6,83.6 L182.4,81.9 L184.1,80.0 L186.7,79.6 L189.1,78.9 L190.8,77.0 L192.9,75.8 L194.7,74.2 L197.4,73.6 L198.7,75.8 L198.7,78.3 L199.7,80.9 L201.7,82.4 L204.1,83.6 L206.7,82.4 L209.5,83.0 L210.5,80.5 L212.1,78.3 L213.6,76.2 L214.6,73.8 L216.1,71.7 L216.2,68.9 L217.8,66.6 L220.3,64.9 L221.5,62.2 L224.0,60.5 L225.7,57.8 L228.2,56.1 L230.3,54.8 L232.8,53.8 L234.7,52.2 L236.3,50.1 L238.5,49.2 L240.8,48.5 L243.0,47.4 L245.4,45.6 L248.2,45.2 L251.2,45.6 L253.7,44.1 L256.1,43.6 L258.5,42.8 L261.0,43.4 L263.4,43.4 L265.8,42.7 L268.9,42.9 L272.0,42.0 L275.1,42.1 L277.8,42.0 L280.5,42.1 L283.2,40.8 L285.9,39.4 L288.8,38.9 L291.3,37.2 L293.9,36.0 L297.1,36.0 L300.2,36.4 L303.3,36.7 L306.3,36.6 L309.0,37.5 L311.3,39.4 L312.2,41.9 L313.0,44.4 L315.3,46.1 L317.2,48.3 L319.4,50.1 L320.3,52.4 L321.4,54.6 L321.3,57.2 L322.0,59.5 L322.9,62.3 L325.0,64.0 L327.2,65.7 L329.6,65.8 L332.0,66.5 L334.5,65.1 L336.9,65.7 L339.3,65.7 L340.1,68.4 L342.4,69.8 L344.1,71.7 L346.5,72.3 L349.1,72.6 L351.3,74.0 L353.5,75.6 L356.2,75.3 L358.4,73.8 L361.1,75.1 L363.6,74.7 L366.0,74.5 L368.4,73.7 L370.8,73.4 L373.1,72.3 L375.5,73.4 L377.8,74.5 L380.4,75.3 L382.7,76.5 L384.2,78.7 L382.8,81.5 L384.0,83.8 L385.3,86.0 L385.1,88.6 L386.9,90.4 L388.8,92.2 L390.8,93.8 L392.4,95.8 L394.9,96.5 L397.2,97.8 L399.5,99.0 L401.9,100.0 L404.4,100.7 L406.8,100.4 L409.1,99.1 L411.6,99.4 L414.0,99.0 L416.5,99.5 L418.2,101.4 L420.1,103.1 L422.8,103.1 L425.1,102.2 L427.6,101.3 L430.0,100.6 L432.0,98.6 L434.6,98.3 L437.0,99.1 L439.4,98.7 L441.9,97.3 L444.3,97.2 L446.7,98.3 L448.9,96.8 L451.6,98.1 L453.8,96.6 L456.2,95.9 L458.7,96.4 L461.1,97.0 L463.6,96.7 L466.1,96.4 L468.4,97.7 L470.7,99.2 L471.7,101.8 L474.0,103.3 L475.5,105.5 L476.8,107.9 L477.1,110.5 L478.5,112.7 L479.2,115.1 L477.7,117.8 L475.6,120.0 L472.9,120.1 L470.2,121.1 L467.5,120.3 L464.8,120.0 L463.1,121.9 L461.1,123.6 L458.8,124.6 L456.4,125.1 L453.8,123.6 L451.5,124.8 L451.1,127.2 L451.4,129.7 L450.3,132.0 L453.2,134.1 L456.3,135.7 L453.4,137.1 L452.2,140.5 L449.1,141.7 L451.3,143.6 L452.2,146.1 L452.7,148.9 L454.5,150.8 L457.4,151.3 L458.7,153.9 L461.1,155.0 L462.8,157.3 L465.1,159.1 L467.2,161.0 L468.3,163.3 L467.1,166.1 L468.0,168.4 L469.1,170.7 L469.6,173.1 L471.4,175.6 L471.7,178.8 L473.2,181.5 L472.2,184.6 L470.8,187.5 L473.5,188.9 L476.4,189.6 L478.9,191.4 L481.7,192.4 L484.2,193.0 L485.8,194.9 L486.8,197.6 L488.9,198.9 L491.3,199.6 L490.1,202.0 L489.1,204.4 L486.7,205.9 L486.0,208.5 L487.5,210.6 L489.3,212.7 L491.6,213.8 L494.7,213.1 L497.0,214.3 L498.8,216.3 L500.7,218.1 L503.0,219.0 L505.3,220.0 L508.0,220.4 L510.0,221.9 L512.2,223.3 L514.6,224.5 L517.0,225.6 L519.4,226.6 L522.0,226.8 L524.2,228.3 L526.5,229.1 L528.8,230.3 L531.3,230.8 L533.8,231.4 L536.3,230.3 L537.0,232.8 L539.2,234.1 L540.9,235.9 L542.7,237.5 L543.8,239.7 L546.4,238.0 L549.2,237.2 L552.3,237.5 L555.1,236.9 L557.5,235.6 L560.0,234.8 L562.6,234.1 L565.6,234.5 L568.2,233.2 L571.0,232.8 L573.8,232.2 L576.8,231.0 L579.8,229.9 L583.2,230.3 L585.4,229.2 L587.7,228.1 L590.3,228.2 L592.6,227.5 L595.5,229.3 L598.8,229.2 L602.0,229.4 L605.2,229.0 L608.2,230.9 L611.4,230.3 L614.3,230.5 L617.1,229.9 L619.9,229.9 L622.6,228.5 L625.3,229.5 L628.1,230.1 L631.1,229.5 L633.9,230.3 L636.9,231.7 L640.1,232.0 L643.3,231.3 L645.9,229.8 L649.0,230.5 L651.8,229.7 L654.5,228.5 L656.4,230.0 L658.2,231.7 L660.1,233.2 L661.1,235.5 L661.1,238.2 L662.9,240.2 L663.9,242.5 L663.8,245.2 L665.5,247.4 L665.8,250.0 L668.3,251.8 L671.4,251.9 L674.1,249.6 L675.2,246.3 L677.6,244.4 L680.3,242.7 L682.7,240.7 L685.8,240.7 L688.5,239.3 L691.1,237.8 L693.9,236.9 L694.6,234.1 L696.1,231.7 L697.7,229.4 L700.4,228.9 L702.4,226.8 L705.5,227.5 L707.5,225.2 L710.5,225.6 L712.7,223.8 L715.3,223.7 L717.6,225.5 L720.1,225.2 L722.7,225.1 L725.2,225.4 L727.7,225.7 L728.3,228.6 L729.4,231.4 L731.0,234.0 L731.5,236.9 L733.2,239.3 L733.7,242.2 L733.9,245.2 L735.7,247.5 L737.1,250.0 L738.9,252.0 L738.3,255.0 L739.4,257.2 L740.0,259.7 L742.4,261.5 L742.2,264.3 L744.6,266.1 L744.6,268.8 L748.3,278.2 L748.3,285.7 L744.6,287.6 L723.9,293.2 L686.4,301.7 L648.9,306.3 L611.4,308.2 L573.8,307.3 L536.3,304.5 L498.8,300.7 L479.0,296.4 L433.5,285.0 L387.9,271.3 L365.1,264.5 L360.5,257.6 L358.3,244.0 L360.5,232.6 L365.1,225.7 L367.4,216.6 L360.5,206.0 L351.0,206.0 L342.0,207.5 L334.0,209.5 L320.0,201.5 L308.0,196.0 L285.3,184.7 L251.2,169.9 L205.6,157.3 L169.2,152.7Z" fill="none" stroke="#111" stroke-width="1.5" stroke-linejoin="round"/><polyline points="360.5,204.0 361.7,201.3 363.6,199.0 365.0,196.5 367.2,194.4 369.8,192.6 372.0,190.5 374.7,189.7 377.1,187.9 380.0,187.5 382.7,186.8 385.3,188.0 388.0,187.5 390.8,188.4 393.5,189.5 396.0,191.0 398.9,190.8 401.3,189.3 404.0,188.5 406.8,187.1 409.0,185.0 410.9,187.1 412.6,189.4 415.0,191.1 416.5,193.5 418.8,194.7 421.1,196.0 423.6,196.5 426.0,197.5 428.3,198.7 430.7,199.5 433.4,199.6 435.5,201.4 438.0,202.0 441.0,205.5 444.5,205.1 448.0,204.5 450.6,204.7 453.1,204.9 455.4,206.5 458.0,206.5 460.4,206.4 462.8,206.6 465.2,206.7 467.6,206.4 470.0,206.0 472.4,206.7 474.8,206.1 477.2,206.7 479.6,206.3 482.0,206.5 486.0,208.5" fill="none" stroke="#000" stroke-width="3" stroke-linejoin="round"/></g>
<g transform="translate(728.4,47.8)"><g clip-path="url(#clipInd)"><rect x="120" y="30" width="380" height="200" fill="#8a8585"/><polygon points="195.0,70.0 230.0,45.0 290.0,32.0 320.0,45.0 335.0,75.0 320.0,105.0 290.0,115.0 250.0,100.0 215.0,95.0" fill="#b0adad" filter="url(#blur12)"/><polygon points="128.0,150.0 130.0,110.0 150.0,92.0 175.0,84.0 200.0,84.0 220.0,96.0 215.0,115.0 195.0,135.0 165.0,160.0" fill="#bdbbbb" filter="url(#blur8)"/><polygon points="140.0,140.0 150.0,110.0 175.0,98.0 205.0,92.0 240.0,92.0 270.0,100.0 295.0,115.0 320.0,135.0 300.0,150.0 240.0,140.0 180.0,150.0" fill="#cfcdcd" filter="url(#blur8)"/><ellipse cx="298" cy="118" rx="15" ry="8" transform="rotate(35 298 118)" fill="#d6d4d4" filter="url(#blur5)"/><rect x="100" y="20" width="680" height="310" filter="url(#tex2)" opacity="0.5"/><g transform="rotate(28 400 150)"><rect x="0" y="-200" width="900" height="700" filter="url(#tex)" opacity="0.42"/></g><polygon points="160.0,162.0 166.0,136.0 180.0,124.0 198.0,114.0 222.0,110.0 250.0,112.0 276.0,121.0 301.0,135.0 329.0,150.0 354.0,166.0 370.0,180.0 380.0,192.0 372.0,220.0 330.0,230.0 250.0,200.0 160.0,175.0" fill="#ffffff" filter="url(#blur8)"/><polyline points="265.0,100.0 265.8,103.0 267.1,105.8 267.2,109.0 268.0,112.0 269.1,115.2 269.7,118.6 270.4,121.9 272.0,125.0 271.9,128.4 272.7,131.7 275.0,134.6 275.0,138.0" fill="none" stroke="#0b2a8a" stroke-width="2.0" stroke-linecap="round" stroke-linejoin="round"/><polyline points="288.0,138.0 291.5,136.0 295.0,134.0 297.6,136.9 300.0,140.0 301.2,143.0 303.7,145.1 305.0,148.0 308.1,150.0 311.9,150.1 315.0,152.0" fill="none" stroke="#0b2a8a" stroke-width="2.0" stroke-linecap="round" stroke-linejoin="round"/><polyline points="320.0,146.0 323.6,147.5 326.9,149.6 330.0,152.0 332.9,154.5 335.0,157.7 338.0,160.0" fill="none" stroke="#0b2a8a" stroke-width="2.0" stroke-linecap="round" stroke-linejoin="round"/><polyline points="330.0,160.0 332.6,161.8 334.9,164.1 337.1,166.5 340.0,168.0 343.2,168.3 346.0,170.0 348.9,171.2 352.0,172.0 355.2,173.7 358.9,174.0 362.0,176.0 365.1,177.8 368.0,180.0" fill="none" stroke="#0b2a8a" stroke-width="2.0" stroke-linecap="round" stroke-linejoin="round"/><polyline points="300.0,150.0 297.5,151.8 295.7,154.5 293.0,156.0" fill="none" stroke="#0b2a8a" stroke-width="2.0" stroke-linecap="round" stroke-linejoin="round"/><polyline points="282.0,112.0 284.3,115.7 285.0,120.0" fill="none" stroke="#0b2a8a" stroke-width="2.0" stroke-linecap="round" stroke-linejoin="round"/><polyline points="345.0,150.0 346.2,152.9 348.9,155.0 350.0,158.0 352.5,161.5 355.0,165.0" fill="none" stroke="#0b2a8a" stroke-width="2.0" stroke-linecap="round" stroke-linejoin="round"/></g><g clip-path="url(#clipGan)"><rect x="350" y="180" width="410" height="140" fill="#928e8e"/><polygon points="350.0,185.0 430.0,190.0 480.0,205.0 490.0,220.0 470.0,238.0 400.0,240.0 350.0,235.0" fill="#b3b0b0" filter="url(#blur8)"/><polygon points="712.0,215.0 760.0,215.0 765.0,295.0 715.0,290.0 705.0,260.0" fill="#a9a6a6" filter="url(#blur8)"/><rect x="100" y="20" width="680" height="310" filter="url(#tex2)" opacity="0.5"/><g transform="rotate(-75 550 250)"><rect x="0" y="-200" width="900" height="700" filter="url(#tex)" opacity="0.5"/></g><polygon points="350.0,212.0 369.0,216.0 403.0,231.0 443.0,248.0 483.0,260.0 524.0,268.0 553.0,269.0 610.0,275.0 652.0,279.0 694.0,277.0 729.0,271.0 760.0,268.0 760.0,330.0 350.0,330.0" fill="#ffffff" filter="url(#blur8)"/><polyline points="375.4,192.7 374.1,195.5 372.3,198.1 371.9,203.5 370.2,208.8 372.0,214.2 370.7,217.0 369.1,219.6 368.6,225.0" fill="none" stroke="#0b2a8a" stroke-width="1.6" stroke-linecap="round" stroke-linejoin="round"/><polyline points="370.2,208.8 374.0,206.6 378.1,204.8 381.5,202.5" fill="none" stroke="#0b2a8a" stroke-width="1.6" stroke-linecap="round" stroke-linejoin="round"/><polyline points="370.2,208.8 368.6,206.8 366.2,204.7 364.5,202.6" fill="none" stroke="#0b2a8a" stroke-width="1.6" stroke-linecap="round" stroke-linejoin="round"/><polyline points="391.2,193.5 389.7,196.2 389.1,199.2 389.8,202.2 391.2,204.9 393.0,210.6 393.2,216.3 392.2,222.0" fill="none" stroke="#0b2a8a" stroke-width="1.6" stroke-linecap="round" stroke-linejoin="round"/><polyline points="393.0,210.6 396.3,207.9 399.8,205.1 402.3,202.6" fill="none" stroke="#0b2a8a" stroke-width="1.6" stroke-linecap="round" stroke-linejoin="round"/><polyline points="389.1,199.2 387.4,198.0 385.7,196.6 384.3,194.7" fill="none" stroke="#0b2a8a" stroke-width="1.6" stroke-linecap="round" stroke-linejoin="round"/><polyline points="403.5,193.7 402.4,199.2 403.3,204.6 402.0,210.1 402.0,215.5 403.6,221.0" fill="none" stroke="#0b2a8a" stroke-width="1.6" stroke-linecap="round" stroke-linejoin="round"/><polyline points="402.4,199.2 399.9,196.3 396.2,194.4 392.3,192.2" fill="none" stroke="#0b2a8a" stroke-width="1.6" stroke-linecap="round" stroke-linejoin="round"/><polyline points="402.4,199.2 400.8,196.5 398.9,194.2 396.9,192.5" fill="none" stroke="#0b2a8a" stroke-width="1.6" stroke-linecap="round" stroke-linejoin="round"/><polyline points="402.0,210.1 399.1,206.4 395.7,202.9 393.0,200.8" fill="none" stroke="#0b2a8a" stroke-width="1.6" stroke-linecap="round" stroke-linejoin="round"/><polyline points="402.0,215.5 403.6,213.4 405.2,212.4 406.5,211.2" fill="none" stroke="#0b2a8a" stroke-width="1.6" stroke-linecap="round" stroke-linejoin="round"/><polyline points="426.3,202.5 425.2,205.3 424.7,208.4 425.2,211.5 426.7,214.3 425.2,217.1 424.7,220.2 423.2,223.0 422.4,226.1 423.6,228.9 423.5,232.0" fill="none" stroke="#0b2a8a" stroke-width="1.6" stroke-linecap="round" stroke-linejoin="round"/><polyline points="426.7,214.3 423.9,212.2 422.1,209.3 419.8,206.1" fill="none" stroke="#0b2a8a" stroke-width="1.6" stroke-linecap="round" stroke-linejoin="round"/><polyline points="438.7,206.9 436.3,212.3 435.7,217.8 434.3,223.2 436.1,228.7 437.7,234.1" fill="none" stroke="#0b2a8a" stroke-width="1.6" stroke-linecap="round" stroke-linejoin="round"/><polyline points="436.1,228.7 434.8,227.5 433.6,226.4 431.6,225.4" fill="none" stroke="#0b2a8a" stroke-width="1.6" stroke-linecap="round" stroke-linejoin="round"/><polyline points="436.3,212.3 439.8,210.1 443.2,207.4 446.5,204.6" fill="none" stroke="#0b2a8a" stroke-width="1.6" stroke-linecap="round" stroke-linejoin="round"/><polyline points="436.1,228.7 437.5,226.7 439.7,224.7 441.2,223.1" fill="none" stroke="#0b2a8a" stroke-width="1.6" stroke-linecap="round" stroke-linejoin="round"/><polyline points="434.3,223.2 437.2,220.6 439.4,217.5 442.8,215.9" fill="none" stroke="#0b2a8a" stroke-width="1.6" stroke-linecap="round" stroke-linejoin="round"/><polyline points="457.7,214.3 458.1,219.9 459.3,225.6 457.9,231.2 459.5,236.8 461.2,242.4 462.0,248.1 461.7,253.7" fill="none" stroke="#0b2a8a" stroke-width="1.6" stroke-linecap="round" stroke-linejoin="round"/><polyline points="459.5,236.8 462.4,234.9 466.8,232.9 471.1,230.8" fill="none" stroke="#0b2a8a" stroke-width="1.6" stroke-linecap="round" stroke-linejoin="round"/><polyline points="469.7,213.0 468.8,218.6 470.3,224.2 470.0,229.8 471.2,232.6 472.6,235.4 474.6,241.0 475.0,246.6 475.8,252.2 474.0,257.8" fill="none" stroke="#0b2a8a" stroke-width="1.6" stroke-linecap="round" stroke-linejoin="round"/><polyline points="468.8,218.6 465.7,216.1 463.8,214.1 460.8,211.8" fill="none" stroke="#0b2a8a" stroke-width="1.6" stroke-linecap="round" stroke-linejoin="round"/><polyline points="472.6,213.8 473.1,219.3 472.3,224.7 474.3,227.2 475.5,230.2 475.6,235.6 477.7,241.0 480.2,246.5 480.4,251.9 479.0,257.4" fill="none" stroke="#0b2a8a" stroke-width="1.6" stroke-linecap="round" stroke-linejoin="round"/><polyline points="477.7,241.0 480.1,238.1 483.2,236.6 486.4,234.8" fill="none" stroke="#0b2a8a" stroke-width="1.6" stroke-linecap="round" stroke-linejoin="round"/><polyline points="491.1,220.7 489.2,226.2 490.0,231.7 489.0,237.2 490.6,242.7 489.2,248.2 491.3,253.7" fill="none" stroke="#0b2a8a" stroke-width="1.6" stroke-linecap="round" stroke-linejoin="round"/><polyline points="489.2,226.2 487.9,224.9 486.4,223.3 484.9,222.4" fill="none" stroke="#0b2a8a" stroke-width="1.6" stroke-linecap="round" stroke-linejoin="round"/><polyline points="490.0,231.7 493.0,228.2 497.4,225.0 501.0,221.9" fill="none" stroke="#0b2a8a" stroke-width="1.6" stroke-linecap="round" stroke-linejoin="round"/><polyline points="505.6,227.6 506.3,233.3 506.7,239.0 508.0,244.7 508.2,250.4 507.6,256.1 508.8,261.8" fill="none" stroke="#0b2a8a" stroke-width="1.6" stroke-linecap="round" stroke-linejoin="round"/><polyline points="508.0,244.7 505.5,242.3 502.8,240.5 499.7,238.8" fill="none" stroke="#0b2a8a" stroke-width="1.6" stroke-linecap="round" stroke-linejoin="round"/><polyline points="508.0,244.7 506.2,242.8 504.7,241.4 503.4,239.5" fill="none" stroke="#0b2a8a" stroke-width="1.6" stroke-linecap="round" stroke-linejoin="round"/><polyline points="507.6,256.1 504.6,254.5 502.2,251.6 500.3,249.8" fill="none" stroke="#0b2a8a" stroke-width="1.6" stroke-linecap="round" stroke-linejoin="round"/><polyline points="529.6,236.8 532.4,242.1 530.9,247.4 532.1,252.7 533.3,258.0 535.0,263.3 536.0,268.6 538.1,274.0 537.5,279.3 540.1,284.6" fill="none" stroke="#0b2a8a" stroke-width="1.6" stroke-linecap="round" stroke-linejoin="round"/><polyline points="538.1,274.0 534.2,271.4 531.5,268.8 527.8,264.6" fill="none" stroke="#0b2a8a" stroke-width="1.6" stroke-linecap="round" stroke-linejoin="round"/><polyline points="542.7,242.5 541.9,247.9 540.0,250.3 539.1,253.3 537.2,258.7 537.1,264.1 537.7,269.5 537.9,274.9" fill="none" stroke="#0b2a8a" stroke-width="1.6" stroke-linecap="round" stroke-linejoin="round"/><polyline points="537.2,258.7 541.0,256.4 543.5,252.2 546.1,250.5 548.1,248.1" fill="none" stroke="#0b2a8a" stroke-width="1.6" stroke-linecap="round" stroke-linejoin="round"/><polyline points="537.7,269.5 541.7,266.5 545.4,263.6 549.1,261.5" fill="none" stroke="#0b2a8a" stroke-width="1.6" stroke-linecap="round" stroke-linejoin="round"/><polyline points="539.1,253.3 536.4,251.9 533.8,249.8 531.6,247.2" fill="none" stroke="#0b2a8a" stroke-width="1.6" stroke-linecap="round" stroke-linejoin="round"/><polyline points="547.9,243.2 549.7,248.4 547.1,253.6 545.5,258.8 546.9,264.1 547.2,269.3" fill="none" stroke="#0b2a8a" stroke-width="1.6" stroke-linecap="round" stroke-linejoin="round"/><polyline points="547.1,253.6 543.4,250.3 540.1,247.7 536.8,244.7" fill="none" stroke="#0b2a8a" stroke-width="1.6" stroke-linecap="round" stroke-linejoin="round"/><polyline points="566.4,239.6 564.2,244.8 562.6,250.0 564.4,255.2 563.2,260.4 562.6,265.6" fill="none" stroke="#0b2a8a" stroke-width="1.6" stroke-linecap="round" stroke-linejoin="round"/><polyline points="564.4,255.2 566.4,253.4 567.9,250.9 569.4,248.3" fill="none" stroke="#0b2a8a" stroke-width="1.6" stroke-linecap="round" stroke-linejoin="round"/><polyline points="562.6,250.0 560.3,248.0 558.8,246.3 557.0,244.4" fill="none" stroke="#0b2a8a" stroke-width="1.6" stroke-linecap="round" stroke-linejoin="round"/><polyline points="562.6,250.0 566.6,245.8 571.3,242.9 575.7,238.9" fill="none" stroke="#0b2a8a" stroke-width="1.6" stroke-linecap="round" stroke-linejoin="round"/><polyline points="581.3,233.6 581.7,239.1 583.4,244.5 583.6,249.9 581.8,252.5 580.9,255.4 581.3,260.8 579.7,266.3 581.2,271.7" fill="none" stroke="#0b2a8a" stroke-width="1.6" stroke-linecap="round" stroke-linejoin="round"/><polyline points="579.7,266.3 582.8,262.8 586.6,260.8 589.2,258.4" fill="none" stroke="#0b2a8a" stroke-width="1.6" stroke-linecap="round" stroke-linejoin="round"/><polyline points="581.7,239.1 578.9,235.7 576.4,234.0 573.2,231.5" fill="none" stroke="#0b2a8a" stroke-width="1.6" stroke-linecap="round" stroke-linejoin="round"/><polyline points="581.3,260.8 579.5,259.6 577.8,258.6 576.4,257.2" fill="none" stroke="#0b2a8a" stroke-width="1.6" stroke-linecap="round" stroke-linejoin="round"/><polyline points="599.9,236.4 601.1,241.9 602.3,247.3 600.4,252.8 602.1,258.3 600.3,263.8 600.8,269.3 599.6,274.7 599.4,280.2" fill="none" stroke="#0b2a8a" stroke-width="1.6" stroke-linecap="round" stroke-linejoin="round"/><polyline points="600.8,269.3 603.6,266.6 607.0,264.8 610.0,260.9" fill="none" stroke="#0b2a8a" stroke-width="1.6" stroke-linecap="round" stroke-linejoin="round"/><polyline points="612.4,237.7 613.0,240.7 613.8,243.6 614.0,249.6 613.6,252.6 612.8,255.5 612.1,258.6 610.9,261.5 611.5,264.7 613.3,267.4" fill="none" stroke="#0b2a8a" stroke-width="1.6" stroke-linecap="round" stroke-linejoin="round"/><polyline points="612.8,255.5 615.7,252.5 619.5,250.2 622.8,247.9" fill="none" stroke="#0b2a8a" stroke-width="1.6" stroke-linecap="round" stroke-linejoin="round"/><polyline points="613.8,243.6 611.3,241.3 608.8,239.0 606.7,236.2" fill="none" stroke="#0b2a8a" stroke-width="1.6" stroke-linecap="round" stroke-linejoin="round"/><polyline points="614.0,249.6 610.2,247.4 607.7,244.5 604.3,241.6" fill="none" stroke="#0b2a8a" stroke-width="1.6" stroke-linecap="round" stroke-linejoin="round"/><polyline points="616.0,236.0 617.3,241.4 615.0,246.9 616.9,252.4 615.5,257.8 615.4,263.3" fill="none" stroke="#0b2a8a" stroke-width="1.6" stroke-linecap="round" stroke-linejoin="round"/><polyline points="615.0,246.9 611.1,243.6 607.8,240.5 604.3,237.6" fill="none" stroke="#0b2a8a" stroke-width="1.6" stroke-linecap="round" stroke-linejoin="round"/><polyline points="634.0,236.3 633.1,241.8 635.1,247.3 633.7,252.8 632.2,258.3 631.3,263.8 632.3,266.8 634.3,269.2 636.2,271.7 637.2,274.7" fill="none" stroke="#0b2a8a" stroke-width="1.6" stroke-linecap="round" stroke-linejoin="round"/><polyline points="634.3,269.2 637.6,265.9 639.8,263.9 642.0,261.3" fill="none" stroke="#0b2a8a" stroke-width="1.6" stroke-linecap="round" stroke-linejoin="round"/><polyline points="631.3,263.8 633.7,261.0 636.9,258.2 638.7,256.5" fill="none" stroke="#0b2a8a" stroke-width="1.6" stroke-linecap="round" stroke-linejoin="round"/><polyline points="635.1,247.3 637.2,245.9 639.4,244.4 641.2,242.3" fill="none" stroke="#0b2a8a" stroke-width="1.6" stroke-linecap="round" stroke-linejoin="round"/><polyline points="658.1,235.6 655.4,240.8 653.7,245.9 653.8,251.1 652.2,256.3 651.6,261.5 653.1,266.6" fill="none" stroke="#0b2a8a" stroke-width="1.6" stroke-linecap="round" stroke-linejoin="round"/><polyline points="653.8,251.1 656.3,249.3 658.0,248.3 660.0,246.7" fill="none" stroke="#0b2a8a" stroke-width="1.6" stroke-linecap="round" stroke-linejoin="round"/><polyline points="652.2,256.3 650.7,254.7 648.5,253.1 646.2,251.6" fill="none" stroke="#0b2a8a" stroke-width="1.6" stroke-linecap="round" stroke-linejoin="round"/><polyline points="661.5,244.7 659.5,250.1 659.5,255.5 661.4,260.9 660.0,266.2 658.0,271.6 656.8,277.0 656.1,282.3" fill="none" stroke="#0b2a8a" stroke-width="1.6" stroke-linecap="round" stroke-linejoin="round"/><polyline points="660.0,266.2 662.4,263.5 665.8,260.5 668.7,258.1" fill="none" stroke="#0b2a8a" stroke-width="1.6" stroke-linecap="round" stroke-linejoin="round"/><polyline points="678.2,250.0 677.6,255.2 679.5,260.5 678.1,265.7 678.0,270.9 676.1,276.2 678.1,281.4 678.7,286.6 681.2,291.9 679.5,297.1" fill="none" stroke="#0b2a8a" stroke-width="1.6" stroke-linecap="round" stroke-linejoin="round"/><polyline points="678.1,265.7 675.7,262.6 672.7,261.0 669.5,259.3" fill="none" stroke="#0b2a8a" stroke-width="1.6" stroke-linecap="round" stroke-linejoin="round"/><polyline points="690.1,244.5 689.5,250.4 689.4,253.5 688.0,256.3 688.5,262.3 689.2,265.3 690.3,268.2 691.4,271.1 691.8,274.2" fill="none" stroke="#0b2a8a" stroke-width="1.6" stroke-linecap="round" stroke-linejoin="round"/><polyline points="688.5,262.3 689.9,260.8 691.9,259.5 693.2,257.9" fill="none" stroke="#0b2a8a" stroke-width="1.6" stroke-linecap="round" stroke-linejoin="round"/><polyline points="690.3,268.2 687.7,265.7 685.2,264.3 682.5,261.8" fill="none" stroke="#0b2a8a" stroke-width="1.6" stroke-linecap="round" stroke-linejoin="round"/><polyline points="689.5,250.4 685.1,247.4 681.7,245.4 678.3,242.7" fill="none" stroke="#0b2a8a" stroke-width="1.6" stroke-linecap="round" stroke-linejoin="round"/><polyline points="704.4,231.2 702.5,236.2 702.5,241.2 701.0,246.2 699.3,251.2 700.9,256.2 700.3,261.2 699.8,266.2 699.0,271.2" fill="none" stroke="#0b2a8a" stroke-width="1.6" stroke-linecap="round" stroke-linejoin="round"/><polyline points="700.9,256.2 698.0,253.6 696.1,252.1 693.8,249.4" fill="none" stroke="#0b2a8a" stroke-width="1.6" stroke-linecap="round" stroke-linejoin="round"/><polyline points="727.4,231.6 727.6,236.9 726.4,242.1 727.1,247.3 725.5,252.5 725.4,257.8 726.2,263.0 726.5,268.2 726.9,273.5 727.3,278.7" fill="none" stroke="#0b2a8a" stroke-width="1.6" stroke-linecap="round" stroke-linejoin="round"/><polyline points="725.5,252.5 729.4,248.9 734.0,245.9 737.1,243.2" fill="none" stroke="#0b2a8a" stroke-width="1.6" stroke-linecap="round" stroke-linejoin="round"/><polyline points="726.2,263.0 730.0,260.0 733.5,257.6 737.6,255.4" fill="none" stroke="#0b2a8a" stroke-width="1.6" stroke-linecap="round" stroke-linejoin="round"/><polyline points="732.0,241.8 729.5,246.9 731.5,251.9 728.6,256.9 725.6,262.0 726.9,267.0 723.9,272.1 724.2,277.1 724.0,282.1 722.1,287.2" fill="none" stroke="#0b2a8a" stroke-width="1.6" stroke-linecap="round" stroke-linejoin="round"/><polyline points="725.6,262.0 728.9,259.5 732.3,255.8 735.3,253.6" fill="none" stroke="#0b2a8a" stroke-width="1.6" stroke-linecap="round" stroke-linejoin="round"/><polyline points="729.5,246.9 727.7,245.3 726.3,243.4 725.0,242.1" fill="none" stroke="#0b2a8a" stroke-width="1.6" stroke-linecap="round" stroke-linejoin="round"/><rect x="514.1" y="255.8" width="1.4" height="1.4" fill="#0b2a8a"/><rect x="433.9" y="265.7" width="1.4" height="1.4" fill="#0b2a8a"/><rect x="587.6" y="282.7" width="1.4" height="1.4" fill="#0b2a8a"/><rect x="578.3" y="269.6" width="1.4" height="1.4" fill="#0b2a8a"/><rect x="644.9" y="279.2" width="1.4" height="1.4" fill="#0b2a8a"/><rect x="663.4" y="296.0" width="1.4" height="1.4" fill="#0b2a8a"/><rect x="685.1" y="282.7" width="1.4" height="1.4" fill="#0b2a8a"/><rect x="429.8" y="226.7" width="1.4" height="1.4" fill="#0b2a8a"/><rect x="641.7" y="260.0" width="1.4" height="1.4" fill="#0b2a8a"/><rect x="616.2" y="281.1" width="1.4" height="1.4" fill="#0b2a8a"/><rect x="394.2" y="249.1" width="1.4" height="1.4" fill="#0b2a8a"/><rect x="384.3" y="250.9" width="1.4" height="1.4" fill="#0b2a8a"/><rect x="685.7" y="271.5" width="1.4" height="1.4" fill="#0b2a8a"/><rect x="642.9" y="288.0" width="1.4" height="1.4" fill="#0b2a8a"/><rect x="418.6" y="248.1" width="1.4" height="1.4" fill="#0b2a8a"/><rect x="418.2" y="260.0" width="1.4" height="1.4" fill="#0b2a8a"/><rect x="628.9" y="298.9" width="1.4" height="1.4" fill="#0b2a8a"/><rect x="392.0" y="224.8" width="1.4" height="1.4" fill="#0b2a8a"/><rect x="603.2" y="279.7" width="1.4" height="1.4" fill="#0b2a8a"/><rect x="439.9" y="268.6" width="1.4" height="1.4" fill="#0b2a8a"/><rect x="687.8" y="274.8" width="1.4" height="1.4" fill="#0b2a8a"/><rect x="426.4" y="251.1" width="1.4" height="1.4" fill="#0b2a8a"/><rect x="523.9" y="281.3" width="1.4" height="1.4" fill="#0b2a8a"/><rect x="556.0" y="276.2" width="1.4" height="1.4" fill="#0b2a8a"/><rect x="380.1" y="214.2" width="1.4" height="1.4" fill="#0b2a8a"/><rect x="543.0" y="294.5" width="1.4" height="1.4" fill="#0b2a8a"/><rect x="530.8" y="287.9" width="1.4" height="1.4" fill="#0b2a8a"/><rect x="573.3" y="296.3" width="1.4" height="1.4" fill="#0b2a8a"/><rect x="616.4" y="266.2" width="1.4" height="1.4" fill="#0b2a8a"/><rect x="423.8" y="219.9" width="1.4" height="1.4" fill="#0b2a8a"/><rect x="386.8" y="250.9" width="1.4" height="1.4" fill="#0b2a8a"/><rect x="698.2" y="286.9" width="1.4" height="1.4" fill="#0b2a8a"/><rect x="412.8" y="242.6" width="1.4" height="1.4" fill="#0b2a8a"/><rect x="419.6" y="259.6" width="1.4" height="1.4" fill="#0b2a8a"/><rect x="616.5" y="287.5" width="1.4" height="1.4" fill="#0b2a8a"/><rect x="599.2" y="270.1" width="1.4" height="1.4" fill="#0b2a8a"/><rect x="688.5" y="307.4" width="1.4" height="1.4" fill="#0b2a8a"/><rect x="462.2" y="248.4" width="1.4" height="1.4" fill="#0b2a8a"/><rect x="645.6" y="284.0" width="1.4" height="1.4" fill="#0b2a8a"/><rect x="525.2" y="271.1" width="1.4" height="1.4" fill="#0b2a8a"/><rect x="732.9" y="272.7" width="1.4" height="1.4" fill="#0b2a8a"/><rect x="450.9" y="259.0" width="1.4" height="1.4" fill="#0b2a8a"/><rect x="475.3" y="271.1" width="1.4" height="1.4" fill="#0b2a8a"/><rect x="493.5" y="279.6" width="1.4" height="1.4" fill="#0b2a8a"/><rect x="513.7" y="288.3" width="1.4" height="1.4" fill="#0b2a8a"/><rect x="652.2" y="286.1" width="1.4" height="1.4" fill="#0b2a8a"/><rect x="451.9" y="233.0" width="1.4" height="1.4" fill="#0b2a8a"/><rect x="383.6" y="216.2" width="1.4" height="1.4" fill="#0b2a8a"/><rect x="620.6" y="252.7" width="1.4" height="1.4" fill="#0b2a8a"/><rect x="460.5" y="254.8" width="1.4" height="1.4" fill="#0b2a8a"/><rect x="429.9" y="235.7" width="1.4" height="1.4" fill="#0b2a8a"/><rect x="457.2" y="260.3" width="1.4" height="1.4" fill="#0b2a8a"/><rect x="416.2" y="262.9" width="1.4" height="1.4" fill="#0b2a8a"/><rect x="595.3" y="284.8" width="1.4" height="1.4" fill="#0b2a8a"/><rect x="578.1" y="275.4" width="1.4" height="1.4" fill="#0b2a8a"/><rect x="734.1" y="310.1" width="1.4" height="1.4" fill="#0b2a8a"/><rect x="678.6" y="265.3" width="1.4" height="1.4" fill="#0b2a8a"/><rect x="591.9" y="294.8" width="1.4" height="1.4" fill="#0b2a8a"/><rect x="610.1" y="276.2" width="1.4" height="1.4" fill="#0b2a8a"/><rect x="614.3" y="259.3" width="1.4" height="1.4" fill="#0b2a8a"/><rect x="643.4" y="290.4" width="1.4" height="1.4" fill="#0b2a8a"/><rect x="398.8" y="236.3" width="1.4" height="1.4" fill="#0b2a8a"/><rect x="594.0" y="266.0" width="1.4" height="1.4" fill="#0b2a8a"/><rect x="626.3" y="295.8" width="1.4" height="1.4" fill="#0b2a8a"/><rect x="710.0" y="260.9" width="1.4" height="1.4" fill="#0b2a8a"/><rect x="428.6" y="261.5" width="1.4" height="1.4" fill="#0b2a8a"/><rect x="600.3" y="290.8" width="1.4" height="1.4" fill="#0b2a8a"/><rect x="696.1" y="265.7" width="1.4" height="1.4" fill="#0b2a8a"/><rect x="591.1" y="263.1" width="1.4" height="1.4" fill="#0b2a8a"/><rect x="669.5" y="306.4" width="1.4" height="1.4" fill="#0b2a8a"/><rect x="461.2" y="251.5" width="1.4" height="1.4" fill="#0b2a8a"/><rect x="593.6" y="259.8" width="1.4" height="1.4" fill="#0b2a8a"/><rect x="440.1" y="248.1" width="1.4" height="1.4" fill="#0b2a8a"/><rect x="398.9" y="235.6" width="1.4" height="1.4" fill="#0b2a8a"/><rect x="722.6" y="286.4" width="1.4" height="1.4" fill="#0b2a8a"/><rect x="392.3" y="250.3" width="1.4" height="1.4" fill="#0b2a8a"/><rect x="639.2" y="287.3" width="1.4" height="1.4" fill="#0b2a8a"/><rect x="382.0" y="245.0" width="1.4" height="1.4" fill="#0b2a8a"/><rect x="444.9" y="265.2" width="1.4" height="1.4" fill="#0b2a8a"/><rect x="492.3" y="252.0" width="1.4" height="1.4" fill="#0b2a8a"/><rect x="436.3" y="265.0" width="1.4" height="1.4" fill="#0b2a8a"/><rect x="454.7" y="269.7" width="1.4" height="1.4" fill="#0b2a8a"/><rect x="563.7" y="261.7" width="1.4" height="1.4" fill="#0b2a8a"/><rect x="616.4" y="276.6" width="1.4" height="1.4" fill="#0b2a8a"/><rect x="382.1" y="248.1" width="1.4" height="1.4" fill="#0b2a8a"/><rect x="473.1" y="227.7" width="1.4" height="1.4" fill="#0b2a8a"/><rect x="657.9" y="287.7" width="1.4" height="1.4" fill="#0b2a8a"/><rect x="515.9" y="254.4" width="1.4" height="1.4" fill="#0b2a8a"/><rect x="568.5" y="282.5" width="1.4" height="1.4" fill="#0b2a8a"/><rect x="629.2" y="274.4" width="1.4" height="1.4" fill="#0b2a8a"/><rect x="583.8" y="286.0" width="1.4" height="1.4" fill="#0b2a8a"/><rect x="442.8" y="234.3" width="1.4" height="1.4" fill="#0b2a8a"/><rect x="552.7" y="295.1" width="1.4" height="1.4" fill="#0b2a8a"/><rect x="671.4" y="314.5" width="1.4" height="1.4" fill="#0b2a8a"/><rect x="535.7" y="286.2" width="1.4" height="1.4" fill="#0b2a8a"/><rect x="411.6" y="227.5" width="1.4" height="1.4" fill="#0b2a8a"/><rect x="396.9" y="252.7" width="1.4" height="1.4" fill="#0b2a8a"/><rect x="744.9" y="322.3" width="1.4" height="1.4" fill="#0b2a8a"/><rect x="652.7" y="267.9" width="1.4" height="1.4" fill="#0b2a8a"/><rect x="668.5" y="276.1" width="1.4" height="1.4" fill="#0b2a8a"/><rect x="510.2" y="259.6" width="1.4" height="1.4" fill="#0b2a8a"/><rect x="694.2" y="264.2" width="1.4" height="1.4" fill="#0b2a8a"/><rect x="431.4" y="224.0" width="1.4" height="1.4" fill="#0b2a8a"/><rect x="686.4" y="276.2" width="1.4" height="1.4" fill="#0b2a8a"/><rect x="708.9" y="261.0" width="1.4" height="1.4" fill="#0b2a8a"/><rect x="684.1" y="270.4" width="1.4" height="1.4" fill="#0b2a8a"/><rect x="708.6" y="294.0" width="1.4" height="1.4" fill="#0b2a8a"/><rect x="699.6" y="283.6" width="1.4" height="1.4" fill="#0b2a8a"/><rect x="706.3" y="292.2" width="1.4" height="1.4" fill="#0b2a8a"/><rect x="731.5" y="270.7" width="1.4" height="1.4" fill="#0b2a8a"/><rect x="689.0" y="298.0" width="1.4" height="1.4" fill="#0b2a8a"/><rect x="501.0" y="246.6" width="1.4" height="1.4" fill="#0b2a8a"/><rect x="707.6" y="268.8" width="1.4" height="1.4" fill="#0b2a8a"/><rect x="569.7" y="297.3" width="1.4" height="1.4" fill="#0b2a8a"/><rect x="552.5" y="270.1" width="1.4" height="1.4" fill="#0b2a8a"/><rect x="627.9" y="276.7" width="1.4" height="1.4" fill="#0b2a8a"/><rect x="473.6" y="261.0" width="1.4" height="1.4" fill="#0b2a8a"/><rect x="709.2" y="257.7" width="1.4" height="1.4" fill="#0b2a8a"/><rect x="675.2" y="304.1" width="1.4" height="1.4" fill="#0b2a8a"/><rect x="566.9" y="263.5" width="1.4" height="1.4" fill="#0b2a8a"/></g><path d="M169.2,152.7 L169.4,150.0 L171.2,148.0 L173.6,146.3 L175.3,143.9 L176.6,141.3 L177.8,138.3 L180.0,135.9 L179.0,132.9 L178.0,129.9 L175.1,130.7 L172.1,130.9 L169.2,131.9 L166.2,132.9 L164.3,135.8 L161.2,136.6 L158.4,137.3 L155.8,135.9 L153.3,137.4 L151.8,139.9 L149.2,141.4 L146.2,142.0 L143.8,143.9 L140.2,144.4 L137.1,142.6 L134.4,139.9 L134.7,137.2 L135.8,134.6 L135.7,131.9 L134.7,129.3 L135.0,126.5 L137.0,124.2 L137.1,121.2 L138.4,118.5 L140.9,117.9 L142.4,115.8 L144.5,114.1 L146.8,113.4 L149.5,113.9 L151.8,113.1 L154.3,112.0 L155.2,109.3 L157.2,107.7 L154.5,108.4 L151.8,107.7 L149.1,105.1 L149.2,102.4 L148.5,99.6 L149.8,97.0 L152.0,95.5 L154.7,95.1 L157.2,94.3 L159.8,93.0 L162.5,91.7 L165.2,89.0 L167.2,87.5 L169.4,86.6 L171.9,86.3 L175.1,85.0 L178.6,85.0 L180.6,83.6 L182.4,81.9 L184.1,80.0 L186.7,79.6 L189.1,78.9 L190.8,77.0 L192.9,75.8 L194.7,74.2 L197.4,73.6 L198.7,75.8 L198.7,78.3 L199.7,80.9 L201.7,82.4 L204.1,83.6 L206.7,82.4 L209.5,83.0 L210.5,80.5 L212.1,78.3 L213.6,76.2 L214.6,73.8 L216.1,71.7 L216.2,68.9 L217.8,66.6 L220.3,64.9 L221.5,62.2 L224.0,60.5 L225.7,57.8 L228.2,56.1 L230.3,54.8 L232.8,53.8 L234.7,52.2 L236.3,50.1 L238.5,49.2 L240.8,48.5 L243.0,47.4 L245.4,45.6 L248.2,45.2 L251.2,45.6 L253.7,44.1 L256.1,43.6 L258.5,42.8 L261.0,43.4 L263.4,43.4 L265.8,42.7 L268.9,42.9 L272.0,42.0 L275.1,42.1 L277.8,42.0 L280.5,42.1 L283.2,40.8 L285.9,39.4 L288.8,38.9 L291.3,37.2 L293.9,36.0 L297.1,36.0 L300.2,36.4 L303.3,36.7 L306.3,36.6 L309.0,37.5 L311.3,39.4 L312.2,41.9 L313.0,44.4 L315.3,46.1 L317.2,48.3 L319.4,50.1 L320.3,52.4 L321.4,54.6 L321.3,57.2 L322.0,59.5 L322.9,62.3 L325.0,64.0 L327.2,65.7 L329.6,65.8 L332.0,66.5 L334.5,65.1 L336.9,65.7 L339.3,65.7 L340.1,68.4 L342.4,69.8 L344.1,71.7 L346.5,72.3 L349.1,72.6 L351.3,74.0 L353.5,75.6 L356.2,75.3 L358.4,73.8 L361.1,75.1 L363.6,74.7 L366.0,74.5 L368.4,73.7 L370.8,73.4 L373.1,72.3 L375.5,73.4 L377.8,74.5 L380.4,75.3 L382.7,76.5 L384.2,78.7 L382.8,81.5 L384.0,83.8 L385.3,86.0 L385.1,88.6 L386.9,90.4 L388.8,92.2 L390.8,93.8 L392.4,95.8 L394.9,96.5 L397.2,97.8 L399.5,99.0 L401.9,100.0 L404.4,100.7 L406.8,100.4 L409.1,99.1 L411.6,99.4 L414.0,99.0 L416.5,99.5 L418.2,101.4 L420.1,103.1 L422.8,103.1 L425.1,102.2 L427.6,101.3 L430.0,100.6 L432.0,98.6 L434.6,98.3 L437.0,99.1 L439.4,98.7 L441.9,97.3 L444.3,97.2 L446.7,98.3 L448.9,96.8 L451.6,98.1 L453.8,96.6 L456.2,95.9 L458.7,96.4 L461.1,97.0 L463.6,96.7 L466.1,96.4 L468.4,97.7 L470.7,99.2 L471.7,101.8 L474.0,103.3 L475.5,105.5 L476.8,107.9 L477.1,110.5 L478.5,112.7 L479.2,115.1 L477.7,117.8 L475.6,120.0 L472.9,120.1 L470.2,121.1 L467.5,120.3 L464.8,120.0 L463.1,121.9 L461.1,123.6 L458.8,124.6 L456.4,125.1 L453.8,123.6 L451.5,124.8 L451.1,127.2 L451.4,129.7 L450.3,132.0 L453.2,134.1 L456.3,135.7 L453.4,137.1 L452.2,140.5 L449.1,141.7 L451.3,143.6 L452.2,146.1 L452.7,148.9 L454.5,150.8 L457.4,151.3 L458.7,153.9 L461.1,155.0 L462.8,157.3 L465.1,159.1 L467.2,161.0 L468.3,163.3 L467.1,166.1 L468.0,168.4 L469.1,170.7 L469.6,173.1 L471.4,175.6 L471.7,178.8 L473.2,181.5 L472.2,184.6 L470.8,187.5 L473.5,188.9 L476.4,189.6 L478.9,191.4 L481.7,192.4 L484.2,193.0 L485.8,194.9 L486.8,197.6 L488.9,198.9 L491.3,199.6 L490.1,202.0 L489.1,204.4 L486.7,205.9 L486.0,208.5 L487.5,210.6 L489.3,212.7 L491.6,213.8 L494.7,213.1 L497.0,214.3 L498.8,216.3 L500.7,218.1 L503.0,219.0 L505.3,220.0 L508.0,220.4 L510.0,221.9 L512.2,223.3 L514.6,224.5 L517.0,225.6 L519.4,226.6 L522.0,226.8 L524.2,228.3 L526.5,229.1 L528.8,230.3 L531.3,230.8 L533.8,231.4 L536.3,230.3 L537.0,232.8 L539.2,234.1 L540.9,235.9 L542.7,237.5 L543.8,239.7 L546.4,238.0 L549.2,237.2 L552.3,237.5 L555.1,236.9 L557.5,235.6 L560.0,234.8 L562.6,234.1 L565.6,234.5 L568.2,233.2 L571.0,232.8 L573.8,232.2 L576.8,231.0 L579.8,229.9 L583.2,230.3 L585.4,229.2 L587.7,228.1 L590.3,228.2 L592.6,227.5 L595.5,229.3 L598.8,229.2 L602.0,229.4 L605.2,229.0 L608.2,230.9 L611.4,230.3 L614.3,230.5 L617.1,229.9 L619.9,229.9 L622.6,228.5 L625.3,229.5 L628.1,230.1 L631.1,229.5 L633.9,230.3 L636.9,231.7 L640.1,232.0 L643.3,231.3 L645.9,229.8 L649.0,230.5 L651.8,229.7 L654.5,228.5 L656.4,230.0 L658.2,231.7 L660.1,233.2 L661.1,235.5 L661.1,238.2 L662.9,240.2 L663.9,242.5 L663.8,245.2 L665.5,247.4 L665.8,250.0 L668.3,251.8 L671.4,251.9 L674.1,249.6 L675.2,246.3 L677.6,244.4 L680.3,242.7 L682.7,240.7 L685.8,240.7 L688.5,239.3 L691.1,237.8 L693.9,236.9 L694.6,234.1 L696.1,231.7 L697.7,229.4 L700.4,228.9 L702.4,226.8 L705.5,227.5 L707.5,225.2 L710.5,225.6 L712.7,223.8 L715.3,223.7 L717.6,225.5 L720.1,225.2 L722.7,225.1 L725.2,225.4 L727.7,225.7 L728.3,228.6 L729.4,231.4 L731.0,234.0 L731.5,236.9 L733.2,239.3 L733.7,242.2 L733.9,245.2 L735.7,247.5 L737.1,250.0 L738.9,252.0 L738.3,255.0 L739.4,257.2 L740.0,259.7 L742.4,261.5 L742.2,264.3 L744.6,266.1 L744.6,268.8 L748.3,278.2 L748.3,285.7 L744.6,287.6 L723.9,293.2 L686.4,301.7 L648.9,306.3 L611.4,308.2 L573.8,307.3 L536.3,304.5 L498.8,300.7 L479.0,296.4 L433.5,285.0 L387.9,271.3 L365.1,264.5 L360.5,257.6 L358.3,244.0 L360.5,232.6 L365.1,225.7 L367.4,216.6 L360.5,206.0 L351.0,206.0 L342.0,207.5 L334.0,209.5 L320.0,201.5 L308.0,196.0 L285.3,184.7 L251.2,169.9 L205.6,157.3 L169.2,152.7Z" fill="none" stroke="#111" stroke-width="1.5" stroke-linejoin="round"/><polyline points="360.5,204.0 361.7,201.3 363.6,199.0 365.0,196.5 367.2,194.4 369.8,192.6 372.0,190.5 374.7,189.7 377.1,187.9 380.0,187.5 382.7,186.8 385.3,188.0 388.0,187.5 390.8,188.4 393.5,189.5 396.0,191.0 398.9,190.8 401.3,189.3 404.0,188.5 406.8,187.1 409.0,185.0 410.9,187.1 412.6,189.4 415.0,191.1 416.5,193.5 418.8,194.7 421.1,196.0 423.6,196.5 426.0,197.5 428.3,198.7 430.7,199.5 433.4,199.6 435.5,201.4 438.0,202.0 441.0,205.5 444.5,205.1 448.0,204.5 450.6,204.7 453.1,204.9 455.4,206.5 458.0,206.5 460.4,206.4 462.8,206.6 465.2,206.7 467.6,206.4 470.0,206.0 472.4,206.7 474.8,206.1 477.2,206.7 479.6,206.3 482.0,206.5 486.0,208.5" fill="none" stroke="#000" stroke-width="3" stroke-linejoin="round"/></g>
<g transform="translate(730.7,292.6)"><g clip-path="url(#clipInd)"><rect x="120" y="30" width="380" height="200" fill="#8a8585"/><polygon points="195.0,70.0 230.0,45.0 290.0,32.0 320.0,45.0 335.0,75.0 320.0,105.0 290.0,115.0 250.0,100.0 215.0,95.0" fill="#b0adad" filter="url(#blur12)"/><polygon points="128.0,150.0 130.0,110.0 150.0,92.0 175.0,84.0 200.0,84.0 220.0,96.0 215.0,115.0 195.0,135.0 165.0,160.0" fill="#bdbbbb" filter="url(#blur8)"/><polygon points="140.0,140.0 150.0,110.0 175.0,98.0 205.0,92.0 240.0,92.0 270.0,100.0 295.0,115.0 320.0,135.0 300.0,150.0 240.0,140.0 180.0,150.0" fill="#cfcdcd" filter="url(#blur8)"/><ellipse cx="298" cy="118" rx="15" ry="8" transform="rotate(35 298 118)" fill="#d6d4d4" filter="url(#blur5)"/><rect x="100" y="20" width="680" height="310" filter="url(#tex2)" opacity="0.5"/><g transform="rotate(28 400 150)"><rect x="0" y="-200" width="900" height="700" filter="url(#tex)" opacity="0.42"/></g><polygon points="160.0,162.0 166.0,136.0 180.0,124.0 198.0,114.0 222.0,110.0 250.0,112.0 276.0,121.0 301.0,135.0 329.0,150.0 354.0,166.0 370.0,180.0 380.0,192.0 372.0,220.0 330.0,230.0 250.0,200.0 160.0,175.0" fill="#ffffff" filter="url(#blur8)"/><polyline points="300.0,118.0 301.5,122.0 303.0,126.0" fill="none" stroke="#0b2a8a" stroke-width="1.4" stroke-linecap="round" stroke-linejoin="round"/><polyline points="318.0,140.0 319.9,144.1 322.0,148.0" fill="none" stroke="#0b2a8a" stroke-width="1.4" stroke-linecap="round" stroke-linejoin="round"/><polyline points="338.0,160.0 340.1,163.0 342.0,166.0" fill="none" stroke="#0b2a8a" stroke-width="1.4" stroke-linecap="round" stroke-linejoin="round"/><polyline points="350.0,172.0 353.4,174.6 356.0,178.0" fill="none" stroke="#0b2a8a" stroke-width="1.4" stroke-linecap="round" stroke-linejoin="round"/></g><g clip-path="url(#clipGan)"><rect x="350" y="180" width="410" height="140" fill="#928e8e"/><polygon points="350.0,185.0 430.0,190.0 480.0,205.0 490.0,220.0 470.0,238.0 400.0,240.0 350.0,235.0" fill="#b3b0b0" filter="url(#blur8)"/><polygon points="712.0,215.0 760.0,215.0 765.0,295.0 715.0,290.0 705.0,260.0" fill="#a9a6a6" filter="url(#blur8)"/><rect x="100" y="20" width="680" height="310" filter="url(#tex2)" opacity="0.5"/><g transform="rotate(-75 550 250)"><rect x="0" y="-200" width="900" height="700" filter="url(#tex)" opacity="0.5"/></g><polygon points="350.0,212.0 369.0,216.0 403.0,231.0 443.0,248.0 483.0,260.0 524.0,268.0 553.0,269.0 610.0,275.0 652.0,279.0 694.0,277.0 729.0,271.0 760.0,268.0 760.0,330.0 350.0,330.0" fill="#ffffff" filter="url(#blur8)"/><polyline points="391.4,195.3 392.3,198.5 393.3,201.7 392.4,204.8 392.6,208.1 391.8,211.3 390.9,214.5" fill="none" stroke="#0b2a8a" stroke-width="1.3" stroke-linecap="round" stroke-linejoin="round"/><polyline points="393.3,201.7 390.4,199.9 388.8,198.2 386.1,196.3" fill="none" stroke="#0b2a8a" stroke-width="1.3" stroke-linecap="round" stroke-linejoin="round"/><polyline points="408.7,192.6 408.8,197.1 406.3,201.6 403.2,206.0" fill="none" stroke="#0b2a8a" stroke-width="1.3" stroke-linecap="round" stroke-linejoin="round"/><polyline points="408.8,197.1 404.7,195.0 402.2,192.6 399.7,189.0" fill="none" stroke="#0b2a8a" stroke-width="1.3" stroke-linecap="round" stroke-linejoin="round"/><polyline points="453.6,209.2 455.4,211.7 456.3,214.6 456.1,219.9 456.1,225.3 455.2,230.7" fill="none" stroke="#0b2a8a" stroke-width="1.3" stroke-linecap="round" stroke-linejoin="round"/><polyline points="456.3,214.6 457.8,213.0 458.8,211.3 460.3,210.1" fill="none" stroke="#0b2a8a" stroke-width="1.3" stroke-linecap="round" stroke-linejoin="round"/><polyline points="456.1,219.9 458.4,217.4 460.7,215.2 464.6,211.7" fill="none" stroke="#0b2a8a" stroke-width="1.3" stroke-linecap="round" stroke-linejoin="round"/><polyline points="476.4,211.5 476.5,216.7 473.9,222.0 471.4,227.2" fill="none" stroke="#0b2a8a" stroke-width="1.3" stroke-linecap="round" stroke-linejoin="round"/><polyline points="476.5,216.7 475.1,214.8 473.4,213.2 471.2,212.0" fill="none" stroke="#0b2a8a" stroke-width="1.3" stroke-linecap="round" stroke-linejoin="round"/><polyline points="473.9,222.0 470.6,219.8 468.3,217.5 464.6,215.6" fill="none" stroke="#0b2a8a" stroke-width="1.3" stroke-linecap="round" stroke-linejoin="round"/><polyline points="473.9,222.0 471.0,219.9 469.1,218.2 467.4,216.9" fill="none" stroke="#0b2a8a" stroke-width="1.3" stroke-linecap="round" stroke-linejoin="round"/><polyline points="476.5,216.7 479.3,214.6 484.1,211.4 487.5,208.8" fill="none" stroke="#0b2a8a" stroke-width="1.3" stroke-linecap="round" stroke-linejoin="round"/><polyline points="514.8,231.7 516.6,236.5 516.7,241.3 517.7,246.1" fill="none" stroke="#0b2a8a" stroke-width="1.3" stroke-linecap="round" stroke-linejoin="round"/><polyline points="516.7,241.3 514.7,239.2 512.8,237.3 511.5,235.8" fill="none" stroke="#0b2a8a" stroke-width="1.3" stroke-linecap="round" stroke-linejoin="round"/><polyline points="516.6,236.5 513.8,233.7 509.4,230.0 505.1,227.2" fill="none" stroke="#0b2a8a" stroke-width="1.3" stroke-linecap="round" stroke-linejoin="round"/><polyline points="516.7,241.3 518.9,239.2 520.8,237.2 524.1,234.2" fill="none" stroke="#0b2a8a" stroke-width="1.3" stroke-linecap="round" stroke-linejoin="round"/><polyline points="516.7,241.3 518.6,239.6 520.6,237.9 521.9,235.9" fill="none" stroke="#0b2a8a" stroke-width="1.3" stroke-linecap="round" stroke-linejoin="round"/><polyline points="538.5,239.6 539.3,242.4 538.0,245.3 537.7,248.1" fill="none" stroke="#0b2a8a" stroke-width="1.3" stroke-linecap="round" stroke-linejoin="round"/><polyline points="538.0,245.3 541.0,243.6 543.9,241.6 547.1,239.1" fill="none" stroke="#0b2a8a" stroke-width="1.3" stroke-linecap="round" stroke-linejoin="round"/><polyline points="538.0,245.3 539.8,242.8 541.8,240.4 543.4,238.0" fill="none" stroke="#0b2a8a" stroke-width="1.3" stroke-linecap="round" stroke-linejoin="round"/><polyline points="538.0,245.3 541.5,242.1 544.2,238.2 548.8,235.1" fill="none" stroke="#0b2a8a" stroke-width="1.3" stroke-linecap="round" stroke-linejoin="round"/><polyline points="580.0,236.5 581.6,239.4 582.4,242.6 581.9,245.7 582.6,248.7 583.6,251.8 585.0,254.7" fill="none" stroke="#0b2a8a" stroke-width="1.3" stroke-linecap="round" stroke-linejoin="round"/><polyline points="582.6,248.7 584.7,246.7 587.6,243.7 590.0,240.6" fill="none" stroke="#0b2a8a" stroke-width="1.3" stroke-linecap="round" stroke-linejoin="round"/><polyline points="582.4,242.6 585.1,238.5 587.8,234.2 591.3,231.0" fill="none" stroke="#0b2a8a" stroke-width="1.3" stroke-linecap="round" stroke-linejoin="round"/><polyline points="602.5,234.1 601.3,239.9 602.6,242.6 603.5,245.6 602.3,248.5 601.1,251.4" fill="none" stroke="#0b2a8a" stroke-width="1.3" stroke-linecap="round" stroke-linejoin="round"/><polyline points="603.5,245.6 607.6,242.3 611.0,238.3 614.4,235.8" fill="none" stroke="#0b2a8a" stroke-width="1.3" stroke-linecap="round" stroke-linejoin="round"/><polyline points="629.8,235.3 632.2,240.6 632.5,246.0 634.8,251.3 636.2,256.6" fill="none" stroke="#0b2a8a" stroke-width="1.3" stroke-linecap="round" stroke-linejoin="round"/><polyline points="632.5,246.0 634.4,244.3 636.8,242.1 638.7,240.7" fill="none" stroke="#0b2a8a" stroke-width="1.3" stroke-linecap="round" stroke-linejoin="round"/><polyline points="634.8,251.3 632.8,248.6 630.4,246.8 627.5,244.7" fill="none" stroke="#0b2a8a" stroke-width="1.3" stroke-linecap="round" stroke-linejoin="round"/><polyline points="632.5,246.0 636.0,242.9 640.1,240.0 644.5,237.6" fill="none" stroke="#0b2a8a" stroke-width="1.3" stroke-linecap="round" stroke-linejoin="round"/><polyline points="670.2,258.6 669.2,262.6 671.5,266.7 671.3,270.8" fill="none" stroke="#0b2a8a" stroke-width="1.3" stroke-linecap="round" stroke-linejoin="round"/><polyline points="671.5,266.7 669.6,264.3 667.2,262.4 664.2,259.6" fill="none" stroke="#0b2a8a" stroke-width="1.3" stroke-linecap="round" stroke-linejoin="round"/><polyline points="669.2,262.6 671.4,259.5 674.5,257.7 676.7,255.9" fill="none" stroke="#0b2a8a" stroke-width="1.3" stroke-linecap="round" stroke-linejoin="round"/><polyline points="671.5,266.7 674.8,264.4 678.0,261.5 681.2,260.1" fill="none" stroke="#0b2a8a" stroke-width="1.3" stroke-linecap="round" stroke-linejoin="round"/><polyline points="686.8,244.6 685.3,247.4 684.8,250.6 684.4,256.6 685.1,259.5 685.7,262.5" fill="none" stroke="#0b2a8a" stroke-width="1.3" stroke-linecap="round" stroke-linejoin="round"/><polyline points="684.8,250.6 683.2,249.1 682.1,247.5 680.9,246.3" fill="none" stroke="#0b2a8a" stroke-width="1.3" stroke-linecap="round" stroke-linejoin="round"/><polyline points="684.4,256.6 688.4,253.7 692.1,250.3 696.3,247.4" fill="none" stroke="#0b2a8a" stroke-width="1.3" stroke-linecap="round" stroke-linejoin="round"/><polyline points="684.8,250.6 688.4,247.8 691.2,244.3 695.4,242.2" fill="none" stroke="#0b2a8a" stroke-width="1.3" stroke-linecap="round" stroke-linejoin="round"/><polyline points="728.8,235.6 728.5,240.6 728.7,245.6 726.5,250.6" fill="none" stroke="#0b2a8a" stroke-width="1.3" stroke-linecap="round" stroke-linejoin="round"/><polyline points="728.5,240.6 732.3,237.4 734.5,234.0 738.8,230.1" fill="none" stroke="#0b2a8a" stroke-width="1.3" stroke-linecap="round" stroke-linejoin="round"/><polyline points="728.7,245.6 727.4,243.9 725.3,242.8 723.1,240.6" fill="none" stroke="#0b2a8a" stroke-width="1.3" stroke-linecap="round" stroke-linejoin="round"/><polyline points="728.7,245.6 727.3,243.5 725.9,242.2 724.0,240.3" fill="none" stroke="#0b2a8a" stroke-width="1.3" stroke-linecap="round" stroke-linejoin="round"/><rect x="462.8" y="231.7" width="1.4" height="1.4" fill="#0b2a8a"/><rect x="432.4" y="234.2" width="1.4" height="1.4" fill="#0b2a8a"/><rect x="458.3" y="233.1" width="1.4" height="1.4" fill="#0b2a8a"/><rect x="717.5" y="247.4" width="1.4" height="1.4" fill="#0b2a8a"/><rect x="733.0" y="271.0" width="1.4" height="1.4" fill="#0b2a8a"/><rect x="576.4" y="260.0" width="1.4" height="1.4" fill="#0b2a8a"/><rect x="590.6" y="248.9" width="1.4" height="1.4" fill="#0b2a8a"/><rect x="743.8" y="286.5" width="1.4" height="1.4" fill="#0b2a8a"/><rect x="739.0" y="288.3" width="1.4" height="1.4" fill="#0b2a8a"/><rect x="382.6" y="204.6" width="1.4" height="1.4" fill="#0b2a8a"/><rect x="550.2" y="271.7" width="1.4" height="1.4" fill="#0b2a8a"/><rect x="438.3" y="230.8" width="1.4" height="1.4" fill="#0b2a8a"/><rect x="509.0" y="254.7" width="1.4" height="1.4" fill="#0b2a8a"/><rect x="717.6" y="258.3" width="1.4" height="1.4" fill="#0b2a8a"/><rect x="444.1" y="238.0" width="1.4" height="1.4" fill="#0b2a8a"/><rect x="535.4" y="265.8" width="1.4" height="1.4" fill="#0b2a8a"/><rect x="547.4" y="274.9" width="1.4" height="1.4" fill="#0b2a8a"/><rect x="739.8" y="293.8" width="1.4" height="1.4" fill="#0b2a8a"/><rect x="680.1" y="277.4" width="1.4" height="1.4" fill="#0b2a8a"/><rect x="592.9" y="242.9" width="1.4" height="1.4" fill="#0b2a8a"/><rect x="739.9" y="283.0" width="1.4" height="1.4" fill="#0b2a8a"/><rect x="378.0" y="210.8" width="1.4" height="1.4" fill="#0b2a8a"/><rect x="526.8" y="245.3" width="1.4" height="1.4" fill="#0b2a8a"/><rect x="730.2" y="246.1" width="1.4" height="1.4" fill="#0b2a8a"/><rect x="709.2" y="251.9" width="1.4" height="1.4" fill="#0b2a8a"/><rect x="438.6" y="223.5" width="1.4" height="1.4" fill="#0b2a8a"/><rect x="540.0" y="248.4" width="1.4" height="1.4" fill="#0b2a8a"/><rect x="656.6" y="259.7" width="1.4" height="1.4" fill="#0b2a8a"/><rect x="738.4" y="289.4" width="1.4" height="1.4" fill="#0b2a8a"/><rect x="665.2" y="286.3" width="1.4" height="1.4" fill="#0b2a8a"/></g><path d="M169.2,152.7 L169.4,150.0 L171.2,148.0 L173.6,146.3 L175.3,143.9 L176.6,141.3 L177.8,138.3 L180.0,135.9 L179.0,132.9 L178.0,129.9 L175.1,130.7 L172.1,130.9 L169.2,131.9 L166.2,132.9 L164.3,135.8 L161.2,136.6 L158.4,137.3 L155.8,135.9 L153.3,137.4 L151.8,139.9 L149.2,141.4 L146.2,142.0 L143.8,143.9 L140.2,144.4 L137.1,142.6 L134.4,139.9 L134.7,137.2 L135.8,134.6 L135.7,131.9 L134.7,129.3 L135.0,126.5 L137.0,124.2 L137.1,121.2 L138.4,118.5 L140.9,117.9 L142.4,115.8 L144.5,114.1 L146.8,113.4 L149.5,113.9 L151.8,113.1 L154.3,112.0 L155.2,109.3 L157.2,107.7 L154.5,108.4 L151.8,107.7 L149.1,105.1 L149.2,102.4 L148.5,99.6 L149.8,97.0 L152.0,95.5 L154.7,95.1 L157.2,94.3 L159.8,93.0 L162.5,91.7 L165.2,89.0 L167.2,87.5 L169.4,86.6 L171.9,86.3 L175.1,85.0 L178.6,85.0 L180.6,83.6 L182.4,81.9 L184.1,80.0 L186.7,79.6 L189.1,78.9 L190.8,77.0 L192.9,75.8 L194.7,74.2 L197.4,73.6 L198.7,75.8 L198.7,78.3 L199.7,80.9 L201.7,82.4 L204.1,83.6 L206.7,82.4 L209.5,83.0 L210.5,80.5 L212.1,78.3 L213.6,76.2 L214.6,73.8 L216.1,71.7 L216.2,68.9 L217.8,66.6 L220.3,64.9 L221.5,62.2 L224.0,60.5 L225.7,57.8 L228.2,56.1 L230.3,54.8 L232.8,53.8 L234.7,52.2 L236.3,50.1 L238.5,49.2 L240.8,48.5 L243.0,47.4 L245.4,45.6 L248.2,45.2 L251.2,45.6 L253.7,44.1 L256.1,43.6 L258.5,42.8 L261.0,43.4 L263.4,43.4 L265.8,42.7 L268.9,42.9 L272.0,42.0 L275.1,42.1 L277.8,42.0 L280.5,42.1 L283.2,40.8 L285.9,39.4 L288.8,38.9 L291.3,37.2 L293.9,36.0 L297.1,36.0 L300.2,36.4 L303.3,36.7 L306.3,36.6 L309.0,37.5 L311.3,39.4 L312.2,41.9 L313.0,44.4 L315.3,46.1 L317.2,48.3 L319.4,50.1 L320.3,52.4 L321.4,54.6 L321.3,57.2 L322.0,59.5 L322.9,62.3 L325.0,64.0 L327.2,65.7 L329.6,65.8 L332.0,66.5 L334.5,65.1 L336.9,65.7 L339.3,65.7 L340.1,68.4 L342.4,69.8 L344.1,71.7 L346.5,72.3 L349.1,72.6 L351.3,74.0 L353.5,75.6 L356.2,75.3 L358.4,73.8 L361.1,75.1 L363.6,74.7 L366.0,74.5 L368.4,73.7 L370.8,73.4 L373.1,72.3 L375.5,73.4 L377.8,74.5 L380.4,75.3 L382.7,76.5 L384.2,78.7 L382.8,81.5 L384.0,83.8 L385.3,86.0 L385.1,88.6 L386.9,90.4 L388.8,92.2 L390.8,93.8 L392.4,95.8 L394.9,96.5 L397.2,97.8 L399.5,99.0 L401.9,100.0 L404.4,100.7 L406.8,100.4 L409.1,99.1 L411.6,99.4 L414.0,99.0 L416.5,99.5 L418.2,101.4 L420.1,103.1 L422.8,103.1 L425.1,102.2 L427.6,101.3 L430.0,100.6 L432.0,98.6 L434.6,98.3 L437.0,99.1 L439.4,98.7 L441.9,97.3 L444.3,97.2 L446.7,98.3 L448.9,96.8 L451.6,98.1 L453.8,96.6 L456.2,95.9 L458.7,96.4 L461.1,97.0 L463.6,96.7 L466.1,96.4 L468.4,97.7 L470.7,99.2 L471.7,101.8 L474.0,103.3 L475.5,105.5 L476.8,107.9 L477.1,110.5 L478.5,112.7 L479.2,115.1 L477.7,117.8 L475.6,120.0 L472.9,120.1 L470.2,121.1 L467.5,120.3 L464.8,120.0 L463.1,121.9 L461.1,123.6 L458.8,124.6 L456.4,125.1 L453.8,123.6 L451.5,124.8 L451.1,127.2 L451.4,129.7 L450.3,132.0 L453.2,134.1 L456.3,135.7 L453.4,137.1 L452.2,140.5 L449.1,141.7 L451.3,143.6 L452.2,146.1 L452.7,148.9 L454.5,150.8 L457.4,151.3 L458.7,153.9 L461.1,155.0 L462.8,157.3 L465.1,159.1 L467.2,161.0 L468.3,163.3 L467.1,166.1 L468.0,168.4 L469.1,170.7 L469.6,173.1 L471.4,175.6 L471.7,178.8 L473.2,181.5 L472.2,184.6 L470.8,187.5 L473.5,188.9 L476.4,189.6 L478.9,191.4 L481.7,192.4 L484.2,193.0 L485.8,194.9 L486.8,197.6 L488.9,198.9 L491.3,199.6 L490.1,202.0 L489.1,204.4 L486.7,205.9 L486.0,208.5 L487.5,210.6 L489.3,212.7 L491.6,213.8 L494.7,213.1 L497.0,214.3 L498.8,216.3 L500.7,218.1 L503.0,219.0 L505.3,220.0 L508.0,220.4 L510.0,221.9 L512.2,223.3 L514.6,224.5 L517.0,225.6 L519.4,226.6 L522.0,226.8 L524.2,228.3 L526.5,229.1 L528.8,230.3 L531.3,230.8 L533.8,231.4 L536.3,230.3 L537.0,232.8 L539.2,234.1 L540.9,235.9 L542.7,237.5 L543.8,239.7 L546.4,238.0 L549.2,237.2 L552.3,237.5 L555.1,236.9 L557.5,235.6 L560.0,234.8 L562.6,234.1 L565.6,234.5 L568.2,233.2 L571.0,232.8 L573.8,232.2 L576.8,231.0 L579.8,229.9 L583.2,230.3 L585.4,229.2 L587.7,228.1 L590.3,228.2 L592.6,227.5 L595.5,229.3 L598.8,229.2 L602.0,229.4 L605.2,229.0 L608.2,230.9 L611.4,230.3 L614.3,230.5 L617.1,229.9 L619.9,229.9 L622.6,228.5 L625.3,229.5 L628.1,230.1 L631.1,229.5 L633.9,230.3 L636.9,231.7 L640.1,232.0 L643.3,231.3 L645.9,229.8 L649.0,230.5 L651.8,229.7 L654.5,228.5 L656.4,230.0 L658.2,231.7 L660.1,233.2 L661.1,235.5 L661.1,238.2 L662.9,240.2 L663.9,242.5 L663.8,245.2 L665.5,247.4 L665.8,250.0 L668.3,251.8 L671.4,251.9 L674.1,249.6 L675.2,246.3 L677.6,244.4 L680.3,242.7 L682.7,240.7 L685.8,240.7 L688.5,239.3 L691.1,237.8 L693.9,236.9 L694.6,234.1 L696.1,231.7 L697.7,229.4 L700.4,228.9 L702.4,226.8 L705.5,227.5 L707.5,225.2 L710.5,225.6 L712.7,223.8 L715.3,223.7 L717.6,225.5 L720.1,225.2 L722.7,225.1 L725.2,225.4 L727.7,225.7 L728.3,228.6 L729.4,231.4 L731.0,234.0 L731.5,236.9 L733.2,239.3 L733.7,242.2 L733.9,245.2 L735.7,247.5 L737.1,250.0 L738.9,252.0 L738.3,255.0 L739.4,257.2 L740.0,259.7 L742.4,261.5 L742.2,264.3 L744.6,266.1 L744.6,268.8 L748.3,278.2 L748.3,285.7 L744.6,287.6 L723.9,293.2 L686.4,301.7 L648.9,306.3 L611.4,308.2 L573.8,307.3 L536.3,304.5 L498.8,300.7 L479.0,296.4 L433.5,285.0 L387.9,271.3 L365.1,264.5 L360.5,257.6 L358.3,244.0 L360.5,232.6 L365.1,225.7 L367.4,216.6 L360.5,206.0 L351.0,206.0 L342.0,207.5 L334.0,209.5 L320.0,201.5 L308.0,196.0 L285.3,184.7 L251.2,169.9 L205.6,157.3 L169.2,152.7Z" fill="none" stroke="#111" stroke-width="1.5" stroke-linejoin="round"/><polyline points="360.5,204.0 361.7,201.3 363.6,199.0 365.0,196.5 367.2,194.4 369.8,192.6 372.0,190.5 374.7,189.7 377.1,187.9 380.0,187.5 382.7,186.8 385.3,188.0 388.0,187.5 390.8,188.4 393.5,189.5 396.0,191.0 398.9,190.8 401.3,189.3 404.0,188.5 406.8,187.1 409.0,185.0 410.9,187.1 412.6,189.4 415.0,191.1 416.5,193.5 418.8,194.7 421.1,196.0 423.6,196.5 426.0,197.5 428.3,198.7 430.7,199.5 433.4,199.6 435.5,201.4 438.0,202.0 441.0,205.5 444.5,205.1 448.0,204.5 450.6,204.7 453.1,204.9 455.4,206.5 458.0,206.5 460.4,206.4 462.8,206.6 465.2,206.7 467.6,206.4 470.0,206.0 472.4,206.7 474.8,206.1 477.2,206.7 479.6,206.3 482.0,206.5 486.0,208.5" fill="none" stroke="#000" stroke-width="3" stroke-linejoin="round"/></g>
<g transform="translate(725.5,536.7)"><g clip-path="url(#clipInd)"><rect x="120" y="30" width="380" height="200" fill="#8a8585"/><polygon points="195.0,70.0 230.0,45.0 290.0,32.0 320.0,45.0 335.0,75.0 320.0,105.0 290.0,115.0 250.0,100.0 215.0,95.0" fill="#b0adad" filter="url(#blur12)"/><polygon points="128.0,150.0 130.0,110.0 150.0,92.0 175.0,84.0 200.0,84.0 220.0,96.0 215.0,115.0 195.0,135.0 165.0,160.0" fill="#bdbbbb" filter="url(#blur8)"/><polygon points="140.0,140.0 150.0,110.0 175.0,98.0 205.0,92.0 240.0,92.0 270.0,100.0 295.0,115.0 320.0,135.0 300.0,150.0 240.0,140.0 180.0,150.0" fill="#cfcdcd" filter="url(#blur8)"/><ellipse cx="298" cy="118" rx="15" ry="8" transform="rotate(35 298 118)" fill="#d6d4d4" filter="url(#blur5)"/><rect x="100" y="20" width="680" height="310" filter="url(#tex2)" opacity="0.5"/><g transform="rotate(28 400 150)"><rect x="0" y="-200" width="900" height="700" filter="url(#tex)" opacity="0.42"/></g><polygon points="160.0,162.0 166.0,136.0 180.0,124.0 198.0,114.0 222.0,110.0 250.0,112.0 276.0,121.0 301.0,135.0 329.0,150.0 354.0,166.0 370.0,180.0 380.0,192.0 372.0,220.0 330.0,230.0 250.0,200.0 160.0,175.0" fill="#ffffff" filter="url(#blur8)"/><polyline points="282.0,105.0 283.1,108.2 282.8,111.8 284.0,115.0 285.4,118.6 287.0,122.0" fill="none" stroke="#0b2a8a" stroke-width="1.6" stroke-linecap="round" stroke-linejoin="round"/><polyline points="300.0,130.0 301.7,133.3 303.8,136.5 305.0,140.0 307.3,143.1 310.0,146.0" fill="none" stroke="#0b2a8a" stroke-width="1.6" stroke-linecap="round" stroke-linejoin="round"/><polyline points="318.0,148.0 320.3,150.7 322.9,153.1 325.0,156.0 327.2,158.6 330.3,160.0 333.0,162.0" fill="none" stroke="#0b2a8a" stroke-width="1.6" stroke-linecap="round" stroke-linejoin="round"/><polyline points="338.0,165.0 340.5,167.5 343.2,169.8 346.0,172.0 349.3,173.6 352.4,175.4 355.0,178.0 357.7,180.5 361.1,181.8 364.0,184.0" fill="none" stroke="#0b2a8a" stroke-width="1.6" stroke-linecap="round" stroke-linejoin="round"/><polyline points="330.0,150.0 332.1,154.0 334.0,158.0" fill="none" stroke="#0b2a8a" stroke-width="1.6" stroke-linecap="round" stroke-linejoin="round"/></g><g clip-path="url(#clipGan)"><rect x="350" y="180" width="410" height="140" fill="#928e8e"/><polygon points="350.0,185.0 430.0,190.0 480.0,205.0 490.0,220.0 470.0,238.0 400.0,240.0 350.0,235.0" fill="#b3b0b0" filter="url(#blur8)"/><polygon points="712.0,215.0 760.0,215.0 765.0,295.0 715.0,290.0 705.0,260.0" fill="#a9a6a6" filter="url(#blur8)"/><rect x="100" y="20" width="680" height="310" filter="url(#tex2)" opacity="0.5"/><g transform="rotate(-75 550 250)"><rect x="0" y="-200" width="900" height="700" filter="url(#tex)" opacity="0.5"/></g><polygon points="350.0,212.0 369.0,216.0 403.0,231.0 443.0,248.0 483.0,260.0 524.0,268.0 553.0,269.0 610.0,275.0 652.0,279.0 694.0,277.0 729.0,271.0 760.0,268.0 760.0,330.0 350.0,330.0" fill="#ffffff" filter="url(#blur8)"/><polyline points="385.5,195.1 382.9,200.4 382.6,205.8 384.2,211.1 384.6,216.4 383.0,221.8" fill="none" stroke="#0b2a8a" stroke-width="1.5" stroke-linecap="round" stroke-linejoin="round"/><polyline points="382.9,200.4 385.0,197.5 388.2,195.2 390.0,192.9" fill="none" stroke="#0b2a8a" stroke-width="1.5" stroke-linecap="round" stroke-linejoin="round"/><polyline points="384.2,211.1 381.3,209.1 377.4,205.5 374.2,203.5" fill="none" stroke="#0b2a8a" stroke-width="1.5" stroke-linecap="round" stroke-linejoin="round"/><polyline points="382.6,205.8 383.8,203.8 385.9,201.8 387.6,199.9" fill="none" stroke="#0b2a8a" stroke-width="1.5" stroke-linecap="round" stroke-linejoin="round"/><polyline points="392.2,194.9 391.2,200.2 391.0,205.5 390.5,210.9 388.9,216.2 389.1,221.5 390.2,226.9 388.9,232.2" fill="none" stroke="#0b2a8a" stroke-width="1.5" stroke-linecap="round" stroke-linejoin="round"/><polyline points="389.1,221.5 390.8,219.6 392.4,218.1 395.1,215.9" fill="none" stroke="#0b2a8a" stroke-width="1.5" stroke-linecap="round" stroke-linejoin="round"/><polyline points="406.1,194.3 407.1,199.8 407.8,205.2 407.2,210.7" fill="none" stroke="#0b2a8a" stroke-width="1.5" stroke-linecap="round" stroke-linejoin="round"/><polyline points="407.8,205.2 410.1,204.2 411.8,202.3 413.4,200.2" fill="none" stroke="#0b2a8a" stroke-width="1.5" stroke-linecap="round" stroke-linejoin="round"/><polyline points="407.1,199.8 403.3,195.9 400.1,192.2 396.0,189.1" fill="none" stroke="#0b2a8a" stroke-width="1.5" stroke-linecap="round" stroke-linejoin="round"/><polyline points="407.8,205.2 410.6,203.4 414.0,201.2 417.0,198.0" fill="none" stroke="#0b2a8a" stroke-width="1.5" stroke-linecap="round" stroke-linejoin="round"/><polyline points="425.8,200.5 425.9,203.7 425.3,206.8 424.5,209.8 423.9,213.0 423.4,216.1 423.5,219.2" fill="none" stroke="#0b2a8a" stroke-width="1.5" stroke-linecap="round" stroke-linejoin="round"/><polyline points="423.9,213.0 426.3,210.6 429.0,208.8 431.6,206.6" fill="none" stroke="#0b2a8a" stroke-width="1.5" stroke-linecap="round" stroke-linejoin="round"/><polyline points="423.9,213.0 425.7,210.4 428.2,208.0 430.1,205.8" fill="none" stroke="#0b2a8a" stroke-width="1.5" stroke-linecap="round" stroke-linejoin="round"/><polyline points="423.9,213.0 421.0,211.1 417.6,209.0 415.2,205.3" fill="none" stroke="#0b2a8a" stroke-width="1.5" stroke-linecap="round" stroke-linejoin="round"/><polyline points="441.7,212.0 441.1,215.0 440.1,218.0 439.7,221.0 439.1,224.0 440.9,226.8 441.9,230.0 442.3,233.0 443.1,236.0" fill="none" stroke="#0b2a8a" stroke-width="1.5" stroke-linecap="round" stroke-linejoin="round"/><polyline points="439.1,224.0 440.5,222.7 442.7,221.0 444.0,219.7" fill="none" stroke="#0b2a8a" stroke-width="1.5" stroke-linecap="round" stroke-linejoin="round"/><polyline points="440.1,218.0 438.0,215.4 434.6,213.6 432.5,210.8" fill="none" stroke="#0b2a8a" stroke-width="1.5" stroke-linecap="round" stroke-linejoin="round"/><polyline points="441.9,230.0 439.9,228.6 437.7,226.8 435.8,225.8" fill="none" stroke="#0b2a8a" stroke-width="1.5" stroke-linecap="round" stroke-linejoin="round"/><polyline points="441.9,230.0 439.4,226.2 436.2,223.5 432.9,220.6" fill="none" stroke="#0b2a8a" stroke-width="1.5" stroke-linecap="round" stroke-linejoin="round"/><polyline points="466.6,213.7 468.5,219.3 467.5,222.2 466.0,224.9 467.5,230.5 466.0,236.1" fill="none" stroke="#0b2a8a" stroke-width="1.5" stroke-linecap="round" stroke-linejoin="round"/><polyline points="466.0,224.9 468.3,222.4 470.3,220.1 472.3,217.5" fill="none" stroke="#0b2a8a" stroke-width="1.5" stroke-linecap="round" stroke-linejoin="round"/><polyline points="467.5,230.5 466.0,227.9 463.4,225.5 461.6,223.7" fill="none" stroke="#0b2a8a" stroke-width="1.5" stroke-linecap="round" stroke-linejoin="round"/><polyline points="468.5,219.3 466.2,216.5 463.2,213.8 461.1,212.0" fill="none" stroke="#0b2a8a" stroke-width="1.5" stroke-linecap="round" stroke-linejoin="round"/><polyline points="482.5,209.9 483.2,215.4 482.8,221.0 484.0,226.5 485.0,232.0 486.7,237.5" fill="none" stroke="#0b2a8a" stroke-width="1.5" stroke-linecap="round" stroke-linejoin="round"/><polyline points="482.8,221.0 486.2,217.4 489.3,215.7 492.8,213.3" fill="none" stroke="#0b2a8a" stroke-width="1.5" stroke-linecap="round" stroke-linejoin="round"/><polyline points="484.0,226.5 485.8,223.5 488.4,220.6 490.4,218.8" fill="none" stroke="#0b2a8a" stroke-width="1.5" stroke-linecap="round" stroke-linejoin="round"/><polyline points="499.9,224.1 499.0,229.6 500.4,235.1 500.5,240.5 499.1,246.0" fill="none" stroke="#0b2a8a" stroke-width="1.5" stroke-linecap="round" stroke-linejoin="round"/><polyline points="499.0,229.6 501.3,226.4 503.5,223.9 505.7,221.1" fill="none" stroke="#0b2a8a" stroke-width="1.5" stroke-linecap="round" stroke-linejoin="round"/><polyline points="500.4,235.1 496.9,231.4 494.6,229.5 491.4,227.6" fill="none" stroke="#0b2a8a" stroke-width="1.5" stroke-linecap="round" stroke-linejoin="round"/><polyline points="522.8,232.5 524.2,237.8 524.7,243.1 524.9,248.4 525.3,253.7 525.3,259.0 523.5,264.3 522.5,269.6" fill="none" stroke="#0b2a8a" stroke-width="1.5" stroke-linecap="round" stroke-linejoin="round"/><polyline points="524.7,243.1 523.3,241.2 520.9,238.7 518.2,236.4" fill="none" stroke="#0b2a8a" stroke-width="1.5" stroke-linecap="round" stroke-linejoin="round"/><polyline points="524.9,248.4 521.9,246.2 518.8,244.3 515.6,242.1" fill="none" stroke="#0b2a8a" stroke-width="1.5" stroke-linecap="round" stroke-linejoin="round"/><polyline points="536.3,235.1 533.7,240.3 532.7,245.5 532.3,250.6 531.9,255.8 530.5,261.0 531.1,266.2" fill="none" stroke="#0b2a8a" stroke-width="1.5" stroke-linecap="round" stroke-linejoin="round"/><polyline points="530.5,261.0 532.0,259.2 533.6,257.2 536.2,255.5" fill="none" stroke="#0b2a8a" stroke-width="1.5" stroke-linecap="round" stroke-linejoin="round"/><polyline points="550.3,244.5 551.7,249.7 549.6,254.9 548.7,260.1 549.7,265.3 549.5,270.5 551.1,275.7 552.1,280.9" fill="none" stroke="#0b2a8a" stroke-width="1.5" stroke-linecap="round" stroke-linejoin="round"/><polyline points="549.5,270.5 547.6,269.0 545.4,267.4 543.5,265.4" fill="none" stroke="#0b2a8a" stroke-width="1.5" stroke-linecap="round" stroke-linejoin="round"/><polyline points="549.7,265.3 545.5,263.1 541.4,259.4 537.3,256.9" fill="none" stroke="#0b2a8a" stroke-width="1.5" stroke-linecap="round" stroke-linejoin="round"/><polyline points="548.7,260.1 550.3,258.1 552.0,257.1 553.5,256.0" fill="none" stroke="#0b2a8a" stroke-width="1.5" stroke-linecap="round" stroke-linejoin="round"/><polyline points="569.1,239.9 568.1,245.1 568.9,250.3 570.5,255.5 568.2,260.7 569.9,265.9 567.1,271.1 566.8,276.3" fill="none" stroke="#0b2a8a" stroke-width="1.5" stroke-linecap="round" stroke-linejoin="round"/><polyline points="568.2,260.7 571.2,257.3 574.3,254.8 578.0,250.8" fill="none" stroke="#0b2a8a" stroke-width="1.5" stroke-linecap="round" stroke-linejoin="round"/><polyline points="579.9,233.1 580.4,238.9 581.0,241.9 582.4,244.7 582.8,247.8 584.2,250.5 586.3,253.1 587.0,256.3 585.5,262.1" fill="none" stroke="#0b2a8a" stroke-width="1.5" stroke-linecap="round" stroke-linejoin="round"/><polyline points="580.4,238.9 578.7,236.6 575.8,235.1 574.1,232.9" fill="none" stroke="#0b2a8a" stroke-width="1.5" stroke-linecap="round" stroke-linejoin="round"/><polyline points="587.0,256.3 590.3,254.5 594.0,252.5 596.5,250.7" fill="none" stroke="#0b2a8a" stroke-width="1.5" stroke-linecap="round" stroke-linejoin="round"/><polyline points="598.0,233.5 598.1,239.4 597.3,245.2 597.3,251.0" fill="none" stroke="#0b2a8a" stroke-width="1.5" stroke-linecap="round" stroke-linejoin="round"/><polyline points="597.3,245.2 595.4,244.3 593.4,243.1 591.7,241.4" fill="none" stroke="#0b2a8a" stroke-width="1.5" stroke-linecap="round" stroke-linejoin="round"/><polyline points="611.8,237.1 612.6,240.2 613.6,243.1 615.1,246.1 616.2,249.2 617.7,252.1 618.6,255.2 618.2,258.3 617.2,261.3" fill="none" stroke="#0b2a8a" stroke-width="1.5" stroke-linecap="round" stroke-linejoin="round"/><polyline points="616.2,249.2 618.2,247.3 620.0,246.0 621.0,245.0" fill="none" stroke="#0b2a8a" stroke-width="1.5" stroke-linecap="round" stroke-linejoin="round"/><polyline points="618.6,255.2 614.4,251.6 611.3,249.3 608.1,246.8" fill="none" stroke="#0b2a8a" stroke-width="1.5" stroke-linecap="round" stroke-linejoin="round"/><polyline points="618.6,255.2 621.8,252.7 623.5,250.1 626.2,247.7" fill="none" stroke="#0b2a8a" stroke-width="1.5" stroke-linecap="round" stroke-linejoin="round"/><polyline points="613.6,243.1 615.8,240.2 618.2,237.1 621.0,235.3" fill="none" stroke="#0b2a8a" stroke-width="1.5" stroke-linecap="round" stroke-linejoin="round"/><polyline points="631.0,233.9 631.7,239.5 631.7,245.2 630.8,248.2 629.2,250.9 630.7,256.5" fill="none" stroke="#0b2a8a" stroke-width="1.5" stroke-linecap="round" stroke-linejoin="round"/><polyline points="631.7,245.2 629.5,243.0 627.3,240.4 624.9,239.0" fill="none" stroke="#0b2a8a" stroke-width="1.5" stroke-linecap="round" stroke-linejoin="round"/><polyline points="629.2,250.9 626.8,246.8 623.9,243.8 621.0,239.5" fill="none" stroke="#0b2a8a" stroke-width="1.5" stroke-linecap="round" stroke-linejoin="round"/><polyline points="631.7,239.5 634.6,236.9 637.6,234.1 640.2,231.0" fill="none" stroke="#0b2a8a" stroke-width="1.5" stroke-linecap="round" stroke-linejoin="round"/><polyline points="656.0,233.1 654.9,238.6 654.4,244.1 655.8,249.5 655.5,255.0 657.0,260.5 657.7,266.0" fill="none" stroke="#0b2a8a" stroke-width="1.5" stroke-linecap="round" stroke-linejoin="round"/><polyline points="654.9,238.6 653.4,237.6 651.5,236.3 650.4,234.6" fill="none" stroke="#0b2a8a" stroke-width="1.5" stroke-linecap="round" stroke-linejoin="round"/><polyline points="655.8,249.5 658.5,246.9 660.2,245.5 663.0,243.5" fill="none" stroke="#0b2a8a" stroke-width="1.5" stroke-linecap="round" stroke-linejoin="round"/><polyline points="655.8,249.5 657.2,248.4 659.2,246.1 660.7,243.9" fill="none" stroke="#0b2a8a" stroke-width="1.5" stroke-linecap="round" stroke-linejoin="round"/><polyline points="654.9,238.6 652.2,236.7 650.8,235.2 649.2,233.1" fill="none" stroke="#0b2a8a" stroke-width="1.5" stroke-linecap="round" stroke-linejoin="round"/><polyline points="673.2,257.8 674.2,261.0 674.1,264.3 675.8,267.3 676.6,270.8 678.4,273.8 679.0,277.2" fill="none" stroke="#0b2a8a" stroke-width="1.5" stroke-linecap="round" stroke-linejoin="round"/><polyline points="676.6,270.8 679.8,268.7 682.7,266.4 684.7,263.7" fill="none" stroke="#0b2a8a" stroke-width="1.5" stroke-linecap="round" stroke-linejoin="round"/><polyline points="683.8,246.6 684.4,251.9 683.1,257.1 685.3,262.4 686.6,267.6 686.3,272.9" fill="none" stroke="#0b2a8a" stroke-width="1.5" stroke-linecap="round" stroke-linejoin="round"/><polyline points="686.6,267.6 684.2,265.0 680.1,261.6 675.5,258.7" fill="none" stroke="#0b2a8a" stroke-width="1.5" stroke-linecap="round" stroke-linejoin="round"/><polyline points="685.3,262.4 688.0,259.9 689.9,257.4 691.9,255.4" fill="none" stroke="#0b2a8a" stroke-width="1.5" stroke-linecap="round" stroke-linejoin="round"/><polyline points="686.6,267.6 684.4,266.5 682.6,264.8 680.9,263.4" fill="none" stroke="#0b2a8a" stroke-width="1.5" stroke-linecap="round" stroke-linejoin="round"/><polyline points="701.8,235.4 701.9,240.8 702.8,246.2 703.6,251.7" fill="none" stroke="#0b2a8a" stroke-width="1.5" stroke-linecap="round" stroke-linejoin="round"/><polyline points="702.8,246.2 704.2,244.6 705.9,242.8 707.2,240.8" fill="none" stroke="#0b2a8a" stroke-width="1.5" stroke-linecap="round" stroke-linejoin="round"/><polyline points="715.0,230.4 715.0,235.8 716.6,241.2 714.6,246.5 714.4,251.9" fill="none" stroke="#0b2a8a" stroke-width="1.5" stroke-linecap="round" stroke-linejoin="round"/><polyline points="716.6,241.2 713.6,239.7 711.0,237.9 708.0,235.1" fill="none" stroke="#0b2a8a" stroke-width="1.5" stroke-linecap="round" stroke-linejoin="round"/><polyline points="716.6,241.2 713.9,238.0 711.3,236.1 707.7,234.5" fill="none" stroke="#0b2a8a" stroke-width="1.5" stroke-linecap="round" stroke-linejoin="round"/><polyline points="715.0,235.8 712.2,233.4 708.9,231.3 705.2,227.4" fill="none" stroke="#0b2a8a" stroke-width="1.5" stroke-linecap="round" stroke-linejoin="round"/><polyline points="740.3,267.6 738.8,273.0 741.2,278.4 741.4,283.8 743.5,289.2 744.3,294.6 745.0,299.9" fill="none" stroke="#0b2a8a" stroke-width="1.5" stroke-linecap="round" stroke-linejoin="round"/><polyline points="738.8,273.0 736.6,270.1 732.9,267.4 729.4,264.6" fill="none" stroke="#0b2a8a" stroke-width="1.5" stroke-linecap="round" stroke-linejoin="round"/><rect x="556.4" y="273.4" width="1.4" height="1.4" fill="#0b2a8a"/><rect x="674.0" y="277.5" width="1.4" height="1.4" fill="#0b2a8a"/><rect x="491.7" y="256.5" width="1.4" height="1.4" fill="#0b2a8a"/><rect x="553.3" y="266.7" width="1.4" height="1.4" fill="#0b2a8a"/><rect x="523.3" y="255.8" width="1.4" height="1.4" fill="#0b2a8a"/><rect x="434.5" y="240.8" width="1.4" height="1.4" fill="#0b2a8a"/><rect x="705.4" y="270.0" width="1.4" height="1.4" fill="#0b2a8a"/><rect x="608.8" y="259.3" width="1.4" height="1.4" fill="#0b2a8a"/><rect x="533.7" y="252.1" width="1.4" height="1.4" fill="#0b2a8a"/><rect x="643.8" y="257.9" width="1.4" height="1.4" fill="#0b2a8a"/><rect x="480.8" y="260.6" width="1.4" height="1.4" fill="#0b2a8a"/><rect x="498.9" y="270.6" width="1.4" height="1.4" fill="#0b2a8a"/><rect x="602.5" y="274.8" width="1.4" height="1.4" fill="#0b2a8a"/><rect x="606.2" y="251.8" width="1.4" height="1.4" fill="#0b2a8a"/><rect x="637.9" y="257.1" width="1.4" height="1.4" fill="#0b2a8a"/><rect x="524.1" y="248.4" width="1.4" height="1.4" fill="#0b2a8a"/><rect x="393.8" y="219.4" width="1.4" height="1.4" fill="#0b2a8a"/><rect x="377.3" y="218.3" width="1.4" height="1.4" fill="#0b2a8a"/><rect x="689.1" y="293.9" width="1.4" height="1.4" fill="#0b2a8a"/><rect x="529.8" y="249.8" width="1.4" height="1.4" fill="#0b2a8a"/><rect x="501.1" y="235.8" width="1.4" height="1.4" fill="#0b2a8a"/><rect x="453.1" y="244.8" width="1.4" height="1.4" fill="#0b2a8a"/><rect x="602.1" y="245.6" width="1.4" height="1.4" fill="#0b2a8a"/><rect x="553.9" y="269.1" width="1.4" height="1.4" fill="#0b2a8a"/><rect x="520.4" y="247.1" width="1.4" height="1.4" fill="#0b2a8a"/><rect x="518.7" y="245.4" width="1.4" height="1.4" fill="#0b2a8a"/><rect x="627.9" y="271.0" width="1.4" height="1.4" fill="#0b2a8a"/><rect x="606.5" y="261.1" width="1.4" height="1.4" fill="#0b2a8a"/><rect x="728.9" y="259.8" width="1.4" height="1.4" fill="#0b2a8a"/><rect x="448.0" y="234.4" width="1.4" height="1.4" fill="#0b2a8a"/><rect x="712.4" y="245.3" width="1.4" height="1.4" fill="#0b2a8a"/><rect x="656.8" y="283.0" width="1.4" height="1.4" fill="#0b2a8a"/><rect x="689.8" y="272.2" width="1.4" height="1.4" fill="#0b2a8a"/><rect x="539.9" y="284.7" width="1.4" height="1.4" fill="#0b2a8a"/><rect x="636.9" y="279.0" width="1.4" height="1.4" fill="#0b2a8a"/><rect x="438.5" y="241.9" width="1.4" height="1.4" fill="#0b2a8a"/><rect x="647.4" y="254.7" width="1.4" height="1.4" fill="#0b2a8a"/><rect x="449.3" y="253.3" width="1.4" height="1.4" fill="#0b2a8a"/><rect x="583.9" y="261.3" width="1.4" height="1.4" fill="#0b2a8a"/><rect x="553.2" y="262.6" width="1.4" height="1.4" fill="#0b2a8a"/><rect x="464.5" y="225.9" width="1.4" height="1.4" fill="#0b2a8a"/><rect x="521.9" y="247.7" width="1.4" height="1.4" fill="#0b2a8a"/><rect x="706.5" y="279.6" width="1.4" height="1.4" fill="#0b2a8a"/><rect x="592.5" y="246.1" width="1.4" height="1.4" fill="#0b2a8a"/><rect x="595.3" y="250.4" width="1.4" height="1.4" fill="#0b2a8a"/><rect x="510.6" y="242.4" width="1.4" height="1.4" fill="#0b2a8a"/><rect x="557.5" y="253.6" width="1.4" height="1.4" fill="#0b2a8a"/><rect x="476.4" y="230.8" width="1.4" height="1.4" fill="#0b2a8a"/><rect x="545.9" y="290.6" width="1.4" height="1.4" fill="#0b2a8a"/><rect x="587.9" y="274.4" width="1.4" height="1.4" fill="#0b2a8a"/><rect x="642.6" y="267.7" width="1.4" height="1.4" fill="#0b2a8a"/><rect x="397.3" y="208.2" width="1.4" height="1.4" fill="#0b2a8a"/><rect x="422.2" y="231.9" width="1.4" height="1.4" fill="#0b2a8a"/><rect x="498.7" y="268.4" width="1.4" height="1.4" fill="#0b2a8a"/><rect x="446.4" y="225.0" width="1.4" height="1.4" fill="#0b2a8a"/><rect x="611.1" y="269.6" width="1.4" height="1.4" fill="#0b2a8a"/><rect x="391.8" y="217.6" width="1.4" height="1.4" fill="#0b2a8a"/><rect x="537.7" y="281.2" width="1.4" height="1.4" fill="#0b2a8a"/><rect x="662.6" y="289.8" width="1.4" height="1.4" fill="#0b2a8a"/><rect x="571.8" y="285.1" width="1.4" height="1.4" fill="#0b2a8a"/></g><path d="M169.2,152.7 L169.4,150.0 L171.2,148.0 L173.6,146.3 L175.3,143.9 L176.6,141.3 L177.8,138.3 L180.0,135.9 L179.0,132.9 L178.0,129.9 L175.1,130.7 L172.1,130.9 L169.2,131.9 L166.2,132.9 L164.3,135.8 L161.2,136.6 L158.4,137.3 L155.8,135.9 L153.3,137.4 L151.8,139.9 L149.2,141.4 L146.2,142.0 L143.8,143.9 L140.2,144.4 L137.1,142.6 L134.4,139.9 L134.7,137.2 L135.8,134.6 L135.7,131.9 L134.7,129.3 L135.0,126.5 L137.0,124.2 L137.1,121.2 L138.4,118.5 L140.9,117.9 L142.4,115.8 L144.5,114.1 L146.8,113.4 L149.5,113.9 L151.8,113.1 L154.3,112.0 L155.2,109.3 L157.2,107.7 L154.5,108.4 L151.8,107.7 L149.1,105.1 L149.2,102.4 L148.5,99.6 L149.8,97.0 L152.0,95.5 L154.7,95.1 L157.2,94.3 L159.8,93.0 L162.5,91.7 L165.2,89.0 L167.2,87.5 L169.4,86.6 L171.9,86.3 L175.1,85.0 L178.6,85.0 L180.6,83.6 L182.4,81.9 L184.1,80.0 L186.7,79.6 L189.1,78.9 L190.8,77.0 L192.9,75.8 L194.7,74.2 L197.4,73.6 L198.7,75.8 L198.7,78.3 L199.7,80.9 L201.7,82.4 L204.1,83.6 L206.7,82.4 L209.5,83.0 L210.5,80.5 L212.1,78.3 L213.6,76.2 L214.6,73.8 L216.1,71.7 L216.2,68.9 L217.8,66.6 L220.3,64.9 L221.5,62.2 L224.0,60.5 L225.7,57.8 L228.2,56.1 L230.3,54.8 L232.8,53.8 L234.7,52.2 L236.3,50.1 L238.5,49.2 L240.8,48.5 L243.0,47.4 L245.4,45.6 L248.2,45.2 L251.2,45.6 L253.7,44.1 L256.1,43.6 L258.5,42.8 L261.0,43.4 L263.4,43.4 L265.8,42.7 L268.9,42.9 L272.0,42.0 L275.1,42.1 L277.8,42.0 L280.5,42.1 L283.2,40.8 L285.9,39.4 L288.8,38.9 L291.3,37.2 L293.9,36.0 L297.1,36.0 L300.2,36.4 L303.3,36.7 L306.3,36.6 L309.0,37.5 L311.3,39.4 L312.2,41.9 L313.0,44.4 L315.3,46.1 L317.2,48.3 L319.4,50.1 L320.3,52.4 L321.4,54.6 L321.3,57.2 L322.0,59.5 L322.9,62.3 L325.0,64.0 L327.2,65.7 L329.6,65.8 L332.0,66.5 L334.5,65.1 L336.9,65.7 L339.3,65.7 L340.1,68.4 L342.4,69.8 L344.1,71.7 L346.5,72.3 L349.1,72.6 L351.3,74.0 L353.5,75.6 L356.2,75.3 L358.4,73.8 L361.1,75.1 L363.6,74.7 L366.0,74.5 L368.4,73.7 L370.8,73.4 L373.1,72.3 L375.5,73.4 L377.8,74.5 L380.4,75.3 L382.7,76.5 L384.2,78.7 L382.8,81.5 L384.0,83.8 L385.3,86.0 L385.1,88.6 L386.9,90.4 L388.8,92.2 L390.8,93.8 L392.4,95.8 L394.9,96.5 L397.2,97.8 L399.5,99.0 L401.9,100.0 L404.4,100.7 L406.8,100.4 L409.1,99.1 L411.6,99.4 L414.0,99.0 L416.5,99.5 L418.2,101.4 L420.1,103.1 L422.8,103.1 L425.1,102.2 L427.6,101.3 L430.0,100.6 L432.0,98.6 L434.6,98.3 L437.0,99.1 L439.4,98.7 L441.9,97.3 L444.3,97.2 L446.7,98.3 L448.9,96.8 L451.6,98.1 L453.8,96.6 L456.2,95.9 L458.7,96.4 L461.1,97.0 L463.6,96.7 L466.1,96.4 L468.4,97.7 L470.7,99.2 L471.7,101.8 L474.0,103.3 L475.5,105.5 L476.8,107.9 L477.1,110.5 L478.5,112.7 L479.2,115.1 L477.7,117.8 L475.6,120.0 L472.9,120.1 L470.2,121.1 L467.5,120.3 L464.8,120.0 L463.1,121.9 L461.1,123.6 L458.8,124.6 L456.4,125.1 L453.8,123.6 L451.5,124.8 L451.1,127.2 L451.4,129.7 L450.3,132.0 L453.2,134.1 L456.3,135.7 L453.4,137.1 L452.2,140.5 L449.1,141.7 L451.3,143.6 L452.2,146.1 L452.7,148.9 L454.5,150.8 L457.4,151.3 L458.7,153.9 L461.1,155.0 L462.8,157.3 L465.1,159.1 L467.2,161.0 L468.3,163.3 L467.1,166.1 L468.0,168.4 L469.1,170.7 L469.6,173.1 L471.4,175.6 L471.7,178.8 L473.2,181.5 L472.2,184.6 L470.8,187.5 L473.5,188.9 L476.4,189.6 L478.9,191.4 L481.7,192.4 L484.2,193.0 L485.8,194.9 L486.8,197.6 L488.9,198.9 L491.3,199.6 L490.1,202.0 L489.1,204.4 L486.7,205.9 L486.0,208.5 L487.5,210.6 L489.3,212.7 L491.6,213.8 L494.7,213.1 L497.0,214.3 L498.8,216.3 L500.7,218.1 L503.0,219.0 L505.3,220.0 L508.0,220.4 L510.0,221.9 L512.2,223.3 L514.6,224.5 L517.0,225.6 L519.4,226.6 L522.0,226.8 L524.2,228.3 L526.5,229.1 L528.8,230.3 L531.3,230.8 L533.8,231.4 L536.3,230.3 L537.0,232.8 L539.2,234.1 L540.9,235.9 L542.7,237.5 L543.8,239.7 L546.4,238.0 L549.2,237.2 L552.3,237.5 L555.1,236.9 L557.5,235.6 L560.0,234.8 L562.6,234.1 L565.6,234.5 L568.2,233.2 L571.0,232.8 L573.8,232.2 L576.8,231.0 L579.8,229.9 L583.2,230.3 L585.4,229.2 L587.7,228.1 L590.3,228.2 L592.6,227.5 L595.5,229.3 L598.8,229.2 L602.0,229.4 L605.2,229.0 L608.2,230.9 L611.4,230.3 L614.3,230.5 L617.1,229.9 L619.9,229.9 L622.6,228.5 L625.3,229.5 L628.1,230.1 L631.1,229.5 L633.9,230.3 L636.9,231.7 L640.1,232.0 L643.3,231.3 L645.9,229.8 L649.0,230.5 L651.8,229.7 L654.5,228.5 L656.4,230.0 L658.2,231.7 L660.1,233.2 L661.1,235.5 L661.1,238.2 L662.9,240.2 L663.9,242.5 L663.8,245.2 L665.5,247.4 L665.8,250.0 L668.3,251.8 L671.4,251.9 L674.1,249.6 L675.2,246.3 L677.6,244.4 L680.3,242.7 L682.7,240.7 L685.8,240.7 L688.5,239.3 L691.1,237.8 L693.9,236.9 L694.6,234.1 L696.1,231.7 L697.7,229.4 L700.4,228.9 L702.4,226.8 L705.5,227.5 L707.5,225.2 L710.5,225.6 L712.7,223.8 L715.3,223.7 L717.6,225.5 L720.1,225.2 L722.7,225.1 L725.2,225.4 L727.7,225.7 L728.3,228.6 L729.4,231.4 L731.0,234.0 L731.5,236.9 L733.2,239.3 L733.7,242.2 L733.9,245.2 L735.7,247.5 L737.1,250.0 L738.9,252.0 L738.3,255.0 L739.4,257.2 L740.0,259.7 L742.4,261.5 L742.2,264.3 L744.6,266.1 L744.6,268.8 L748.3,278.2 L748.3,285.7 L744.6,287.6 L723.9,293.2 L686.4,301.7 L648.9,306.3 L611.4,308.2 L573.8,307.3 L536.3,304.5 L498.8,300.7 L479.0,296.4 L433.5,285.0 L387.9,271.3 L365.1,264.5 L360.5,257.6 L358.3,244.0 L360.5,232.6 L365.1,225.7 L367.4,216.6 L360.5,206.0 L351.0,206.0 L342.0,207.5 L334.0,209.5 L320.0,201.5 L308.0,196.0 L285.3,184.7 L251.2,169.9 L205.6,157.3 L169.2,152.7Z" fill="none" stroke="#111" stroke-width="1.5" stroke-linejoin="round"/><polyline points="360.5,204.0 361.7,201.3 363.6,199.0 365.0,196.5 367.2,194.4 369.8,192.6 372.0,190.5 374.7,189.7 377.1,187.9 380.0,187.5 382.7,186.8 385.3,188.0 388.0,187.5 390.8,188.4 393.5,189.5 396.0,191.0 398.9,190.8 401.3,189.3 404.0,188.5 406.8,187.1 409.0,185.0 410.9,187.1 412.6,189.4 415.0,191.1 416.5,193.5 418.8,194.7 421.1,196.0 423.6,196.5 426.0,197.5 428.3,198.7 430.7,199.5 433.4,199.6 435.5,201.4 438.0,202.0 441.0,205.5 444.5,205.1 448.0,204.5 450.6,204.7 453.1,204.9 455.4,206.5 458.0,206.5 460.4,206.4 462.8,206.6 465.2,206.7 467.6,206.4 470.0,206.0 472.4,206.7 474.8,206.1 477.2,206.7 479.6,206.3 482.0,206.5 486.0,208.5" fill="none" stroke="#000" stroke-width="3" stroke-linejoin="round"/></g>
<g transform="translate(534,175.5) scale(1.000)">
<path d="M28,14 L10,1 L13,9 L18,19 L14,26 L0,36 L8,35 L28,27 Z" fill="#8f6f72"/>
<path d="M66,11 L70,2 L84,4 L100,12 Z" fill="#9c7c7e"/>
<path d="M42,30 L50,29 L58,36 L46,41 Z" fill="#9c7c7e"/>
<path d="M70,37 L86,38 L84,45 L68,44 Z" fill="#d98c6a"/>
<path d="M25,14 C40,12.5 55,11.5 68,11 C90,10.5 115,11 138,14 C148,16 154,19 154,21 C150,25 144,28 138,29 C125,35 115,40 106,41.5 C90,40 75,38.5 60,35 C45,31 35,29 25,27 Z" fill="url(#gSnow)"/>
<circle cx="80.2" cy="25.0" r="0.94" fill="#5a4a48"/><circle cx="81.6" cy="24.0" r="0.76" fill="#5a4a48"/><circle cx="53.5" cy="22.4" r="0.78" fill="#5a4a48"/><circle cx="114.3" cy="15.9" r="0.61" fill="#5a4a48"/><circle cx="44.1" cy="26.4" r="0.81" fill="#5a4a48"/><circle cx="39.2" cy="28.4" r="0.96" fill="#5a4a48"/><circle cx="100.4" cy="27.5" r="0.53" fill="#5a4a48"/><circle cx="36.5" cy="21.6" r="0.48" fill="#5a4a48"/><circle cx="54.0" cy="18.0" r="0.47" fill="#5a4a48"/><circle cx="81.4" cy="22.7" r="0.89" fill="#5a4a48"/><circle cx="86.9" cy="27.1" r="0.71" fill="#5a4a48"/><circle cx="101.2" cy="24.0" r="0.60" fill="#5a4a48"/><circle cx="134.8" cy="31.8" r="0.89" fill="#5a4a48"/><circle cx="105.8" cy="20.7" r="0.57" fill="#5a4a48"/><circle cx="63.9" cy="15.2" r="0.85" fill="#5a4a48"/><circle cx="75.0" cy="30.1" r="0.65" fill="#5a4a48"/><circle cx="130.8" cy="29.5" r="0.45" fill="#5a4a48"/><circle cx="56.0" cy="29.2" r="0.70" fill="#5a4a48"/><circle cx="133.0" cy="21.2" r="0.49" fill="#5a4a48"/><circle cx="97.9" cy="30.9" r="0.59" fill="#5a4a48"/><circle cx="43.7" cy="19.1" r="0.96" fill="#5a4a48"/><circle cx="110.8" cy="16.4" r="0.58" fill="#5a4a48"/>
<path d="M137,15 C140,21 140,26 135,31" stroke="#9a8680" stroke-width="1.6" fill="none"/>
<circle cx="147" cy="19" r="1.7" fill="#3a3a3a"/>
</g>
<g transform="translate(531.5,344) scale(1.000)">
<path d="M28,14 L10,1 L13,9 L18,19 L14,26 L0,36 L8,35 L28,27 Z" fill="#8f6f72"/>
<path d="M66,11 L70,2 L84,4 L100,12 Z" fill="#9c7c7e"/>
<path d="M42,30 L50,29 L58,36 L46,41 Z" fill="#9c7c7e"/>
<path d="M70,37 L86,38 L84,45 L68,44 Z" fill="#d98c6a"/>
<path d="M25,14 C40,12.5 55,11.5 68,11 C90,10.5 115,11 138,14 C148,16 154,19 154,21 C150,25 144,28 138,29 C125,35 115,40 106,41.5 C90,40 75,38.5 60,35 C45,31 35,29 25,27 Z" fill="url(#gSnow)"/>
<circle cx="82.5" cy="27.1" r="0.80" fill="#5a4a48"/><circle cx="49.3" cy="14.2" r="0.65" fill="#5a4a48"/><circle cx="62.4" cy="28.2" r="0.81" fill="#5a4a48"/><circle cx="95.1" cy="26.0" r="0.80" fill="#5a4a48"/><circle cx="49.5" cy="21.0" r="0.54" fill="#5a4a48"/><circle cx="125.6" cy="15.1" r="0.88" fill="#5a4a48"/><circle cx="42.5" cy="24.4" r="0.63" fill="#5a4a48"/><circle cx="75.5" cy="30.1" r="0.46" fill="#5a4a48"/><circle cx="41.1" cy="27.7" r="0.72" fill="#5a4a48"/><circle cx="44.1" cy="29.1" r="0.95" fill="#5a4a48"/><circle cx="46.3" cy="20.6" r="0.52" fill="#5a4a48"/><circle cx="66.3" cy="25.2" r="0.54" fill="#5a4a48"/><circle cx="104.7" cy="15.1" r="0.54" fill="#5a4a48"/><circle cx="116.6" cy="22.0" r="0.67" fill="#5a4a48"/><circle cx="94.6" cy="24.2" r="0.65" fill="#5a4a48"/><circle cx="38.0" cy="24.6" r="0.96" fill="#5a4a48"/><circle cx="132.6" cy="26.0" r="0.64" fill="#5a4a48"/><circle cx="71.3" cy="26.8" r="0.80" fill="#5a4a48"/><circle cx="46.4" cy="17.7" r="0.64" fill="#5a4a48"/><circle cx="86.1" cy="30.5" r="0.71" fill="#5a4a48"/><circle cx="37.8" cy="26.0" r="0.68" fill="#5a4a48"/><circle cx="86.9" cy="18.5" r="0.67" fill="#5a4a48"/>
<path d="M137,15 C140,21 140,26 135,31" stroke="#9a8680" stroke-width="1.6" fill="none"/>
<circle cx="147" cy="19" r="1.7" fill="#3a3a3a"/>
</g>
<g transform="translate(540.5,411.7) scale(1.000)">
<path d="M0,0 L24,10 L24,24 L0,31 L3,16 Z" fill="#8a8664"/>
<path d="M62,2 L71,-7 L84,-2 L87,2 Z" fill="#a4908a"/>
<path d="M35,23 L50,25 L48,35 L36,34 Z" fill="#c9a0a4"/>
<path d="M72,28 L84,28 L82,38 L73,37 Z" fill="#c9a0a4"/>
<path d="M20,11 C35,8 50,3 64,1 C85,1 105,2 115,4 C128,6 137,10 144,17 C140,21 134,22 130,23 C120,26 108,27 95,28.5 C80,29 60,28 45,26 C35,25 28,24 20,22 Z" fill="url(#gRain)"/>
<circle cx="49.4" cy="17.0" r="0.76" fill="#4a4530"/><circle cx="107.2" cy="9.0" r="0.53" fill="#4a4530"/><circle cx="38.4" cy="9.6" r="0.78" fill="#4a4530"/><circle cx="36.8" cy="14.5" r="0.52" fill="#4a4530"/><circle cx="52.9" cy="12.9" r="0.83" fill="#4a4530"/><circle cx="83.6" cy="6.2" r="0.56" fill="#4a4530"/><circle cx="38.4" cy="19.9" r="0.82" fill="#4a4530"/><circle cx="103.0" cy="19.2" r="0.78" fill="#4a4530"/><circle cx="117.0" cy="18.7" r="0.55" fill="#4a4530"/><circle cx="107.3" cy="13.8" r="0.79" fill="#4a4530"/><circle cx="79.3" cy="12.9" r="0.60" fill="#4a4530"/><circle cx="66.1" cy="11.0" r="0.48" fill="#4a4530"/><circle cx="104.3" cy="18.8" r="0.90" fill="#4a4530"/><circle cx="91.7" cy="14.9" r="0.79" fill="#4a4530"/><circle cx="37.2" cy="16.8" r="0.64" fill="#4a4530"/><circle cx="41.3" cy="9.2" r="0.68" fill="#4a4530"/><circle cx="48.8" cy="13.4" r="0.72" fill="#4a4530"/><circle cx="62.8" cy="8.1" r="0.66" fill="#4a4530"/><circle cx="47.1" cy="9.8" r="0.52" fill="#4a4530"/><circle cx="59.9" cy="7.2" r="0.74" fill="#4a4530"/><circle cx="117.5" cy="12.2" r="0.77" fill="#4a4530"/><circle cx="115.4" cy="6.7" r="0.49" fill="#4a4530"/><circle cx="103.0" cy="19.4" r="0.73" fill="#4a4530"/><circle cx="39.7" cy="12.6" r="0.85" fill="#4a4530"/><circle cx="110.8" cy="18.9" r="0.52" fill="#4a4530"/><circle cx="107.7" cy="12.0" r="0.77" fill="#4a4530"/><circle cx="37.4" cy="21.5" r="0.72" fill="#4a4530"/><circle cx="94.8" cy="9.4" r="0.72" fill="#4a4530"/><circle cx="80.9" cy="15.5" r="0.60" fill="#4a4530"/><circle cx="95.3" cy="11.5" r="0.56" fill="#4a4530"/><circle cx="40.1" cy="16.9" r="0.48" fill="#4a4530"/><circle cx="46.1" cy="7.1" r="0.74" fill="#4a4530"/><circle cx="78.5" cy="14.7" r="0.44" fill="#4a4530"/><circle cx="67.1" cy="11.5" r="0.47" fill="#4a4530"/><circle cx="24.3" cy="22.0" r="0.48" fill="#4a4530"/><circle cx="53.5" cy="10.3" r="0.71" fill="#4a4530"/><circle cx="31.6" cy="13.5" r="0.60" fill="#4a4530"/><circle cx="105.8" cy="6.1" r="0.58" fill="#4a4530"/><circle cx="72.7" cy="21.5" r="0.67" fill="#4a4530"/><circle cx="70.5" cy="16.7" r="0.57" fill="#4a4530"/><circle cx="27.1" cy="14.0" r="0.87" fill="#4a4530"/><circle cx="96.4" cy="10.1" r="0.76" fill="#4a4530"/><circle cx="107.2" cy="10.1" r="0.71" fill="#4a4530"/><circle cx="58.8" cy="9.9" r="0.56" fill="#4a4530"/><circle cx="44.0" cy="11.6" r="0.44" fill="#4a4530"/>
<ellipse cx="124" cy="18" rx="6" ry="5" fill="#d88ea4"/>
<circle cx="135" cy="15" r="1.4" fill="#333"/>
</g>
<g transform="translate(536.3,614.5) scale(1.000)">
<path d="M28,14 L10,1 L13,9 L18,19 L14,26 L0,36 L8,35 L28,27 Z" fill="#8f6f72"/>
<path d="M66,11 L70,2 L84,4 L100,12 Z" fill="#9c7c7e"/>
<path d="M42,30 L50,29 L58,36 L46,41 Z" fill="#9c7c7e"/>
<path d="M70,37 L86,38 L84,45 L68,44 Z" fill="#d98c6a"/>
<path d="M25,14 C40,12.5 55,11.5 68,11 C90,10.5 115,11 138,14 C148,16 154,19 154,21 C150,25 144,28 138,29 C125,35 115,40 106,41.5 C90,40 75,38.5 60,35 C45,31 35,29 25,27 Z" fill="url(#gSnow)"/>
<circle cx="45.7" cy="24.9" r="0.79" fill="#5a4a48"/><circle cx="129.0" cy="19.0" r="0.58" fill="#5a4a48"/><circle cx="108.4" cy="27.8" r="0.61" fill="#5a4a48"/><circle cx="103.4" cy="22.6" r="0.86" fill="#5a4a48"/><circle cx="46.8" cy="17.5" r="0.92" fill="#5a4a48"/><circle cx="70.8" cy="18.8" r="0.87" fill="#5a4a48"/><circle cx="98.2" cy="17.3" r="0.74" fill="#5a4a48"/><circle cx="101.4" cy="17.6" r="0.79" fill="#5a4a48"/><circle cx="47.3" cy="19.3" r="0.49" fill="#5a4a48"/><circle cx="55.4" cy="30.3" r="0.66" fill="#5a4a48"/><circle cx="134.0" cy="21.9" r="0.77" fill="#5a4a48"/><circle cx="122.3" cy="27.3" r="0.51" fill="#5a4a48"/><circle cx="93.9" cy="27.5" r="0.55" fill="#5a4a48"/><circle cx="44.5" cy="27.4" r="0.72" fill="#5a4a48"/><circle cx="54.4" cy="21.5" r="0.56" fill="#5a4a48"/><circle cx="114.8" cy="24.1" r="0.50" fill="#5a4a48"/><circle cx="116.8" cy="15.8" r="0.60" fill="#5a4a48"/><circle cx="37.8" cy="24.8" r="0.51" fill="#5a4a48"/><circle cx="87.6" cy="15.9" r="0.70" fill="#5a4a48"/><circle cx="103.5" cy="25.5" r="0.69" fill="#5a4a48"/><circle cx="83.5" cy="22.7" r="0.76" fill="#5a4a48"/><circle cx="44.5" cy="21.3" r="0.57" fill="#5a4a48"/>
<path d="M137,15 C140,21 140,26 135,31" stroke="#9a8680" stroke-width="1.6" fill="none"/>
<circle cx="147" cy="19" r="1.7" fill="#3a3a3a"/>
</g>
<g transform="translate(539.9,680.8) scale(1.000)">
<path d="M0,0 L24,9 L24,22 L0,30 L3,15 Z" fill="#cc9832"/>
<path d="M58,2 L65,-12 L84,-9 L88,0 Z" fill="#a89a62"/>
<path d="M28,22 L42,24 L40,35 L30,34 Z" fill="#d0a23e"/>
<path d="M70,26 L86,26 L82,33 L70,33 Z" fill="#d0a23e"/>
<path d="M20,9 C30,6 40,4 55,2 C70,0 90,0 110,3 C125,6 136,10 143,16 C139,20 133,22 125,24 C110,27 95,28 80,28 C60,27 40,25 20,21 Z" fill="url(#gBrown)"/>
<circle cx="126.4" cy="3.2" r="0.95" fill="#7a3f22"/><circle cx="41.6" cy="19.8" r="0.52" fill="#7a3f22"/><circle cx="117.3" cy="14.6" r="1.02" fill="#7a3f22"/><circle cx="130.0" cy="7.1" r="0.71" fill="#7a3f22"/><circle cx="99.4" cy="7.8" r="0.67" fill="#7a3f22"/><circle cx="49.0" cy="17.6" r="1.03" fill="#7a3f22"/><circle cx="108.7" cy="6.8" r="1.06" fill="#7a3f22"/><circle cx="78.7" cy="6.9" r="0.78" fill="#7a3f22"/><circle cx="69.1" cy="4.3" r="0.85" fill="#7a3f22"/><circle cx="62.8" cy="12.7" r="1.06" fill="#7a3f22"/><circle cx="92.8" cy="9.9" r="1.02" fill="#7a3f22"/><circle cx="129.5" cy="11.3" r="1.07" fill="#7a3f22"/><circle cx="27.0" cy="5.4" r="0.61" fill="#7a3f22"/><circle cx="123.5" cy="14.7" r="0.94" fill="#7a3f22"/><circle cx="55.1" cy="11.4" r="1.04" fill="#7a3f22"/><circle cx="35.5" cy="5.0" r="0.54" fill="#7a3f22"/><circle cx="74.2" cy="17.3" r="0.84" fill="#7a3f22"/><circle cx="67.2" cy="11.5" r="0.62" fill="#7a3f22"/><circle cx="124.6" cy="9.0" r="0.65" fill="#7a3f22"/><circle cx="57.7" cy="17.0" r="0.70" fill="#7a3f22"/><circle cx="120.0" cy="8.7" r="0.77" fill="#7a3f22"/><circle cx="32.8" cy="18.4" r="0.98" fill="#7a3f22"/><circle cx="74.8" cy="5.0" r="0.80" fill="#7a3f22"/><circle cx="64.5" cy="17.3" r="1.06" fill="#7a3f22"/><circle cx="102.8" cy="7.9" r="0.53" fill="#7a3f22"/><circle cx="118.9" cy="19.1" r="0.60" fill="#7a3f22"/><circle cx="77.5" cy="11.2" r="1.09" fill="#7a3f22"/><circle cx="29.5" cy="4.0" r="1.01" fill="#7a3f22"/><circle cx="84.8" cy="10.9" r="0.97" fill="#7a3f22"/><circle cx="87.3" cy="14.8" r="0.66" fill="#7a3f22"/><circle cx="33.9" cy="3.2" r="0.71" fill="#7a3f22"/><circle cx="93.1" cy="9.5" r="0.72" fill="#7a3f22"/><circle cx="89.9" cy="15.0" r="0.86" fill="#7a3f22"/><circle cx="57.7" cy="17.0" r="0.99" fill="#7a3f22"/><circle cx="118.8" cy="18.2" r="0.52" fill="#7a3f22"/><circle cx="95.3" cy="8.9" r="0.74" fill="#7a3f22"/><circle cx="79.4" cy="5.4" r="0.66" fill="#7a3f22"/><circle cx="128.6" cy="8.6" r="1.05" fill="#7a3f22"/><circle cx="96.9" cy="8.4" r="0.70" fill="#7a3f22"/><circle cx="88.5" cy="14.9" r="0.71" fill="#7a3f22"/><circle cx="31.2" cy="5.9" r="1.02" fill="#7a3f22"/><circle cx="101.5" cy="4.8" r="1.01" fill="#7a3f22"/><circle cx="85.5" cy="8.7" r="1.04" fill="#7a3f22"/><circle cx="38.5" cy="4.7" r="0.71" fill="#7a3f22"/><circle cx="102.5" cy="12.3" r="0.80" fill="#7a3f22"/><circle cx="120.2" cy="9.7" r="0.98" fill="#7a3f22"/><circle cx="25.5" cy="16.3" r="0.60" fill="#7a3f22"/><circle cx="93.8" cy="17.3" r="0.90" fill="#7a3f22"/><circle cx="85.8" cy="12.4" r="0.96" fill="#7a3f22"/><circle cx="63.7" cy="7.0" r="0.84" fill="#7a3f22"/><circle cx="79.6" cy="5.0" r="0.83" fill="#7a3f22"/><circle cx="74.0" cy="5.7" r="0.93" fill="#7a3f22"/><circle cx="106.7" cy="8.8" r="1.02" fill="#7a3f22"/><circle cx="128.7" cy="14.3" r="0.75" fill="#7a3f22"/><circle cx="53.6" cy="5.2" r="0.67" fill="#7a3f22"/>
<circle cx="133" cy="13" r="1.4" fill="#333"/>
</g>
<g transform="translate(1310,228) scale(1.039)">
<path d="M28,14 L10,1 L13,9 L18,19 L14,26 L0,36 L8,35 L28,27 Z" fill="#5e4a55"/>
<path d="M66,11 L70,2 L84,4 L100,12 Z" fill="#6a5660"/>
<path d="M42,30 L50,29 L58,36 L46,41 Z" fill="#6a5660"/>
<path d="M70,37 L86,38 L84,45 L68,44 Z" fill="#d8b89c"/>
<path d="M25,14 C40,12.5 55,11.5 68,11 C90,10.5 115,11 138,14 C148,16 154,19 154,21 C150,25 144,28 138,29 C125,35 115,40 106,41.5 C90,40 75,38.5 60,35 C45,31 35,29 25,27 Z" fill="url(#gRich)"/>
<circle cx="71.2" cy="22.9" r="0.67" fill="#8088a8"/><circle cx="79.7" cy="22.0" r="0.80" fill="#8088a8"/><circle cx="60.9" cy="25.0" r="0.46" fill="#8088a8"/><circle cx="65.2" cy="20.0" r="0.52" fill="#8088a8"/><circle cx="109.3" cy="20.5" r="0.86" fill="#8088a8"/><circle cx="130.6" cy="18.6" r="0.92" fill="#8088a8"/><circle cx="115.8" cy="27.4" r="0.46" fill="#8088a8"/><circle cx="80.7" cy="26.3" r="0.61" fill="#8088a8"/><circle cx="57.4" cy="19.2" r="0.59" fill="#8088a8"/><circle cx="113.8" cy="21.1" r="0.67" fill="#8088a8"/><circle cx="99.3" cy="34.8" r="0.60" fill="#8088a8"/><circle cx="39.4" cy="28.3" r="0.89" fill="#8088a8"/><circle cx="114.0" cy="24.6" r="0.57" fill="#8088a8"/><circle cx="50.5" cy="18.9" r="0.69" fill="#8088a8"/><circle cx="41.6" cy="24.5" r="0.83" fill="#8088a8"/><circle cx="36.3" cy="26.1" r="0.71" fill="#8088a8"/><circle cx="126.9" cy="22.9" r="0.87" fill="#8088a8"/><circle cx="80.4" cy="26.0" r="0.71" fill="#8088a8"/><circle cx="37.3" cy="16.1" r="0.57" fill="#8088a8"/><circle cx="75.6" cy="21.0" r="0.73" fill="#8088a8"/><circle cx="100.9" cy="22.8" r="0.62" fill="#8088a8"/><circle cx="86.1" cy="33.4" r="0.86" fill="#8088a8"/>
<path d="M137,15 C140,21 140,26 135,31" stroke="#9a8680" stroke-width="1.6" fill="none"/>
<circle cx="147" cy="19" r="1.7" fill="#3a3a3a"/>
</g>
<g transform="translate(1319,429.7) scale(0.981)">
<path d="M28,14 L10,1 L13,9 L18,19 L14,26 L0,36 L8,35 L28,27 Z" fill="#5e4a55"/>
<path d="M66,11 L70,2 L84,4 L100,12 Z" fill="#6a5660"/>
<path d="M42,30 L50,29 L58,36 L46,41 Z" fill="#6a5660"/>
<path d="M70,37 L86,38 L84,45 L68,44 Z" fill="#d8b89c"/>
<path d="M25,14 C40,12.5 55,11.5 68,11 C90,10.5 115,11 138,14 C148,16 154,19 154,21 C150,25 144,28 138,29 C125,35 115,40 106,41.5 C90,40 75,38.5 60,35 C45,31 35,29 25,27 Z" fill="url(#gRich)"/>
<circle cx="87.2" cy="30.5" r="0.95" fill="#8088a8"/><circle cx="64.0" cy="27.5" r="0.82" fill="#8088a8"/><circle cx="101.1" cy="16.4" r="0.46" fill="#8088a8"/><circle cx="73.4" cy="28.0" r="0.58" fill="#8088a8"/><circle cx="85.2" cy="20.4" r="0.89" fill="#8088a8"/><circle cx="129.5" cy="21.4" r="0.97" fill="#8088a8"/><circle cx="41.2" cy="26.1" r="0.91" fill="#8088a8"/><circle cx="50.1" cy="25.3" r="0.74" fill="#8088a8"/><circle cx="130.5" cy="17.9" r="0.73" fill="#8088a8"/><circle cx="123.2" cy="26.3" r="0.61" fill="#8088a8"/><circle cx="43.2" cy="28.3" r="0.70" fill="#8088a8"/><circle cx="134.6" cy="16.5" r="0.88" fill="#8088a8"/><circle cx="116.3" cy="32.4" r="0.46" fill="#8088a8"/><circle cx="72.2" cy="15.0" r="0.84" fill="#8088a8"/><circle cx="70.5" cy="31.7" r="0.65" fill="#8088a8"/><circle cx="112.4" cy="31.8" r="0.58" fill="#8088a8"/><circle cx="90.7" cy="34.0" r="0.73" fill="#8088a8"/><circle cx="71.0" cy="18.9" r="0.86" fill="#8088a8"/><circle cx="54.3" cy="24.0" r="0.74" fill="#8088a8"/><circle cx="90.3" cy="16.7" r="0.80" fill="#8088a8"/><circle cx="126.7" cy="20.0" r="0.62" fill="#8088a8"/><circle cx="125.9" cy="24.9" r="0.59" fill="#8088a8"/>
<path d="M137,15 C140,21 140,26 135,31" stroke="#9a8680" stroke-width="1.6" fill="none"/>
<circle cx="147" cy="19" r="1.7" fill="#3a3a3a"/>
</g>
<g transform="translate(1329.8,479.2) scale(0.986)">
<path d="M0,0 L24,10 L24,24 L0,31 L3,16 Z" fill="#8a8664"/>
<path d="M62,2 L71,-7 L84,-2 L87,2 Z" fill="#a4908a"/>
<path d="M35,23 L50,25 L48,35 L36,34 Z" fill="#c9a0a4"/>
<path d="M72,28 L84,28 L82,38 L73,37 Z" fill="#c9a0a4"/>
<path d="M20,11 C35,8 50,3 64,1 C85,1 105,2 115,4 C128,6 137,10 144,17 C140,21 134,22 130,23 C120,26 108,27 95,28.5 C80,29 60,28 45,26 C35,25 28,24 20,22 Z" fill="url(#gRain)"/>
<circle cx="41.8" cy="16.6" r="0.58" fill="#4a4530"/><circle cx="43.4" cy="13.8" r="0.66" fill="#4a4530"/><circle cx="71.0" cy="13.3" r="0.55" fill="#4a4530"/><circle cx="48.9" cy="17.1" r="0.58" fill="#4a4530"/><circle cx="90.1" cy="18.6" r="0.84" fill="#4a4530"/><circle cx="116.5" cy="9.8" r="0.54" fill="#4a4530"/><circle cx="96.0" cy="15.2" r="0.52" fill="#4a4530"/><circle cx="90.4" cy="20.0" r="0.83" fill="#4a4530"/><circle cx="45.2" cy="10.8" r="0.42" fill="#4a4530"/><circle cx="119.6" cy="9.5" r="0.78" fill="#4a4530"/><circle cx="76.7" cy="15.5" r="0.68" fill="#4a4530"/><circle cx="104.9" cy="15.6" r="0.57" fill="#4a4530"/><circle cx="35.3" cy="13.6" r="0.87" fill="#4a4530"/><circle cx="38.2" cy="16.9" r="0.73" fill="#4a4530"/><circle cx="39.7" cy="9.3" r="0.76" fill="#4a4530"/><circle cx="66.8" cy="12.5" r="0.66" fill="#4a4530"/><circle cx="33.9" cy="17.3" r="0.71" fill="#4a4530"/><circle cx="76.4" cy="11.4" r="0.82" fill="#4a4530"/><circle cx="104.7" cy="14.7" r="0.46" fill="#4a4530"/><circle cx="38.5" cy="8.4" r="0.46" fill="#4a4530"/><circle cx="87.5" cy="14.7" r="0.52" fill="#4a4530"/><circle cx="113.2" cy="16.1" r="0.81" fill="#4a4530"/><circle cx="104.2" cy="16.9" r="0.68" fill="#4a4530"/><circle cx="120.5" cy="8.1" r="0.76" fill="#4a4530"/><circle cx="110.7" cy="13.7" r="0.82" fill="#4a4530"/><circle cx="41.8" cy="12.7" r="0.55" fill="#4a4530"/><circle cx="62.9" cy="17.2" r="0.49" fill="#4a4530"/><circle cx="57.2" cy="19.5" r="0.57" fill="#4a4530"/><circle cx="36.4" cy="21.9" r="0.69" fill="#4a4530"/><circle cx="25.8" cy="15.1" r="0.49" fill="#4a4530"/><circle cx="40.0" cy="17.8" r="0.74" fill="#4a4530"/><circle cx="65.8" cy="14.2" r="0.69" fill="#4a4530"/><circle cx="69.0" cy="7.6" r="0.80" fill="#4a4530"/><circle cx="99.5" cy="12.8" r="0.62" fill="#4a4530"/><circle cx="83.8" cy="13.6" r="0.62" fill="#4a4530"/><circle cx="109.9" cy="20.5" r="0.49" fill="#4a4530"/><circle cx="40.9" cy="18.6" r="0.89" fill="#4a4530"/><circle cx="95.6" cy="10.8" r="0.45" fill="#4a4530"/><circle cx="105.1" cy="20.9" r="0.79" fill="#4a4530"/><circle cx="96.1" cy="21.6" r="0.68" fill="#4a4530"/><circle cx="115.1" cy="10.2" r="0.46" fill="#4a4530"/><circle cx="106.3" cy="17.2" r="0.81" fill="#4a4530"/><circle cx="36.8" cy="10.8" r="0.71" fill="#4a4530"/><circle cx="30.3" cy="11.3" r="0.72" fill="#4a4530"/><circle cx="115.8" cy="17.5" r="0.61" fill="#4a4530"/>
<ellipse cx="124" cy="18" rx="6" ry="5" fill="#d88ea4"/>
<circle cx="135" cy="15" r="1.4" fill="#333"/>
</g>
<g transform="translate(1309.7,671.6) scale(0.981)">
<path d="M28,14 L10,1 L13,9 L18,19 L14,26 L0,36 L8,35 L28,27 Z" fill="#5e4a55"/>
<path d="M66,11 L70,2 L84,4 L100,12 Z" fill="#6a5660"/>
<path d="M42,30 L50,29 L58,36 L46,41 Z" fill="#6a5660"/>
<path d="M70,37 L86,38 L84,45 L68,44 Z" fill="#d8b89c"/>
<path d="M25,14 C40,12.5 55,11.5 68,11 C90,10.5 115,11 138,14 C148,16 154,19 154,21 C150,25 144,28 138,29 C125,35 115,40 106,41.5 C90,40 75,38.5 60,35 C45,31 35,29 25,27 Z" fill="url(#gRich)"/>
<circle cx="102.7" cy="31.0" r="0.72" fill="#8088a8"/><circle cx="86.1" cy="22.0" r="0.97" fill="#8088a8"/><circle cx="63.9" cy="16.6" r="0.59" fill="#8088a8"/><circle cx="61.0" cy="19.7" r="0.59" fill="#8088a8"/><circle cx="45.8" cy="19.0" r="0.61" fill="#8088a8"/><circle cx="91.9" cy="18.2" r="0.49" fill="#8088a8"/><circle cx="55.3" cy="23.0" r="0.65" fill="#8088a8"/><circle cx="108.3" cy="30.9" r="0.67" fill="#8088a8"/><circle cx="44.9" cy="25.2" r="0.85" fill="#8088a8"/><circle cx="74.6" cy="26.5" r="0.61" fill="#8088a8"/><circle cx="126.5" cy="29.7" r="0.87" fill="#8088a8"/><circle cx="130.4" cy="18.3" r="0.74" fill="#8088a8"/><circle cx="108.1" cy="30.8" r="0.65" fill="#8088a8"/><circle cx="48.9" cy="23.9" r="0.50" fill="#8088a8"/><circle cx="105.5" cy="14.1" r="0.69" fill="#8088a8"/><circle cx="83.0" cy="16.4" r="0.70" fill="#8088a8"/><circle cx="85.0" cy="21.5" r="0.92" fill="#8088a8"/><circle cx="121.6" cy="31.3" r="0.58" fill="#8088a8"/><circle cx="37.6" cy="19.5" r="0.51" fill="#8088a8"/><circle cx="105.5" cy="19.6" r="0.52" fill="#8088a8"/><circle cx="63.4" cy="21.1" r="0.84" fill="#8088a8"/><circle cx="81.1" cy="19.9" r="0.81" fill="#8088a8"/>
<path d="M137,15 C140,21 140,26 135,31" stroke="#9a8680" stroke-width="1.6" fill="none"/>
<circle cx="147" cy="19" r="1.7" fill="#3a3a3a"/>
</g>
<g transform="translate(1319.9,722) scale(1.000)">
<path d="M0,0 L24,9 L24,22 L0,30 L3,15 Z" fill="#cc9832"/>
<path d="M58,2 L65,-12 L84,-9 L88,0 Z" fill="#a89a62"/>
<path d="M28,22 L42,24 L40,35 L30,34 Z" fill="#d0a23e"/>
<path d="M70,26 L86,26 L82,33 L70,33 Z" fill="#d0a23e"/>
<path d="M20,9 C30,6 40,4 55,2 C70,0 90,0 110,3 C125,6 136,10 143,16 C139,20 133,22 125,24 C110,27 95,28 80,28 C60,27 40,25 20,21 Z" fill="url(#gBrown)"/>
<circle cx="120.1" cy="14.7" r="0.97" fill="#7a3f22"/><circle cx="120.0" cy="7.4" r="0.89" fill="#7a3f22"/><circle cx="120.0" cy="17.8" r="0.85" fill="#7a3f22"/><circle cx="42.8" cy="10.0" r="1.10" fill="#7a3f22"/><circle cx="35.8" cy="8.4" r="1.08" fill="#7a3f22"/><circle cx="72.2" cy="6.5" r="0.70" fill="#7a3f22"/><circle cx="120.4" cy="8.7" r="0.76" fill="#7a3f22"/><circle cx="90.9" cy="16.7" r="0.80" fill="#7a3f22"/><circle cx="33.6" cy="12.7" r="0.53" fill="#7a3f22"/><circle cx="34.9" cy="6.2" r="0.92" fill="#7a3f22"/><circle cx="54.8" cy="14.7" r="0.61" fill="#7a3f22"/><circle cx="37.4" cy="3.4" r="0.93" fill="#7a3f22"/><circle cx="115.2" cy="6.7" r="0.65" fill="#7a3f22"/><circle cx="26.4" cy="14.0" r="0.69" fill="#7a3f22"/><circle cx="39.4" cy="14.0" r="0.87" fill="#7a3f22"/><circle cx="72.0" cy="5.6" r="0.89" fill="#7a3f22"/><circle cx="83.3" cy="10.4" r="0.61" fill="#7a3f22"/><circle cx="122.5" cy="17.7" r="0.92" fill="#7a3f22"/><circle cx="129.6" cy="12.9" r="0.72" fill="#7a3f22"/><circle cx="37.2" cy="13.3" r="0.82" fill="#7a3f22"/><circle cx="70.8" cy="19.9" r="1.01" fill="#7a3f22"/><circle cx="37.1" cy="18.0" r="0.51" fill="#7a3f22"/><circle cx="93.4" cy="8.4" r="0.94" fill="#7a3f22"/><circle cx="125.0" cy="12.0" r="0.96" fill="#7a3f22"/><circle cx="30.7" cy="14.3" r="0.58" fill="#7a3f22"/><circle cx="72.8" cy="8.7" r="0.55" fill="#7a3f22"/><circle cx="103.5" cy="4.6" r="0.66" fill="#7a3f22"/><circle cx="34.0" cy="14.3" r="0.69" fill="#7a3f22"/><circle cx="29.7" cy="3.5" r="0.64" fill="#7a3f22"/><circle cx="78.2" cy="3.2" r="0.52" fill="#7a3f22"/><circle cx="95.0" cy="12.0" r="0.59" fill="#7a3f22"/><circle cx="57.8" cy="5.1" r="0.67" fill="#7a3f22"/><circle cx="65.7" cy="6.7" r="0.63" fill="#7a3f22"/><circle cx="48.8" cy="8.1" r="0.84" fill="#7a3f22"/><circle cx="118.0" cy="14.0" r="0.78" fill="#7a3f22"/><circle cx="25.3" cy="6.2" r="0.89" fill="#7a3f22"/><circle cx="67.5" cy="17.4" r="1.05" fill="#7a3f22"/><circle cx="56.1" cy="9.2" r="0.69" fill="#7a3f22"/><circle cx="96.0" cy="4.7" r="0.67" fill="#7a3f22"/><circle cx="117.2" cy="9.3" r="1.09" fill="#7a3f22"/><circle cx="66.6" cy="17.2" r="0.79" fill="#7a3f22"/><circle cx="35.4" cy="12.8" r="0.64" fill="#7a3f22"/><circle cx="121.4" cy="14.9" r="0.82" fill="#7a3f22"/><circle cx="121.9" cy="12.3" r="1.09" fill="#7a3f22"/><circle cx="100.1" cy="6.0" r="0.68" fill="#7a3f22"/><circle cx="113.8" cy="4.7" r="1.09" fill="#7a3f22"/><circle cx="29.3" cy="15.7" r="0.88" fill="#7a3f22"/><circle cx="67.6" cy="13.2" r="0.86" fill="#7a3f22"/><circle cx="62.8" cy="7.8" r="0.54" fill="#7a3f22"/><circle cx="93.8" cy="18.0" r="0.73" fill="#7a3f22"/><circle cx="115.1" cy="9.8" r="0.66" fill="#7a3f22"/><circle cx="109.1" cy="18.7" r="0.56" fill="#7a3f22"/><circle cx="116.5" cy="8.4" r="0.97" fill="#7a3f22"/><circle cx="55.8" cy="19.8" r="0.71" fill="#7a3f22"/><circle cx="46.7" cy="3.9" r="0.59" fill="#7a3f22"/>
<circle cx="133" cy="13" r="1.4" fill="#333"/>
</g>
<text transform="translate(3.2,249.7) scale(0.865,1)" font-size="61" fill="#000" stroke="#000" stroke-width="0.8">A</text>
<text transform="translate(10,995.6) scale(0.875,1)" font-size="60.4" fill="#000" stroke="#000" stroke-width="0.8">B</text>
<text transform="translate(16.4,1775.1) scale(0.845,1)" font-size="59.5" fill="#000" stroke="#000" stroke-width="0.8">C</text>
<text x="141.2" y="41.6" font-size="49" fill="#000" stroke="#000" stroke-width="0.9">i</text>
<text x="137.7" y="299.1" font-size="49" fill="#000" stroke="#000" stroke-width="0.9">ii</text>
<text x="137.7" y="557.9" font-size="49" fill="#000" stroke="#000" stroke-width="0.9">iii</text>
<text x="938.5" y="67.6" font-size="49" fill="#000" stroke="#000" stroke-width="0.9">iv</text>
<text x="951.5" y="323.5" font-size="52" fill="#000" stroke="#000" stroke-width="0.9">v</text>
<text x="953" y="569.4" font-size="48.5" fill="#000" stroke="#000" stroke-width="0.9">vi</text>
<text x="557" y="45.5" font-size="19" fill="#111">Elevation (m)</text>
<rect x="557.7" y="54.3" width="40.2" height="66" fill="url(#gLeg)"/>
<text x="602" y="73.6" font-size="19.5" fill="#111">8546</text>
<text x="602.5" y="117.6" font-size="19.5" fill="#111">176</text>
<text x="1171.5" y="55.8" font-size="19.5" fill="#111">N</text>
<path d="M1178.4,61.9 L1165.5,104.6 L1178.4,89.1 Z" fill="#000"/>
<path d="M1178.4,61.9 L1191.3,104.6 L1178.4,89.1 Z" fill="#fff" stroke="#000" stroke-width="1.6" stroke-linejoin="round"/>
<g><rect x="1262.3" y="34.7" width="226.60000000000014" height="154.7" fill="#f4f4f1"/><clipPath id="insclip"><rect x="1262.3" y="34.7" width="226.60000000000014" height="154.7"/></clipPath><g clip-path="url(#insclip)"><polygon points="1262.0,34.0 1489.0,34.0 1489.0,115.0 1440.0,112.0 1400.0,105.0 1380.0,90.0 1340.0,60.0 1300.0,50.0 1262.0,70.0" fill="#e9e9e6" filter="url(#blur8)"/><polygon points="1330.0,70.0 1350.0,85.0 1370.0,100.0 1395.0,112.0 1430.0,118.0 1470.0,112.0 1489.0,115.0 1489.0,135.0 1450.0,138.0 1410.0,135.0 1380.0,125.0 1350.0,110.0 1325.0,95.0 1310.0,80.0" fill="#dfe6cf" filter="url(#blur5)"/><polygon points="1470.0,140.0 1489.0,138.0 1489.0,160.0 1475.0,158.0" fill="#e2e8d2"/><path d="M1262.3,168 Q1280,170 1292,189.4 L1262.3,189.4 Z" fill="#cfe6f2"/><path d="M1450,189.4 Q1470,176 1489,172 L1489,189.4 Z" fill="#cfe6f2"/><path d="M1310,70 Q1320,95 1330,110 T1340,140 Q1330,160 1300,170" fill="none" stroke="#b7d7ea" stroke-width="0.8"/><path d="M1380,140 Q1410,146 1440,150 T1470,160" fill="none" stroke="#b7d7ea" stroke-width="0.8"/><path d="M1420,108 Q1450,100 1488,96" fill="none" stroke="#b7d7ea" stroke-width="0.8"/><path d="M1290,95 Q1300,120 1295,140 Q1292,160 1300,189" fill="none" stroke="#d9c6e2" stroke-width="0.8"/><path d="M1262,120 Q1280,125 1300,118" fill="none" stroke="#d9c6e2" stroke-width="0.8"/><polygon points="1283.9,85.8 1284.0,84.9 1284.7,84.2 1285.5,83.6 1286.1,82.7 1286.6,81.8 1287.0,80.7 1287.8,79.9 1287.4,78.8 1287.0,77.8 1286.0,78.1 1285.0,78.1 1283.9,78.5 1282.9,78.8 1282.2,79.9 1281.1,80.1 1280.1,80.4 1279.2,79.9 1278.4,80.4 1277.8,81.3 1276.9,81.8 1275.9,82.0 1275.0,82.7 1273.7,82.9 1272.7,82.3 1271.7,81.3 1271.8,80.3 1272.2,79.4 1272.2,78.5 1271.8,77.6 1271.9,76.6 1272.6,75.8 1272.7,74.7 1273.1,73.8 1274.0,73.6 1274.5,72.8 1275.3,72.2 1276.1,72.0 1277.0,72.1 1277.8,71.9 1278.7,71.5 1279.0,70.5 1279.7,70.0 1278.8,70.2 1277.8,70.0 1276.9,69.1 1276.9,68.1 1276.7,67.1 1277.1,66.2 1277.9,65.7 1278.8,65.5 1279.7,65.2 1280.6,64.8 1281.6,64.3 1282.5,63.4 1283.2,62.9 1284.0,62.5 1284.9,62.4 1286.0,62.0 1287.3,62.0 1288.0,61.5 1288.6,60.9 1289.2,60.2 1290.1,60.1 1291.0,59.8 1291.6,59.2 1292.3,58.7 1292.9,58.2 1293.9,58.0 1294.3,58.7 1294.3,59.6 1294.7,60.5 1295.4,61.1 1296.2,61.5 1297.1,61.1 1298.1,61.3 1298.5,60.4 1299.1,59.6 1299.6,58.9 1299.9,58.0 1300.5,57.3 1300.5,56.3 1301.1,55.5 1301.9,54.9 1302.4,53.9 1303.2,53.4 1303.8,52.4 1304.7,51.8 1305.5,51.3 1306.3,51.0 1307.0,50.4 1307.6,49.7 1308.3,49.4 1309.2,49.1 1309.9,48.7 1310.8,48.1 1311.8,48.0 1312.8,48.1 1313.7,47.6 1314.5,47.4 1315.4,47.1 1316.3,47.3 1317.1,47.3 1318.0,47.1 1319.0,47.2 1320.1,46.8 1321.2,46.9 1322.2,46.8 1323.1,46.9 1324.1,46.4 1325.0,45.9 1326.0,45.7 1326.9,45.1 1327.8,44.7 1329.0,44.7 1330.1,44.9 1331.2,45.0 1332.2,44.9 1333.2,45.3 1334.0,45.9 1334.3,46.8 1334.6,47.7 1335.4,48.3 1336.0,49.1 1336.8,49.7 1337.1,50.5 1337.5,51.3 1337.5,52.2 1337.7,53.0 1338.1,54.0 1338.8,54.6 1339.6,55.2 1340.4,55.2 1341.3,55.5 1342.1,55.0 1343.0,55.2 1343.8,55.2 1344.1,56.1 1344.9,56.6 1345.5,57.3 1346.4,57.5 1347.3,57.6 1348.0,58.1 1348.8,58.7 1349.8,58.6 1350.5,58.0 1351.5,58.5 1352.4,58.3 1353.2,58.3 1354.1,58.0 1354.9,57.9 1355.7,57.5 1356.6,57.9 1357.4,58.3 1358.3,58.6 1359.1,59.0 1359.6,59.8 1359.1,60.7 1359.6,61.6 1360.0,62.3 1359.9,63.2 1360.6,63.9 1361.2,64.5 1362.0,65.1 1362.5,65.8 1363.4,66.0 1364.2,66.5 1365.0,66.9 1365.9,67.3 1366.7,67.5 1367.6,67.4 1368.4,66.9 1369.3,67.0 1370.1,66.9 1371.0,67.1 1371.6,67.7 1372.3,68.3 1373.2,68.3 1374.0,68.0 1374.9,67.7 1375.8,67.5 1376.5,66.8 1377.4,66.7 1378.2,66.9 1379.1,66.8 1379.9,66.3 1380.8,66.3 1381.6,66.7 1382.4,66.1 1383.4,66.6 1384.1,66.1 1385.0,65.8 1385.9,66.0 1386.7,66.2 1387.6,66.1 1388.5,66.0 1389.3,66.4 1390.1,67.0 1390.4,67.9 1391.2,68.4 1391.8,69.2 1392.2,70.0 1392.3,71.0 1392.8,71.7 1393.1,72.6 1392.5,73.5 1391.8,74.3 1390.9,74.3 1389.9,74.7 1389.0,74.4 1388.0,74.3 1387.4,75.0 1386.7,75.6 1385.9,75.9 1385.0,76.1 1384.1,75.6 1383.3,76.0 1383.2,76.8 1383.3,77.7 1382.9,78.5 1383.9,79.3 1385.0,79.8 1384.0,80.3 1383.6,81.5 1382.5,81.9 1383.2,82.6 1383.6,83.5 1383.7,84.5 1384.4,85.1 1385.4,85.3 1385.9,86.2 1386.7,86.6 1387.3,87.4 1388.1,88.1 1388.8,88.7 1389.2,89.5 1388.8,90.5 1389.1,91.3 1389.5,92.1 1389.7,93.0 1390.3,93.9 1390.4,95.0 1391.0,95.9 1390.6,97.0 1390.1,98.1 1391.1,98.5 1392.1,98.8 1393.0,99.4 1393.9,99.8 1394.8,100.0 1395.4,100.7 1395.7,101.6 1396.5,102.1 1397.3,102.3 1396.9,103.2 1396.6,104.0 1395.7,104.5 1395.5,105.4 1396.0,106.2 1396.6,106.9 1397.4,107.3 1398.5,107.1 1399.3,107.5 1400.0,108.2 1400.6,108.8 1401.4,109.1 1402.3,109.5 1403.2,109.6 1403.9,110.2 1404.7,110.7 1405.5,111.1 1406.4,111.5 1407.2,111.8 1408.1,111.9 1408.9,112.4 1409.7,112.7 1410.5,113.1 1411.4,113.3 1412.3,113.5 1413.2,113.1 1413.4,114.0 1414.2,114.5 1414.8,115.1 1415.4,115.7 1415.8,116.4 1416.7,115.8 1417.7,115.5 1418.8,115.7 1419.8,115.4 1420.6,115.0 1421.5,114.7 1422.4,114.5 1423.5,114.6 1424.4,114.1 1425.4,114.0 1426.4,113.8 1427.4,113.4 1428.5,113.0 1429.7,113.1 1430.5,112.7 1431.3,112.3 1432.2,112.4 1433.0,112.1 1434.0,112.8 1435.2,112.7 1436.3,112.8 1437.4,112.7 1438.5,113.3 1439.6,113.1 1440.6,113.2 1441.6,113.0 1442.6,113.0 1443.5,112.5 1444.5,112.8 1445.5,113.1 1446.5,112.8 1447.5,113.1 1448.6,113.6 1449.7,113.7 1450.8,113.5 1451.7,112.9 1452.8,113.2 1453.8,112.9 1454.8,112.5 1455.4,113.0 1456.1,113.6 1456.7,114.1 1457.1,115.0 1457.1,115.9 1457.7,116.6 1458.1,117.4 1458.0,118.4 1458.6,119.1 1458.8,120.1 1459.6,120.7 1460.7,120.7 1461.7,119.9 1462.1,118.8 1462.9,118.1 1463.9,117.5 1464.7,116.8 1465.8,116.8 1466.7,116.3 1467.7,115.8 1468.6,115.4 1468.9,114.5 1469.4,113.6 1470.0,112.8 1470.9,112.6 1471.6,111.9 1472.7,112.1 1473.4,111.3 1474.5,111.5 1475.3,110.8 1476.2,110.8 1477.0,111.4 1477.9,111.3 1478.8,111.3 1479.7,111.4 1480.5,111.5 1480.8,112.5 1481.1,113.5 1481.7,114.4 1481.9,115.4 1482.5,116.3 1482.7,117.3 1482.7,118.4 1483.4,119.2 1483.9,120.1 1484.5,120.8 1484.3,121.8 1484.7,122.6 1484.9,123.5 1485.7,124.1 1485.6,125.1 1486.5,125.7 1486.5,126.7 1487.8,130.0 1487.8,132.6 1486.5,133.3 1479.2,135.3 1466.0,138.3 1452.8,139.9 1439.6,140.5 1426.4,140.2 1413.2,139.2 1400.0,137.9 1393.0,136.4 1377.0,132.4 1360.9,127.6 1352.9,125.2 1351.3,122.7 1350.5,117.9 1351.3,113.9 1352.9,111.5 1353.7,108.3 1351.3,104.6 1347.9,104.6 1344.8,105.1 1342.0,105.8 1337.0,103.0 1332.8,101.0 1324.8,97.1 1312.8,91.9 1296.8,87.4 1283.9,85.8" fill="none" stroke="#111" stroke-width="1.1" stroke-linejoin="round"/><polyline points="1351.3,103.9 1351.7,102.9 1352.4,102.1 1352.9,101.2 1353.6,100.5 1354.6,99.9 1355.3,99.1 1356.3,98.8 1357.1,98.2 1358.2,98.1 1359.1,97.8 1360.0,98.2 1361.0,98.1 1362.0,98.4 1362.9,98.8 1363.8,99.3 1364.8,99.2 1365.6,98.7 1366.6,98.4 1367.6,97.9 1368.4,97.2 1369.0,97.9 1369.6,98.7 1370.5,99.3 1371.0,100.2 1371.8,100.6 1372.6,101.0 1373.5,101.2 1374.3,101.6 1375.2,102.0 1376.0,102.3 1376.9,102.3 1377.7,102.9 1378.6,103.2 1379.6,104.4 1380.9,104.3 1382.1,104.0 1383.0,104.1 1383.9,104.2 1384.7,104.7 1385.6,104.7 1386.5,104.7 1387.3,104.8 1388.1,104.8 1389.0,104.7 1389.8,104.6 1390.7,104.8 1391.5,104.6 1392.4,104.8 1393.2,104.7 1394.1,104.7 1395.5,105.4" fill="none" stroke="#111" stroke-width="1.1"/><text x="1285.7" y="68.1" font-size="6.5" fill="#666" letter-spacing="0" font-family="Liberation Serif">Kabul</text><text x="1316.8" y="75.1" font-size="7" fill="#666" letter-spacing="0" font-family="Liberation Serif">Islamabad</text><text x="1315.2" y="95.3" font-size="6.5" fill="#666" letter-spacing="0" font-family="Liberation Serif">Lahore</text><text x="1344" y="123.3" font-size="7" fill="#666" letter-spacing="0" font-family="Liberation Serif">New Delhi</text><text x="1398.4" y="128" font-size="6.5" fill="#666" letter-spacing="0.5" font-family="Liberation Serif">NEPAL</text><text x="1264.7" y="129.5" font-size="6.5" fill="#666" letter-spacing="1.5" font-family="Liberation Serif">KISTAN</text><text x="1263" y="162" font-size="6.5" fill="#666" letter-spacing="0" font-family="Liberation Serif">achi</text><text x="1291.1" y="177.7" font-size="7.2" fill="#666" letter-spacing="0" font-family="Liberation Serif">Ahmedabad</text><text x="1353.3" y="173" font-size="7" fill="#666" letter-spacing="1.8" font-family="Liberation Serif">INDIA</text><text x="1441.9" y="159.1" font-size="7" fill="#666" letter-spacing="1.2" font-family="Liberation Serif">BANGLAI</text><text x="1469.9" y="173" font-size="6.5" fill="#666" letter-spacing="0" font-family="Liberation Serif">Dha</text><text x="1407.7" y="148.2" font-size="6" fill="#8fb8d8" letter-spacing="0" font-family="Liberation Serif">Ganges</text><text x="1447" y="101" font-size="6" fill="#8fb8d8" letter-spacing="0" font-family="Liberation Serif">Brahmaputra</text><text transform="translate(1394,73) rotate(-9)" font-size="7" fill="#777" letter-spacing="3.2" font-family="Liberation Serif">PLATEAU OF</text><text transform="translate(1421,79) rotate(-9)" font-size="7" fill="#777" letter-spacing="3.2" font-family="Liberation Serif">TIBET</text></g><rect x="1262.3" y="34.7" width="226.60000000000014" height="154.7" fill="none" stroke="#222" stroke-width="2"/></g>
<text x="161" y="824" font-size="24" fill="#111">0</text>
<text x="272" y="824" font-size="24" fill="#111">500</text>
<text x="387" y="824" font-size="24" fill="#111">1,000</text>
<text x="453" y="824" font-size="23" fill="#111">Km</text>
<path d="M167.6,831.8 V840 H417.4 V831.8 M292.5,840 V832" fill="none" stroke="#222" stroke-width="2"/>
<line x1="813.8" y1="3.4" x2="813.8" y2="1636" stroke="#000" stroke-width="2.4" stroke-dasharray="14 10.16" stroke-linecap="butt"/>
<line x1="813.8" y1="1644.4" x2="826" y2="2322.6" stroke="#000" stroke-width="2.4" stroke-dasharray="13.6 10.12" stroke-linecap="butt"/>
<g><rect x="141.4" y="862.4" width="1333.6" height="699.2" fill="none" stroke="#c8c8c8" stroke-width="1.3"/><line x1="1475" y1="862.4" x2="1475" y2="1561.6" stroke="#333" stroke-width="1.3"/><line x1="141.4" y1="862.4" x2="141.4" y2="1561.6" stroke="#8a8a8a" stroke-width="1.3"/><line x1="135" y1="1066.6" x2="141.4" y2="1066.6" stroke="#555" stroke-width="1.2"/><text x="133.5" y="1075.1999999999998" font-size="24" fill="#4d4d4d" text-anchor="end">4000</text><line x1="135" y1="1298.5" x2="141.4" y2="1298.5" stroke="#555" stroke-width="1.2"/><text x="133.5" y="1307.1" font-size="24" fill="#4d4d4d" text-anchor="end">2000</text><line x1="135" y1="1530.4" x2="141.4" y2="1530.4" stroke="#555" stroke-width="1.2"/><text x="133.5" y="1539.0" font-size="24" fill="#4d4d4d" text-anchor="end">0</text><text transform="translate(73,1211.7) rotate(-90)" font-size="24.6" fill="#111" text-anchor="middle">Elevation (mamsl)</text><line x1="331.6" y1="1561.6" x2="331.6" y2="1565.5" stroke="#555" stroke-width="1.2"/><line x1="649" y1="1561.6" x2="649" y2="1565.5" stroke="#555" stroke-width="1.2"/><line x1="966.6" y1="1561.6" x2="966.6" y2="1565.5" stroke="#555" stroke-width="1.2"/><line x1="1284.4" y1="1561.6" x2="1284.4" y2="1565.5" stroke="#555" stroke-width="1.2"/><line x1="267.8" y1="893.9" x2="267.8" y2="1082.2" stroke="#1a1a1a" stroke-width="1.4"/><line x1="267.8" y1="1331.3" x2="267.8" y2="1510.3" stroke="#1a1a1a" stroke-width="1.4"/><rect x="241.5" y="1082.2" width="52.5" height="249.1" fill="#0072B2" stroke="#0a0a0a" stroke-width="1.8"/><line x1="241.3" y1="1209.3" x2="294.2" y2="1209.3" stroke="#000" stroke-width="3.5"/><line x1="330.8" y1="896.2" x2="330.8" y2="1068.2" stroke="#1a1a1a" stroke-width="1.4"/><line x1="330.8" y1="1263.6" x2="330.8" y2="1400.7" stroke="#1a1a1a" stroke-width="1.4"/><rect x="304.5" y="1068.2" width="52.5" height="195.4" fill="#E69F00" stroke="#0a0a0a" stroke-width="1.8"/><line x1="304.3" y1="1153.3" x2="357.2" y2="1153.3" stroke="#000" stroke-width="3.5"/><line x1="394.6" y1="895.2" x2="394.6" y2="1104.0" stroke="#1a1a1a" stroke-width="1.4"/><line x1="394.6" y1="1325.6" x2="394.6" y2="1456.6" stroke="#1a1a1a" stroke-width="1.4"/><rect x="368.2" y="1104.0" width="52.8" height="221.6" fill="#56B4E9" stroke="#0a0a0a" stroke-width="1.8"/><line x1="368.0" y1="1226.7" x2="421.2" y2="1226.7" stroke="#000" stroke-width="3.5"/><line x1="585.2" y1="1006.9" x2="585.2" y2="1184.4" stroke="#1a1a1a" stroke-width="1.4"/><line x1="585.2" y1="1354.4" x2="585.2" y2="1503.8" stroke="#1a1a1a" stroke-width="1.4"/><rect x="559.0" y="1184.4" width="52.4" height="170.0" fill="#0072B2" stroke="#0a0a0a" stroke-width="1.8"/><line x1="558.8" y1="1258.4" x2="611.6" y2="1258.4" stroke="#000" stroke-width="3.5"/><line x1="649.0" y1="1009.4" x2="649.0" y2="1174.7" stroke="#1a1a1a" stroke-width="1.4"/><line x1="649.0" y1="1307.5" x2="649.0" y2="1485.6" stroke="#1a1a1a" stroke-width="1.4"/><rect x="623.0" y="1174.7" width="52.1" height="132.8" fill="#E69F00" stroke="#0a0a0a" stroke-width="1.8"/><line x1="622.8" y1="1234.0" x2="675.3" y2="1234.0" stroke="#000" stroke-width="3.5"/><line x1="712.5" y1="1006.9" x2="712.5" y2="1184.0" stroke="#1a1a1a" stroke-width="1.4"/><line x1="712.5" y1="1351.3" x2="712.5" y2="1499.0" stroke="#1a1a1a" stroke-width="1.4"/><rect x="686.5" y="1184.0" width="52.1" height="167.3" fill="#56B4E9" stroke="#0a0a0a" stroke-width="1.8"/><line x1="686.3" y1="1256.3" x2="738.8" y2="1256.3" stroke="#000" stroke-width="3.5"/><line x1="903.2" y1="1064.7" x2="903.2" y2="1300.6" stroke="#1a1a1a" stroke-width="1.4"/><line x1="903.2" y1="1459.0" x2="903.2" y2="1528.8" stroke="#1a1a1a" stroke-width="1.4"/><rect x="876.8000000000001" y="1300.6" width="52.7" height="158.4" fill="#009E73" stroke="#0a0a0a" stroke-width="1.8"/><line x1="876.6" y1="1388.0" x2="929.7" y2="1388.0" stroke="#000" stroke-width="3.5"/><line x1="903.2" y1="897.9" x2="903.2" y2="899" stroke="#000" stroke-width="4.4" stroke-linecap="round"/><line x1="903.2" y1="906" x2="903.2" y2="911" stroke="#000" stroke-width="4.4" stroke-linecap="round"/><line x1="903.2" y1="915" x2="903.2" y2="939" stroke="#000" stroke-width="4.4" stroke-linecap="round"/><line x1="903.2" y1="945" x2="903.2" y2="956" stroke="#000" stroke-width="4.4" stroke-linecap="round"/><line x1="903.2" y1="961" x2="903.2" y2="966" stroke="#000" stroke-width="4.4" stroke-linecap="round"/><line x1="903.2" y1="972" x2="903.2" y2="983" stroke="#000" stroke-width="4.4" stroke-linecap="round"/><line x1="903.2" y1="988" x2="903.2" y2="1044" stroke="#000" stroke-width="4.4" stroke-linecap="round"/><line x1="903.2" y1="1049" x2="903.2" y2="1063.7" stroke="#000" stroke-width="4.4" stroke-linecap="round"/><line x1="966.8" y1="1113.0" x2="966.8" y2="1243.4" stroke="#1a1a1a" stroke-width="1.4"/><line x1="966.8" y1="1332.8" x2="966.8" y2="1400.6" stroke="#1a1a1a" stroke-width="1.4"/><rect x="940.5" y="1243.4" width="52.7" height="89.4" fill="#F0E442" stroke="#0a0a0a" stroke-width="1.8"/><line x1="940.3" y1="1290.3" x2="993.4" y2="1290.3" stroke="#000" stroke-width="3.5"/><circle cx="966.8" cy="1005.3" r="2.6" fill="#000"/><line x1="966.8" y1="1025.5" x2="966.8" y2="1111.5" stroke="#000" stroke-width="4.4" stroke-linecap="round"/><line x1="1030.6" y1="1096.6" x2="1030.6" y2="1277.2" stroke="#1a1a1a" stroke-width="1.4"/><line x1="1030.6" y1="1398.4" x2="1030.6" y2="1456.9" stroke="#1a1a1a" stroke-width="1.4"/><rect x="1004.2" y="1277.2" width="52.8" height="121.2" fill="#D55E00" stroke="#0a0a0a" stroke-width="1.8"/><line x1="1004.0" y1="1335.0" x2="1057.2" y2="1335.0" stroke="#000" stroke-width="3.5"/><circle cx="1030.6" cy="1005.3" r="2.6" fill="#000"/><line x1="1030.6" y1="1027.1" x2="1030.6" y2="1095.1" stroke="#000" stroke-width="4.4" stroke-linecap="round"/><line x1="1221.1" y1="1110.0" x2="1221.1" y2="1343.0" stroke="#1a1a1a" stroke-width="1.4"/><line x1="1221.1" y1="1499.9" x2="1221.1" y2="1529.0" stroke="#1a1a1a" stroke-width="1.4"/><rect x="1194.6000000000001" y="1343.0" width="53.0" height="156.9" fill="#009E73" stroke="#0a0a0a" stroke-width="1.8"/><line x1="1194.4" y1="1431.4" x2="1247.8" y2="1431.4" stroke="#000" stroke-width="3.5"/><line x1="1221.1" y1="1006.9" x2="1221.1" y2="1108.5" stroke="#000" stroke-width="4.6" stroke-linecap="round"/><line x1="1284.6" y1="1006.9" x2="1284.6" y2="1173.5" stroke="#1a1a1a" stroke-width="1.4"/><line x1="1284.6" y1="1303.9" x2="1284.6" y2="1497.7" stroke="#1a1a1a" stroke-width="1.4"/><rect x="1258.4" y="1173.5" width="52.4" height="130.4" fill="#F0E442" stroke="#0a0a0a" stroke-width="1.8"/><line x1="1258.2" y1="1232.0" x2="1311.0" y2="1232.0" stroke="#000" stroke-width="3.5"/><circle cx="1284.6" cy="1504.6" r="2.6" fill="#000"/><line x1="1348.0" y1="1077.9" x2="1348.0" y2="1289.2" stroke="#1a1a1a" stroke-width="1.4"/><line x1="1348.0" y1="1431.4" x2="1348.0" y2="1506.0" stroke="#1a1a1a" stroke-width="1.4"/><rect x="1321.8" y="1289.2" width="52.4" height="142.2" fill="#D55E00" stroke="#0a0a0a" stroke-width="1.8"/><line x1="1321.6" y1="1376.4" x2="1374.4" y2="1376.4" stroke="#000" stroke-width="3.5"/><line x1="1348.0" y1="1006.9" x2="1348.0" y2="1076.4" stroke="#000" stroke-width="4.6" stroke-linecap="round"/><text x="140.8" y="1588.5" font-size="24" fill="#111"><tspan font-style="italic">S. plagiostomus</tspan>_Indus</text><text x="522" y="1588.5" font-size="24" fill="#111"><tspan font-style="italic">S. plagiostomus</tspan>_Ganges</text><text x="881.6" y="1588.5" font-size="24" fill="#111"><tspan font-style="italic">S. richardsonii</tspan>_Indus</text><text x="1217.2" y="1588.5" font-size="24" fill="#111"><tspan font-style="italic">S. richardsonii</tspan>_Ganges</text></g>
<g><rect x="144.8" y="1639.1" width="1335.8" height="693.9" fill="none" stroke="#d0d0d0" stroke-width="1.3"/><line x1="139" y1="1678.6" x2="144.8" y2="1678.6" stroke="#333" stroke-width="1.2"/><text x="138" y="1687.0" font-size="23" fill="#111" text-anchor="end">150</text><line x1="139" y1="1886.3" x2="144.8" y2="1886.3" stroke="#333" stroke-width="1.2"/><text x="138" y="1894.7" font-size="23" fill="#111" text-anchor="end">100</text><line x1="139" y1="2094" x2="144.8" y2="2094" stroke="#333" stroke-width="1.2"/><text x="138" y="2102.4" font-size="23" fill="#111" text-anchor="end">50</text><line x1="139" y1="2301.7" x2="144.8" y2="2301.7" stroke="#333" stroke-width="1.2"/><text x="138" y="2310.1" font-size="23" fill="#111" text-anchor="end">0</text><text transform="translate(91,1985.5) rotate(-90)" font-size="24.2" fill="#111" text-anchor="middle">Stream length x 1000 km</text><line x1="336" y1="2333" x2="336" y2="2337" stroke="#555" stroke-width="1.2"/><line x1="654" y1="2333" x2="654" y2="2337" stroke="#555" stroke-width="1.2"/><line x1="972" y1="2333" x2="972" y2="2337" stroke="#555" stroke-width="1.2"/><line x1="1290" y1="2333" x2="1290" y2="2337" stroke="#555" stroke-width="1.2"/><rect x="217.2" y="1669.6" width="79.0" height="631.6" fill="#0072B2" stroke="#111" stroke-width="1.5"/><rect x="296.2" y="1871.3" width="80.1" height="429.9" fill="#E69F00" stroke="#111" stroke-width="1.5"/><text x="336.2" y="1906.8" font-size="27.5" fill="#111" text-anchor="middle">67%</text><rect x="376.3" y="1927.3" width="79.5" height="373.9" fill="#56B4E9" stroke="#111" stroke-width="1.5"/><text x="420.1" y="1962.8" font-size="27.5" fill="#111" text-anchor="middle">58%</text><rect x="534.9" y="2149.9" width="79.8" height="151.3" fill="#0072B2" stroke="#111" stroke-width="1.5"/><rect x="614.7" y="2171.0" width="79.7" height="130.2" fill="#E69F00" stroke="#111" stroke-width="1.5"/><text x="654.5" y="2206.5" font-size="27.5" fill="#111" text-anchor="middle">86%</text><rect x="694.4" y="2199.2" width="79.3" height="102.0" fill="#56B4E9" stroke="#111" stroke-width="1.5"/><text x="738.0" y="2234.7" font-size="27.5" fill="#111" text-anchor="middle">67%</text><rect x="853.0" y="2179.5" width="79.4" height="121.7" fill="#009E73" stroke="#111" stroke-width="1.5"/><rect x="932.4" y="2255.0" width="79.3" height="46.2" fill="#F0E442" stroke="#111" stroke-width="1.5"/><text x="972.0" y="2290.5" font-size="27.5" fill="#111" text-anchor="middle">38%</text><rect x="1011.7" y="2227.8" width="79.8" height="73.4" fill="#D55E00" stroke="#111" stroke-width="1.5"/><text x="1055.6" y="2263.3" font-size="27.5" fill="#111" text-anchor="middle">61%</text><rect x="1170.4" y="1877.4" width="79.3" height="423.8" fill="#009E73" stroke="#111" stroke-width="1.5"/><rect x="1249.7" y="2243.8" width="79.0" height="57.4" fill="#F0E442" stroke="#111" stroke-width="1.5"/><text x="1289.2" y="2279.3" font-size="27.5" fill="#111" text-anchor="middle">13%</text><rect x="1328.7" y="2042.3" width="80.8" height="258.9" fill="#D55E00" stroke="#111" stroke-width="1.5"/><text x="1373.1" y="2077.8" font-size="27.5" fill="#111" text-anchor="middle">60%</text><rect x="536" y="1678.5" width="612" height="271" fill="#fff"/><rect x="542.5" y="1685.9" width="18.9" height="42.7" fill="#0072B2" stroke="#222" stroke-width="1.2"/><text x="600.2" y="1720.8" font-size="38.8" fill="#000" font-style="italic">S. plagiostomus</text><rect x="542.5" y="1732.4" width="18.9" height="42.0" fill="#E69F00" stroke="#222" stroke-width="1.2"/><text x="600.2" y="1766.7" font-size="38.8" fill="#000" font-style="italic">S. plagiostomus</text><text x="891.1" y="1766.7" font-size="38.8" fill="#000">and</text><text x="968.3" y="1766.7" font-size="38.8" fill="#000" font-style="italic">O. mykiss</text><rect x="542.5" y="1778.4" width="18.9" height="42.3" fill="#56B4E9" stroke="#222" stroke-width="1.2"/><text x="600.2" y="1811.0" font-size="38.8" fill="#000" font-style="italic">S. plagiostomus</text><text x="891.1" y="1811.0" font-size="38.8" fill="#000">and</text><text x="978.2" y="1811.0" font-size="38.8" fill="#000" font-style="italic">S. trutta</text><rect x="542.5" y="1824.3" width="18.9" height="35.0" fill="#009E73" stroke="#222" stroke-width="1.2"/><text x="600.2" y="1856.9" font-size="38.8" fill="#000" font-style="italic">S. richardsonii</text><rect x="542.5" y="1862.9" width="18.9" height="41.8" fill="#F0E442" stroke="#222" stroke-width="1.2"/><text x="600.2" y="1896.0" font-size="38.8" fill="#000" font-style="italic">S. richardsonii</text><text x="861" y="1896.0" font-size="38.8" fill="#000">and</text><text x="938.3" y="1896.0" font-size="38.8" fill="#000" font-style="italic">O. mykiss</text><rect x="542.5" y="1908.8" width="18.9" height="34.9" fill="#D55E00" stroke="#222" stroke-width="1.2"/><text x="600.2" y="1941.8" font-size="38.8" fill="#000" font-style="italic">S. richardsonii</text><text x="861" y="1941.8" font-size="38.8" fill="#000">and</text><text x="936" y="1941.8" font-size="38.8" fill="#000" font-style="italic">S. trutta</text><text x="151.5" y="2360.5" font-size="24" fill="#111"><tspan font-style="italic">S. plagiostomus</tspan>_Indus</text><text x="530.2" y="2360.5" font-size="24" fill="#111"><tspan font-style="italic">S. plagiostomus</tspan>_Ganges</text><text x="886" y="2360.5" font-size="24" fill="#111"><tspan font-style="italic">S. richardsonii</tspan>_Indus</text><text x="1219.4" y="2360.5" font-size="24" fill="#111"><tspan font-style="italic">S. richardsonii</tspan>_Ganges</text></g>
</svg></body></html>
